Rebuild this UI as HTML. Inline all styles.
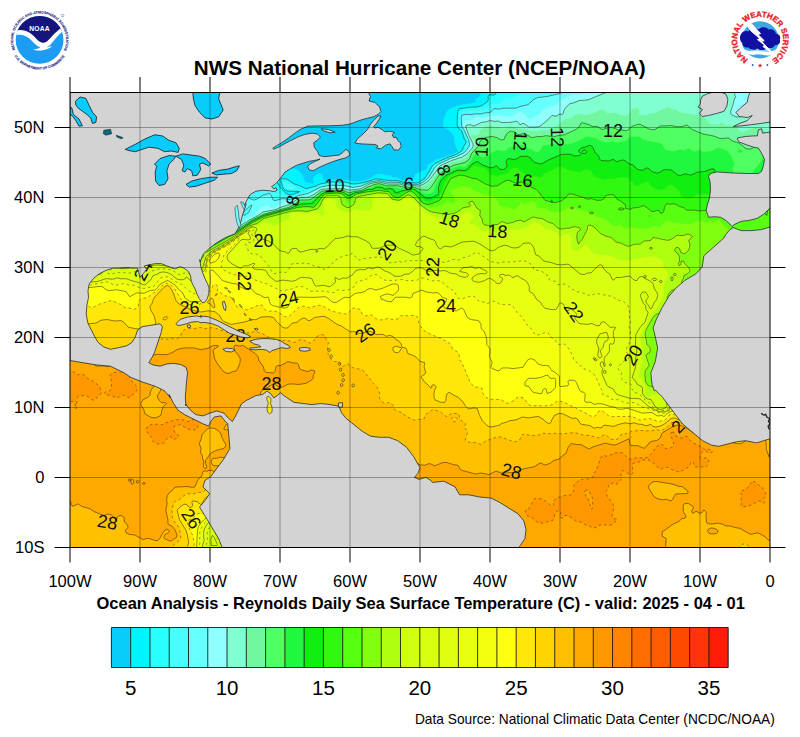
<!DOCTYPE html>
<html><head><meta charset="utf-8">
<style>
html,body{margin:0;padding:0;background:#fff;}
body{width:800px;height:737px;overflow:hidden;position:relative;font-family:"Liberation Sans",sans-serif;}
svg{position:absolute;left:0;top:0;}
text{font-family:"Liberation Sans",sans-serif;}
</style></head><body>
<svg width="800" height="737" viewBox="0 0 800 737">
<defs>
<clipPath id="mapclip"><rect x="70" y="92.5" width="700" height="455"/></clipPath>
</defs>
<rect x="0" y="0" width="800" height="737" fill="#fff"/>
<!-- MAP -->
<g id="map" clip-path="url(#mapclip)">
<rect x="70" y="92.5" width="700" height="455" fill="#ffa800"/>
<g id="sst" stroke="none" fill-rule="evenodd">
<path fill="#08ccfc" stroke="#08ccfc" stroke-width="0.6" d="M162.0,90.5 182.8,90.5 184.7,93.5 186.0,96.9 192.0,97.0 200.0,101.5 206.0,102.4 207.0,102.1 211.0,97.9 213.0,97.3 215.2,92.5 215.4,90.5 479.4,90.5 479.3,92.5 480.0,94.1 481.0,94.5 481.0,95.5 478.0,98.1 475.0,99.2 475.0,100.1 476.4,101.5 475.5,102.5 458.0,105.7 450.7,108.5 446.9,111.5 445.6,115.5 444.0,118.5 443.2,126.5 444.1,127.5 448.0,129.5 452.6,133.5 454.6,138.5 454.7,142.5 456.7,148.5 458.3,150.5 458.1,151.5 457.0,152.5 452.6,154.5 435.0,160.2 427.7,165.5 427.2,168.5 426.4,169.5 420.0,172.6 416.0,173.7 414.7,175.5 414.3,178.5 413.0,179.4 410.0,179.1 407.0,180.7 403.3,180.5 400.2,179.5 397.0,177.6 392.7,177.5 390.0,175.5 386.0,175.8 383.0,174.5 380.0,174.1 376.0,174.5 370.3,178.5 363.0,181.1 355.0,181.6 347.0,179.9 339.0,180.4 332.0,179.3 328.6,180.5 326.0,180.7 322.7,179.5 322.4,175.5 321.8,174.5 320.0,173.5 317.0,174.4 313.3,177.5 313.1,179.5 314.4,182.5 313.7,183.5 312.0,183.8 305.4,182.5 302.0,174.6 299.3,171.5 296.0,169.2 280.0,168.3 279.0,167.0 278.2,162.5 275.0,158.0 272.0,156.9 268.0,157.4 262.4,155.5 258.3,152.5 257.0,148.2 253.0,145.5 251.0,145.5 249.0,148.6 245.0,150.9 242.2,153.5 241.8,154.5 241.9,157.5 241.3,158.5 240.0,159.4 238.0,158.9 235.1,156.5 234.5,155.5 234.3,153.5 231.0,152.3 225.0,148.5 223.9,147.5 223.1,145.5 228.0,141.0 232.0,140.0 233.7,137.5 235.0,133.0 240.0,129.7 243.6,128.5 244.1,127.5 242.9,125.5 239.9,124.5 237.5,125.5 236.0,127.3 235.0,127.6 234.0,127.2 232.3,124.5 232.3,119.5 230.8,118.5 230.1,119.5 229.3,123.5 226.5,126.5 226.4,127.5 229.4,131.5 229.1,133.5 226.0,136.5 223.0,136.9 217.0,140.4 208.0,133.5 204.7,129.5 201.1,127.5 200.3,124.5 199.0,122.7 194.0,120.6 186.9,116.5 182.0,111.2 172.0,102.7 171.0,100.5 174.0,100.9 175.1,100.5 175.8,99.5 176.0,97.5 175.0,95.9 173.0,95.9 170.0,98.3 169.0,98.5 163.0,94.2 161.5,91.5 161.4,90.5ZM222.2,98.5 222.8,100.5 224.0,101.6 226.0,102.7 228.0,102.8 224.0,98.5 223.0,98.0ZM227.5,109.5 226.6,111.5 227.0,113.0 228.0,113.7 230.0,113.3 230.5,111.5 230.0,109.8 229.0,109.2ZM270.7,140.5 267.2,147.5 267.0,148.5 267.8,149.5 272.0,149.8 275.0,151.6 277.0,151.8 280.0,153.1 282.0,153.0 284.0,151.7 284.4,150.5 283.9,149.5 277.0,142.3 274.0,140.5 272.0,140.0ZM482.0,94.4 482.0,94.6 481.1,94.5Z"/>
<path fill="#00f4ff" stroke="#00f4ff" stroke-width="0.6" d="M159.0,90.5 161.4,90.5 161.8,92.5 163.3,94.5 169.0,98.5 170.0,98.3 173.0,95.9 175.0,95.9 176.0,97.5 175.8,99.5 175.1,100.5 174.0,100.9 171.0,100.5 172.0,102.7 182.0,111.2 186.9,116.5 194.0,120.6 199.0,122.7 200.3,124.5 201.1,127.5 204.7,129.5 208.0,133.5 217.0,140.4 223.0,136.9 226.0,136.5 229.1,133.5 229.4,131.5 226.4,127.5 226.5,126.5 229.3,123.5 230.1,119.5 230.8,118.5 232.3,119.5 232.3,124.5 234.0,127.2 235.0,127.6 236.0,127.3 237.5,125.5 239.9,124.5 242.9,125.5 244.1,127.5 243.6,128.5 240.0,129.7 235.0,133.0 233.7,137.5 232.0,140.0 228.0,141.0 223.1,145.5 223.9,147.5 225.0,148.5 231.0,152.3 234.3,153.5 234.5,155.5 235.1,156.5 238.0,158.9 240.0,159.4 241.3,158.5 241.9,157.5 241.8,154.5 242.2,153.5 245.0,150.9 249.0,148.6 251.0,145.5 253.0,145.5 257.0,148.2 258.3,152.5 262.4,155.5 268.0,157.4 272.0,156.9 275.0,158.0 278.2,162.5 279.0,167.0 280.0,168.3 296.0,169.2 299.3,171.5 302.0,174.6 305.4,182.5 312.0,183.8 313.7,183.5 314.4,182.5 313.1,179.5 313.3,177.5 317.0,174.4 320.0,173.5 321.8,174.5 322.4,175.5 322.7,179.5 326.0,180.7 328.6,180.5 332.0,179.3 339.0,180.4 347.0,179.9 355.0,181.6 363.0,181.1 370.3,178.5 376.0,174.5 380.0,174.1 383.0,174.5 386.0,175.8 390.0,175.5 392.7,177.5 397.0,177.6 400.2,179.5 403.3,180.5 407.0,180.7 410.0,179.1 413.0,179.4 414.3,178.5 414.7,175.5 416.0,173.7 420.0,172.6 426.4,169.5 427.2,168.5 427.7,165.5 435.0,160.2 452.6,154.5 457.0,152.5 458.1,151.5 458.3,150.5 456.7,148.5 454.7,142.5 454.6,138.5 452.6,133.5 448.0,129.5 444.1,127.5 443.2,126.5 443.7,119.5 447.0,111.3 451.0,108.3 458.0,105.7 475.5,102.5 476.4,101.5 475.0,100.1 475.0,99.2 478.0,98.1 481.0,95.5 481.0,94.5 480.0,94.1 479.3,92.5 479.4,90.5 497.9,90.5 496.0,93.5 494.0,95.0 489.0,95.0 488.1,96.5 488.0,100.9 481.7,105.5 477.0,107.0 468.0,107.4 460.0,108.6 458.6,109.5 457.6,112.5 457.0,124.5 458.7,128.5 462.1,131.5 464.2,138.5 466.0,141.5 466.0,142.7 463.6,146.5 462.3,150.5 456.2,154.5 448.0,157.3 435.0,163.4 432.1,166.5 425.5,177.5 418.6,182.5 416.0,183.2 412.0,182.5 407.0,183.2 398.0,180.7 389.0,180.5 376.0,178.8 363.0,182.7 355.0,183.9 352.0,183.8 346.0,182.1 331.0,181.9 320.0,184.0 314.6,186.5 306.0,188.7 299.0,185.3 294.0,183.8 287.0,179.1 282.0,178.6 281.0,179.5 280.9,181.5 282.8,187.5 285.0,190.1 288.0,191.2 299.7,191.5 298.9,192.5 290.0,195.2 286.1,193.5 280.3,187.5 275.0,178.8 271.0,179.0 269.0,177.5 268.3,175.5 267.9,166.5 267.0,166.0 264.5,166.5 253.0,172.0 247.0,168.6 243.0,165.0 240.5,163.5 227.0,151.5 224.0,149.5 220.0,145.2 216.0,142.5 212.0,138.5 209.0,136.5 204.0,131.4 201.0,129.5 197.0,125.0 185.2,116.5 181.0,112.0 178.0,109.9 166.0,98.6 163.0,96.5 158.2,90.5ZM481.1,94.5 482.0,94.6 482.1,94.5 482.0,94.4ZM183.0,90.5 215.4,90.5 215.4,91.5 213.0,97.3 211.0,97.9 207.0,102.1 206.0,102.4 200.0,101.5 192.0,97.0 186.0,96.9ZM223.0,98.0 224.0,98.5 228.0,102.8 226.0,102.7 223.0,100.7 222.2,98.5ZM228.0,109.3 229.7,109.5 230.4,110.5 230.4,112.5 229.0,113.8 228.0,113.7 226.7,112.5 226.8,110.5ZM271.0,140.2 274.0,140.5 277.0,142.3 283.9,149.5 284.4,150.5 284.0,151.7 282.0,153.0 280.0,153.1 277.0,151.8 275.0,151.6 272.0,149.8 267.8,149.5 267.0,148.5 267.5,146.5Z"/>
<path fill="#28ffff" stroke="#28ffff" stroke-width="0.6" d="M157.0,90.5 158.2,90.5 163.0,96.5 166.0,98.6 178.0,109.9 181.0,112.0 185.2,116.5 197.0,125.0 201.0,129.5 204.0,131.4 209.0,136.5 212.0,138.5 216.0,142.5 220.0,145.2 224.0,149.5 227.0,151.5 240.5,163.5 243.0,165.0 247.0,168.6 253.0,172.0 264.5,166.5 267.0,166.0 267.9,166.5 268.3,175.5 269.0,177.5 271.0,179.0 275.0,178.8 280.3,187.5 286.1,193.5 290.0,195.2 298.9,192.5 299.7,191.5 288.0,191.2 285.0,190.1 282.8,187.5 280.9,181.5 281.0,179.5 282.0,178.6 287.0,179.1 294.0,183.8 299.0,185.3 306.0,188.7 314.6,186.5 320.0,184.0 331.0,181.9 346.0,182.1 352.0,183.8 355.0,183.9 363.0,182.7 376.0,178.8 389.0,180.5 398.0,180.7 407.0,183.2 411.0,182.6 416.0,183.2 418.0,182.8 423.4,179.5 425.5,177.5 432.1,166.5 435.0,163.4 448.0,157.3 456.2,154.5 462.3,150.5 463.6,146.5 466.0,142.7 466.0,141.5 464.2,138.5 462.1,131.5 458.7,128.5 457.0,124.5 457.6,112.5 458.0,110.5 459.0,109.0 468.0,107.4 477.0,107.0 481.7,105.5 488.0,100.9 488.1,96.5 489.0,95.0 494.0,95.0 496.0,93.5 497.9,90.5 526.9,90.5 525.0,92.1 517.8,95.5 515.0,97.6 505.0,98.8 499.0,104.2 497.0,104.5 493.0,103.3 489.0,107.4 484.0,109.6 466.0,110.7 461.0,111.6 460.0,112.5 459.4,116.5 460.0,126.5 460.9,128.5 463.6,131.5 467.5,140.5 467.9,142.5 467.2,145.5 464.2,150.5 462.2,152.5 456.0,155.6 449.0,158.0 436.0,164.4 434.0,166.5 426.4,178.5 422.4,181.5 418.7,183.5 417.0,184.0 412.0,183.5 407.0,184.1 399.0,181.7 389.0,181.6 379.0,179.9 370.0,181.4 362.0,184.3 354.0,185.7 352.0,185.7 345.0,183.8 331.0,183.4 320.0,185.8 301.4,193.5 289.0,197.5 276.0,193.1 274.3,191.5 273.4,187.5 272.0,186.1 268.0,187.8 265.0,187.3 264.1,186.5 261.3,176.5 261.0,172.0 259.0,171.5 253.0,174.1 247.0,170.1 243.0,166.4 239.9,164.5 226.7,152.5 223.0,149.9 219.0,145.9 215.4,143.5 203.6,132.5 200.0,130.1 197.0,126.4 189.0,120.0 184.0,116.9 180.0,112.5 176.0,109.7 173.1,106.5 171.0,105.3 165.2,99.5 162.0,97.0 156.6,90.5ZM284.8,182.5 284.1,183.5 284.8,186.5 287.0,188.9 291.0,189.3 294.2,188.5 295.5,187.5 288.0,183.2ZM120.0,110.0 122.0,110.3 123.1,111.5 124.8,117.5 125.4,121.5 127.7,123.5 128.1,124.5 127.0,125.6 125.0,123.7 123.4,119.5 120.0,115.0 119.1,111.5Z"/>
<path fill="#48fcff" stroke="#48fcff" stroke-width="0.6" d="M115.0,90.5 136.1,90.5 136.3,91.5 141.0,95.5 143.8,102.5 146.0,105.1 148.0,106.0 154.0,106.9 156.0,106.2 157.0,104.9 159.4,99.5 159.1,96.5 155.1,90.5 156.6,90.5 162.0,97.0 165.2,99.5 171.0,105.3 173.1,106.5 176.0,109.7 180.0,112.5 184.0,116.9 189.0,120.0 197.0,126.4 200.0,130.1 203.6,132.5 215.4,143.5 219.0,145.9 223.0,149.9 226.7,152.5 239.9,164.5 243.0,166.4 247.0,170.1 253.0,174.1 259.0,171.5 261.0,172.0 261.3,176.5 264.1,186.5 265.0,187.3 268.0,187.8 272.0,186.1 273.4,187.5 274.3,191.5 276.0,193.1 289.0,197.5 301.4,193.5 320.0,185.8 331.0,183.4 345.0,183.8 352.0,185.7 354.0,185.7 362.0,184.3 370.0,181.4 379.0,179.9 389.0,181.6 399.0,181.7 407.0,184.1 412.0,183.5 416.0,184.1 418.0,183.8 422.4,181.5 426.4,178.5 434.0,166.5 436.0,164.4 449.0,158.0 458.0,154.7 462.2,152.5 464.2,150.5 467.2,145.5 467.9,142.5 463.6,131.5 460.9,128.5 460.0,126.5 459.4,115.5 460.0,112.5 461.0,111.6 466.0,110.7 483.0,109.9 489.0,107.4 493.0,103.3 497.0,104.5 499.0,104.2 505.0,98.8 515.0,97.6 517.8,95.5 525.0,92.1 526.9,90.5 565.1,90.5 562.4,92.5 557.0,94.2 547.0,96.5 537.6,97.5 533.7,99.5 528.0,104.7 520.0,106.5 516.0,108.2 504.0,108.2 499.0,109.2 495.0,108.5 494.0,108.7 491.0,111.8 489.0,112.7 485.0,112.8 481.0,114.0 476.0,113.8 471.0,114.6 466.0,114.2 462.0,115.1 461.2,117.5 461.7,126.5 464.4,130.5 468.8,140.5 469.5,144.5 469.0,146.5 465.3,151.5 463.0,153.3 457.0,156.3 450.0,158.6 437.8,164.5 434.9,167.5 427.8,178.5 423.0,182.2 418.0,184.5 412.0,184.2 407.0,184.8 399.0,182.4 388.0,182.4 379.0,180.6 370.0,182.1 361.0,186.1 353.0,187.4 344.0,185.4 330.0,185.2 321.0,187.0 308.0,193.4 298.0,195.8 290.0,199.6 283.0,198.5 275.0,200.6 273.0,199.8 271.3,195.5 270.0,193.8 269.0,193.4 262.0,195.6 258.0,198.7 254.0,200.1 246.0,197.0 244.1,195.5 243.7,194.5 245.0,192.5 248.2,190.5 248.9,188.5 248.8,186.5 247.5,184.5 242.0,182.7 239.0,183.7 221.7,194.5 215.6,197.5 212.0,198.4 211.0,196.5 211.3,192.5 210.0,190.8 204.0,188.1 197.0,186.6 194.0,186.5 190.0,187.6 186.7,186.5 180.5,180.5 178.0,176.4 174.7,174.5 172.4,172.5 171.8,171.5 172.5,168.5 171.9,166.5 170.0,166.1 167.0,167.6 166.0,167.0 160.5,163.5 153.8,156.5 153.0,154.5 158.0,152.0 161.0,149.0 162.0,148.8 164.1,149.5 167.2,153.5 170.0,154.1 173.0,154.0 179.9,150.5 181.0,146.5 183.0,143.8 186.0,143.3 189.0,144.2 193.0,142.5 196.0,142.0 196.7,140.5 197.1,136.5 196.4,133.5 196.9,129.5 196.1,127.5 191.0,123.2 188.0,121.8 186.1,122.5 183.0,124.9 180.0,126.1 174.0,127.0 169.0,126.0 165.0,127.6 163.0,127.6 161.4,126.5 160.9,120.5 159.0,117.6 154.0,117.2 150.0,116.0 147.0,111.5 146.0,110.9 145.0,111.5 145.0,113.5 147.6,117.5 147.7,118.5 146.0,123.1 145.6,125.5 146.0,126.5 147.3,127.5 151.0,127.7 152.2,128.5 152.5,131.5 151.6,137.5 152.7,140.5 152.6,141.5 151.0,142.5 147.0,142.0 143.0,143.1 141.0,142.6 137.7,140.5 133.0,135.0 130.0,133.0 128.0,130.9 124.0,125.0 121.5,119.5 113.0,105.8 110.0,99.1 109.9,97.5 112.0,97.0 113.0,96.0 114.1,93.5 114.1,90.5ZM119.4,110.5 119.1,111.5 120.0,115.0 123.4,119.5 125.0,123.7 127.0,125.6 128.1,124.5 127.7,123.5 125.4,121.5 124.8,117.5 123.1,111.5 121.0,109.9ZM164.4,112.5 163.7,113.5 163.7,115.5 165.0,116.2 167.0,115.7 167.4,114.5 167.1,113.5 165.5,112.5ZM202.7,142.5 201.3,143.5 201.1,144.5 202.0,145.8 203.0,145.9 203.8,144.5ZM206.5,147.5 205.6,148.5 205.0,151.5 201.2,154.5 200.0,156.8 199.0,157.4 197.0,157.1 191.0,159.5 188.0,161.6 185.0,162.3 184.0,164.2 181.8,173.5 182.0,175.1 183.0,175.2 186.0,171.9 188.0,171.7 191.0,172.1 194.0,175.7 198.0,175.8 200.0,175.2 201.9,172.5 200.6,168.5 200.7,164.5 200.0,160.5 200.1,159.5 201.0,158.8 205.0,161.5 208.0,161.4 210.2,163.5 208.5,164.5 205.0,164.9 204.6,165.5 205.0,168.5 203.1,172.5 208.0,177.6 209.0,177.7 213.9,174.5 215.2,170.5 220.0,165.1 223.0,164.3 228.0,165.4 231.5,162.5 231.9,160.5 227.6,155.5 223.9,152.5 220.0,151.2 218.9,151.5 218.1,152.5 216.8,158.5 218.6,162.5 217.0,163.6 213.0,163.2 212.3,162.5 213.4,158.5 213.7,154.5 214.9,151.5 214.6,150.5 212.1,148.5 208.0,147.2ZM239.2,167.5 238.5,169.5 239.0,171.5 240.0,172.7 243.0,173.6 246.0,177.2 247.0,177.3 250.2,175.5 249.8,173.5 246.0,171.2 242.1,167.5 241.0,167.1ZM165.0,129.3 166.0,129.8 166.8,131.5 166.0,134.3 165.0,135.6 164.0,135.3 163.6,134.5 162.9,131.5 164.0,129.6ZM157.0,139.2 159.0,138.5 165.0,139.4 167.0,141.2 167.3,142.5 166.0,143.2 163.0,142.2 157.0,141.4 155.9,140.5ZM192.0,167.5 194.3,169.5 194.4,170.5 192.0,169.7ZM285.0,182.4 288.0,183.2 295.5,187.5 294.2,188.5 291.0,189.3 287.0,188.9 285.4,187.5 284.4,185.5 284.1,183.5ZM251.0,205.0 252.0,205.5 248.6,212.5 245.0,215.2 243.0,214.8 242.8,213.5 244.0,211.5Z"/>
<path fill="#68ffff" stroke="#68ffff" stroke-width="0.6" d="M105.0,90.5 114.1,90.5 114.1,93.5 113.4,95.5 112.0,97.0 109.9,97.5 110.0,99.1 113.0,105.8 121.5,119.5 124.0,125.0 128.0,130.9 130.0,133.0 133.0,135.0 137.7,140.5 141.0,142.6 143.0,143.1 147.0,142.0 151.0,142.5 152.6,141.5 152.7,140.5 151.6,137.5 152.5,131.5 152.2,128.5 151.0,127.7 147.3,127.5 146.0,126.5 145.6,125.5 146.0,123.1 147.7,118.5 147.6,117.5 145.0,113.5 145.0,111.5 146.0,110.9 147.0,111.5 150.0,116.0 154.0,117.2 159.0,117.6 160.9,120.5 161.4,126.5 163.0,127.6 165.0,127.6 169.0,126.0 174.0,127.0 180.0,126.1 183.0,124.9 186.1,122.5 188.0,121.8 191.0,123.2 196.1,127.5 196.9,129.5 196.4,133.5 197.1,136.5 196.7,140.5 196.0,142.0 193.0,142.5 189.0,144.2 186.0,143.3 183.0,143.8 181.0,146.5 179.9,150.5 173.0,154.0 170.0,154.1 167.2,153.5 164.1,149.5 162.0,148.8 161.0,149.0 158.0,152.0 153.0,154.5 153.8,156.5 160.5,163.5 166.0,167.0 167.0,167.6 170.0,166.1 171.9,166.5 172.5,168.5 171.8,171.5 172.4,172.5 174.7,174.5 178.0,176.4 180.5,180.5 186.7,186.5 190.0,187.6 194.0,186.5 197.0,186.6 204.0,188.1 210.0,190.8 211.3,192.5 211.0,196.5 212.0,198.4 215.6,197.5 221.7,194.5 239.0,183.7 242.0,182.7 247.5,184.5 248.8,186.5 248.9,188.5 248.2,190.5 245.0,192.5 243.7,194.5 244.1,195.5 246.0,197.0 254.0,200.1 258.0,198.7 262.0,195.6 269.0,193.4 270.0,193.8 271.3,195.5 273.0,199.8 275.0,200.6 283.0,198.5 290.0,199.6 298.0,195.8 308.0,193.4 321.0,187.0 330.0,185.2 344.0,185.4 353.0,187.4 361.0,186.1 370.0,182.1 379.0,180.6 388.0,182.4 399.0,182.4 407.0,184.8 412.0,184.2 418.0,184.5 423.0,182.2 427.8,178.5 434.9,167.5 437.8,164.5 450.0,158.6 457.0,156.3 463.0,153.3 465.3,151.5 469.0,146.5 469.5,144.5 468.8,140.5 464.4,130.5 461.7,126.5 461.2,117.5 462.0,115.1 466.0,114.2 471.0,114.6 476.0,113.8 481.0,114.0 485.0,112.8 489.0,112.7 491.0,111.8 494.0,108.7 495.0,108.5 499.0,109.2 504.0,108.2 516.0,108.2 520.0,106.5 528.0,104.7 533.7,99.5 537.6,97.5 547.0,96.5 557.0,94.2 562.4,92.5 565.1,90.5 592.8,90.5 586.0,93.5 578.0,94.8 573.0,94.5 571.0,95.2 559.9,101.5 556.0,105.1 553.0,106.2 549.0,106.9 545.2,109.5 542.0,110.4 539.0,115.0 531.0,119.2 529.0,119.1 522.0,112.9 519.0,112.3 517.0,112.9 514.0,115.1 511.0,116.5 505.0,116.5 496.0,114.7 487.0,117.6 476.0,117.2 472.0,120.5 464.0,120.3 463.2,122.5 463.4,126.5 470.5,141.5 471.2,145.5 470.5,147.5 467.3,151.5 464.0,154.1 458.0,157.0 450.4,159.5 439.0,165.0 436.6,167.5 428.3,179.5 424.0,182.6 419.0,185.0 417.0,185.4 412.0,184.9 407.0,185.5 399.0,183.1 388.0,183.2 379.0,181.2 370.0,182.8 361.0,187.6 354.0,188.7 350.0,188.6 344.0,187.1 336.0,186.8 322.0,188.1 309.0,195.2 299.0,196.7 290.0,202.2 285.0,201.7 282.0,202.6 277.0,206.5 274.0,208.1 271.0,208.3 267.0,205.2 260.0,207.6 257.1,211.5 255.2,215.5 251.7,217.5 247.0,219.1 244.0,222.2 242.0,222.9 240.8,219.5 240.0,218.9 236.0,219.8 234.3,219.5 234.0,218.5 237.1,214.5 240.3,208.5 237.0,206.1 233.7,202.5 232.9,200.5 232.9,196.5 230.0,194.0 229.0,193.4 227.0,193.5 208.5,202.5 207.0,203.1 206.0,202.9 199.0,196.4 185.3,186.5 171.0,173.1 159.2,163.5 144.0,147.5 137.0,141.2 128.0,131.8 124.0,125.9 120.8,119.5 113.0,106.9 104.3,90.5ZM164.5,129.5 163.2,130.5 162.9,132.5 164.0,135.3 165.0,135.6 166.0,134.3 166.8,131.5 166.0,129.8ZM156.6,139.5 155.9,140.5 157.0,141.4 163.0,142.2 166.0,143.2 167.3,142.5 167.0,141.2 165.0,139.4 159.0,138.5ZM250.4,205.5 244.0,211.5 242.8,213.5 243.0,214.8 245.0,215.2 248.6,212.5 252.0,205.5 251.0,205.0ZM137.0,90.5 155.1,90.5 158.1,94.5 159.5,98.5 158.9,101.5 156.0,106.2 154.0,106.9 148.0,106.0 146.0,105.1 143.8,102.5 141.0,95.5 136.3,91.5 136.1,90.5ZM165.0,112.4 167.0,113.4 167.4,114.5 167.0,115.7 166.0,116.2 163.7,115.5 163.7,113.5ZM203.0,142.4 203.8,144.5 203.0,145.9 202.0,145.8 201.1,144.5 201.3,143.5ZM207.0,147.3 212.1,148.5 214.6,150.5 214.9,151.5 213.7,154.5 213.4,158.5 212.3,162.5 213.0,163.2 217.0,163.6 218.6,162.5 216.8,158.5 218.1,152.5 218.9,151.5 220.0,151.2 223.9,152.5 227.6,155.5 231.9,160.5 231.5,162.5 228.0,165.4 223.0,164.3 220.0,165.1 215.2,170.5 213.9,174.5 209.0,177.7 208.0,177.6 203.1,172.5 205.0,168.5 204.6,165.5 205.0,164.9 208.5,164.5 210.2,163.5 208.0,161.4 205.0,161.5 201.0,158.8 200.1,159.5 200.0,160.5 200.7,164.5 200.6,168.5 201.9,172.5 200.0,175.2 198.0,175.8 194.0,175.7 191.0,172.1 188.0,171.7 186.0,171.9 183.0,175.2 182.0,175.1 181.8,173.5 184.0,164.2 185.0,162.3 188.0,161.6 191.0,159.5 197.0,157.1 199.0,157.4 200.0,156.8 201.2,154.5 205.0,151.5 205.6,148.5ZM191.7,168.5 192.0,169.7 194.4,170.5 194.3,169.5 193.0,168.0 192.0,167.5ZM240.0,167.1 242.0,167.4 246.0,171.2 249.0,172.8 250.3,174.5 250.2,175.5 247.0,177.3 246.0,177.2 243.0,173.6 239.7,172.5 238.5,169.5 239.0,167.8Z"/>
<path fill="#90ffff" stroke="#90ffff" stroke-width="0.6" d="M104.0,90.5 110.5,101.5 113.0,106.9 120.8,119.5 124.0,125.9 128.0,131.8 137.0,141.2 144.0,147.5 159.2,163.5 171.0,173.1 185.3,186.5 199.0,196.4 206.0,202.9 207.0,203.1 208.5,202.5 227.0,193.5 229.0,193.4 230.0,194.0 232.9,196.5 232.9,200.5 233.7,202.5 237.0,206.1 240.3,208.5 237.1,214.5 234.0,218.5 234.3,219.5 236.0,219.8 240.0,218.9 240.8,219.5 242.0,222.9 244.0,222.2 247.0,219.1 251.7,217.5 255.2,215.5 257.1,211.5 260.0,207.6 267.0,205.2 271.0,208.3 274.0,208.1 277.0,206.5 282.0,202.6 285.0,201.7 290.0,202.2 299.0,196.7 309.0,195.2 322.0,188.1 336.0,186.8 344.0,187.1 350.0,188.6 354.0,188.7 361.0,187.6 370.0,182.8 379.0,181.2 388.0,183.2 399.0,183.1 407.0,185.5 412.0,184.9 417.0,185.4 419.0,185.0 424.0,182.6 428.3,179.5 436.6,167.5 439.0,165.0 450.4,159.5 458.0,157.0 464.0,154.1 467.3,151.5 470.5,147.5 471.2,145.5 470.5,141.5 463.4,126.5 463.2,122.5 464.0,120.3 472.0,120.5 476.0,117.2 487.0,117.6 496.0,114.7 505.0,116.5 511.0,116.5 514.0,115.1 517.0,112.9 519.0,112.3 521.0,112.5 523.0,113.5 528.0,118.4 530.0,119.4 538.3,115.5 540.4,113.5 542.0,110.4 545.2,109.5 549.0,106.9 553.0,106.2 556.0,105.1 559.9,101.5 572.0,94.8 578.0,94.8 586.0,93.5 592.8,90.5 610.7,90.5 604.0,92.9 590.0,99.3 583.0,100.6 579.0,100.6 574.0,102.7 570.0,103.5 564.9,108.5 563.8,110.5 563.2,113.5 562.0,114.3 559.0,114.3 556.0,116.4 554.0,115.5 552.0,115.3 548.0,119.6 541.0,125.5 538.0,126.9 529.0,127.2 524.0,123.5 522.5,123.5 520.0,124.8 517.4,121.5 516.0,121.2 509.0,122.6 504.0,122.3 502.0,122.7 498.0,121.0 495.0,121.4 490.0,120.6 486.0,121.9 482.0,122.3 474.0,126.0 470.0,124.7 467.0,125.0 466.0,125.6 465.7,127.5 473.1,144.5 473.1,146.5 471.9,148.5 467.0,153.9 463.0,156.7 451.0,160.7 440.0,165.9 429.0,180.5 425.0,183.3 420.0,185.7 418.0,186.2 412.0,185.5 407.0,186.3 399.0,183.8 388.0,184.1 379.0,181.9 370.0,183.5 361.0,188.8 354.0,189.8 349.0,190.1 344.0,188.6 339.0,188.3 322.0,189.3 320.0,190.2 310.0,196.7 307.0,197.5 301.0,197.4 299.0,198.0 290.0,204.5 284.0,206.1 275.7,209.5 263.0,212.0 258.1,215.5 249.0,220.2 243.0,224.4 240.0,225.8 239.0,223.1 238.0,222.2 233.0,222.9 230.6,222.5 229.2,221.5 229.4,218.5 232.4,212.5 229.0,208.6 221.0,204.7 218.6,200.5 215.0,200.5 208.0,204.0 206.0,204.1 197.0,196.1 185.0,186.9 170.0,173.0 158.5,163.5 128.0,132.5 124.0,126.5 120.5,119.5 112.0,105.8ZM621.0,90.5 622.0,90.5 626.4,90.5 624.8,92.5 621.0,94.0 620.0,93.5 620.5,90.5ZM736.0,90.5 772.0,90.5 772.0,101.4 769.0,103.1 765.0,106.5 758.0,110.5 756.0,110.6 753.0,107.9 751.0,107.6 748.0,111.3 745.0,113.0 742.0,116.0 739.0,117.0 736.0,116.8 732.0,115.0 731.0,113.8 730.5,111.5 733.1,104.5 734.2,99.5 735.3,97.5 735.6,96.5 734.5,94.5 734.5,93.5 735.6,90.5Z"/>
<path fill="#80ffd0" stroke="#80ffd0" stroke-width="0.6" d="M104.0,91.2 113.0,107.5 120.5,119.5 124.0,126.5 128.0,132.5 158.5,163.5 170.0,173.0 185.0,186.9 197.0,196.1 206.0,204.1 208.0,204.0 215.0,200.5 218.6,200.5 221.0,204.7 229.0,208.6 232.4,212.5 229.4,218.5 229.2,221.5 230.6,222.5 233.0,222.9 238.0,222.2 239.0,223.1 240.0,225.8 243.0,224.4 249.0,220.2 258.1,215.5 263.0,212.0 275.7,209.5 284.0,206.1 290.0,204.5 299.0,198.0 301.0,197.4 307.0,197.5 310.0,196.7 320.0,190.2 322.0,189.3 339.0,188.3 344.0,188.6 349.0,190.1 354.0,189.8 361.0,188.8 370.0,183.5 379.0,181.9 388.0,184.1 399.0,183.8 407.0,186.3 412.0,185.5 418.0,186.2 420.0,185.7 425.0,183.3 429.0,180.5 440.0,165.9 451.0,160.7 463.0,156.7 467.0,153.9 471.9,148.5 473.1,146.5 473.1,144.5 465.7,127.5 466.0,125.6 467.0,125.0 470.0,124.7 474.0,126.0 482.0,122.3 486.0,121.9 490.0,120.6 495.0,121.4 498.0,121.0 502.0,122.7 504.0,122.3 509.0,122.6 516.0,121.2 517.4,121.5 520.0,124.8 522.5,123.5 524.0,123.5 529.0,127.2 538.0,126.9 541.0,125.5 548.0,119.6 552.0,115.3 554.0,115.5 556.0,116.4 559.0,114.3 562.0,114.3 563.2,113.5 563.8,110.5 564.9,108.5 570.0,103.5 574.0,102.7 579.0,100.6 583.0,100.6 590.0,99.3 604.0,92.9 610.7,90.5 620.5,90.5 620.0,93.5 621.0,94.0 624.8,92.5 626.4,90.5 735.6,90.5 734.5,94.5 735.6,96.5 734.2,99.5 733.1,104.5 730.5,111.5 731.0,113.8 732.0,115.0 736.0,116.8 739.0,117.0 742.0,116.0 745.0,113.0 748.0,111.3 751.0,107.6 753.0,107.9 756.0,110.6 758.0,110.5 765.0,106.5 769.0,103.1 772.0,101.4 772.0,104.2 770.0,105.4 769.4,106.5 770.0,107.6 772.0,107.7 772.0,135.1 768.0,134.1 766.0,133.1 763.0,129.5 760.0,129.2 757.0,128.1 753.0,128.4 743.0,132.1 741.0,132.1 739.0,130.9 736.0,127.2 733.0,125.8 727.0,126.0 722.0,123.2 721.0,123.3 718.0,125.3 712.0,125.0 708.8,123.5 706.0,119.2 700.0,116.1 681.0,113.1 676.0,110.2 672.0,109.5 669.1,107.5 668.0,107.4 665.0,109.3 661.0,110.2 656.0,113.1 651.0,114.0 645.0,115.8 641.0,115.6 639.0,114.6 638.4,109.5 637.4,108.5 636.0,108.1 632.6,109.5 628.9,114.5 626.0,116.2 620.0,115.6 615.0,112.9 610.0,113.7 607.0,113.5 604.0,110.7 602.0,110.0 600.0,110.4 593.0,113.9 586.0,115.3 584.0,115.3 580.0,114.3 577.0,114.4 571.0,118.8 566.0,119.6 564.0,120.5 557.0,126.2 548.0,131.0 542.0,130.5 536.0,131.9 532.0,131.2 528.0,131.3 510.0,127.1 508.0,127.1 505.0,128.8 503.0,129.2 498.0,127.2 495.0,127.2 491.0,126.1 486.3,126.5 480.4,130.5 479.0,134.0 478.0,135.2 471.9,135.5 471.9,137.5 475.9,142.5 476.3,145.5 469.5,153.5 467.0,157.4 464.0,159.4 450.0,163.5 441.0,168.3 431.8,180.5 428.0,183.9 425.0,185.7 420.0,187.6 413.0,186.2 407.0,187.0 399.0,184.6 388.0,185.0 379.0,182.6 370.1,184.5 362.0,189.5 350.0,191.5 341.0,189.4 323.0,190.2 320.0,191.4 316.0,194.6 310.0,198.2 308.0,198.8 300.0,198.7 294.0,203.5 289.0,206.4 263.0,213.7 249.0,221.2 240.0,227.3 238.0,227.7 237.0,225.3 236.0,224.7 229.0,226.8 226.0,226.0 223.4,224.5 224.6,217.5 220.0,214.1 216.0,212.4 215.0,210.9 214.0,205.2 213.2,203.5 208.0,205.3 206.0,204.9 196.6,196.5 185.0,187.4 163.0,167.4 159.0,164.6 135.0,140.5 128.0,132.9 123.7,126.5 120.1,119.5 112.0,106.4 103.2,90.5Z"/>
<path fill="#70f8a0" stroke="#70f8a0" stroke-width="0.6" d="M103.0,90.5 120.1,119.5 123.7,126.5 128.0,132.9 135.0,140.5 159.0,164.6 163.0,167.4 185.0,187.4 196.6,196.5 206.0,204.9 208.0,205.3 213.2,203.5 214.0,205.2 215.0,210.9 216.0,212.4 220.0,214.1 224.6,217.5 223.4,224.5 226.0,226.0 229.0,226.8 236.0,224.7 237.0,225.3 238.0,227.7 240.0,227.3 249.0,221.2 263.0,213.7 289.0,206.4 294.0,203.5 300.0,198.7 308.0,198.8 310.0,198.2 316.0,194.6 320.0,191.4 323.0,190.2 341.0,189.4 350.0,191.5 362.0,189.5 370.1,184.5 379.0,182.6 388.0,185.0 399.0,184.6 407.0,187.0 413.0,186.2 420.0,187.6 425.0,185.7 428.0,183.9 431.8,180.5 441.0,168.3 450.0,163.5 464.0,159.4 467.0,157.4 469.5,153.5 476.3,145.5 475.9,142.5 471.9,137.5 471.9,135.5 478.0,135.2 479.0,134.0 480.4,130.5 485.0,127.0 487.0,126.4 491.0,126.1 495.0,127.2 498.0,127.2 503.0,129.2 505.0,128.8 508.0,127.1 510.0,127.1 528.0,131.3 532.0,131.2 536.0,131.9 542.0,130.5 548.0,131.0 557.0,126.2 564.0,120.5 566.0,119.6 571.0,118.8 577.0,114.4 580.0,114.3 584.0,115.3 586.0,115.3 593.0,113.9 600.0,110.4 602.0,110.0 604.0,110.7 607.0,113.5 610.0,113.7 615.0,112.9 620.0,115.6 626.0,116.2 628.9,114.5 632.6,109.5 636.0,108.1 637.4,108.5 638.4,109.5 639.0,114.6 641.0,115.6 645.0,115.8 651.0,114.0 656.0,113.1 661.0,110.2 665.0,109.3 668.0,107.4 669.0,107.5 672.0,109.5 676.0,110.2 681.0,113.1 700.0,116.1 706.0,119.2 708.8,123.5 712.0,125.0 718.0,125.3 721.0,123.3 722.0,123.2 727.0,126.0 732.0,125.7 734.0,126.1 736.0,127.2 739.0,130.9 741.0,132.1 743.0,132.1 754.0,128.2 757.0,128.1 760.0,129.2 763.0,129.5 766.0,133.1 768.0,134.1 772.0,135.1 772.0,144.3 766.0,145.7 761.0,142.6 759.0,142.0 757.0,143.0 752.4,148.5 750.0,149.1 747.0,148.8 744.4,147.5 739.0,143.1 731.4,140.5 728.0,137.7 725.0,138.5 720.0,138.5 714.0,136.1 703.0,134.0 691.9,129.5 687.0,124.9 681.0,126.8 676.0,126.7 670.0,125.4 665.0,126.0 661.0,125.8 655.0,129.4 653.0,129.9 649.0,129.0 640.0,124.3 638.0,124.2 632.0,126.4 628.0,130.1 626.0,130.8 622.0,130.0 619.0,130.1 611.0,127.2 602.0,129.6 597.0,126.4 592.0,126.4 588.0,124.2 582.0,122.8 580.7,123.5 579.0,127.2 576.0,129.5 564.0,134.9 559.0,135.4 554.0,136.8 546.0,135.7 542.0,136.5 537.0,136.6 532.0,137.8 528.4,135.5 525.0,134.1 523.0,133.7 518.0,134.7 514.0,131.7 511.0,131.2 509.0,131.9 507.0,133.6 505.6,135.5 504.0,139.8 501.0,139.9 496.6,137.5 492.0,136.5 486.0,137.3 484.0,138.2 479.9,141.5 479.1,145.5 472.0,152.8 470.0,157.9 468.0,160.5 464.0,162.8 454.0,165.2 444.7,169.5 438.1,176.5 431.0,187.2 428.8,189.5 427.0,190.3 420.0,189.6 414.0,187.2 411.0,187.0 407.0,187.9 397.0,185.6 387.0,186.0 379.0,183.6 374.7,184.5 368.0,187.0 362.0,190.4 354.0,191.5 349.0,193.0 345.0,191.0 342.0,190.3 324.0,190.9 321.0,191.9 316.0,196.0 310.0,199.7 300.0,200.0 295.0,204.0 290.0,206.9 263.0,214.6 250.0,221.3 239.0,228.8 237.0,229.4 236.0,229.2 235.0,227.8 234.0,227.5 228.0,229.5 226.0,229.6 222.0,228.5 217.5,228.5 217.0,227.5 218.3,222.5 218.0,221.4 210.0,220.7 208.0,219.9 204.8,213.5 205.0,210.7 206.4,207.5 206.4,206.5 204.9,204.5 188.0,189.8 184.6,187.5 162.0,167.0 158.4,164.5 129.0,134.5 123.0,125.9 119.8,119.5 112.0,106.9ZM772.0,104.2 772.0,107.7 769.7,107.5 769.4,106.5 769.9,105.5ZM769.0,181.1 772.0,181.7 772.0,187.2 768.0,188.4 767.0,188.0 766.8,186.5 768.0,182.2Z"/>
<path fill="#50ff60" stroke="#50ff60" stroke-width="0.6" d="M103.0,90.8 109.8,102.5 112.0,106.9 119.8,119.5 123.0,125.9 129.0,134.5 158.4,164.5 162.0,167.0 184.6,187.5 188.0,189.8 204.9,204.5 206.4,206.5 206.4,207.5 205.0,210.7 204.8,213.5 208.0,219.9 210.0,220.7 218.0,221.4 218.3,222.5 217.0,227.5 217.5,228.5 222.0,228.5 226.0,229.6 228.0,229.5 234.0,227.5 235.0,227.8 236.0,229.2 237.0,229.4 239.0,228.8 250.0,221.3 263.0,214.6 290.0,206.9 295.0,204.0 300.0,200.0 310.0,199.7 316.0,196.0 321.0,191.9 324.0,190.9 342.0,190.3 345.0,191.0 349.0,193.0 354.0,191.5 362.0,190.4 368.0,187.0 374.7,184.5 379.0,183.6 387.0,186.0 397.0,185.6 407.0,187.9 411.0,187.0 414.0,187.2 420.0,189.6 427.0,190.3 428.8,189.5 431.0,187.2 438.1,176.5 444.7,169.5 454.0,165.2 464.0,162.8 468.0,160.5 470.0,157.9 472.0,152.8 479.1,145.5 479.9,141.5 484.0,138.2 486.0,137.3 492.0,136.5 496.6,137.5 501.0,139.9 504.0,139.8 505.6,135.5 507.0,133.6 509.0,131.9 511.0,131.2 514.0,131.7 518.0,134.7 523.0,133.7 525.0,134.1 528.4,135.5 532.0,137.8 537.0,136.6 542.0,136.5 546.0,135.7 554.0,136.8 559.0,135.4 564.0,134.9 576.0,129.5 579.0,127.2 580.7,123.5 582.0,122.8 588.0,124.2 592.0,126.4 597.0,126.4 602.0,129.6 611.0,127.2 619.0,130.1 622.0,130.0 626.0,130.8 628.0,130.1 632.0,126.4 638.0,124.2 640.0,124.3 649.0,129.0 653.0,129.9 655.0,129.4 661.0,125.8 665.0,126.0 670.0,125.4 676.0,126.7 681.0,126.8 687.0,124.9 691.9,129.5 703.0,134.0 714.0,136.1 720.0,138.5 725.0,138.5 728.0,137.7 731.4,140.5 739.0,143.1 744.4,147.5 747.0,148.8 750.0,149.1 752.4,148.5 757.0,143.0 759.0,142.0 761.0,142.6 766.0,145.7 772.0,144.3 772.0,146.5 768.5,147.5 767.3,148.5 766.8,150.5 766.9,156.5 766.0,158.7 764.0,157.0 763.0,157.3 761.0,161.6 755.0,169.5 752.0,174.9 750.0,176.6 748.0,177.1 744.0,176.5 741.0,174.2 735.0,173.8 733.3,172.5 732.3,168.5 734.2,164.5 734.0,162.5 729.4,153.5 726.0,150.4 718.0,148.0 712.0,151.2 708.0,151.4 705.0,152.2 702.0,151.8 699.0,150.0 695.0,151.7 693.0,151.8 689.0,148.4 688.0,148.5 685.0,150.4 679.0,149.9 674.0,151.5 666.0,150.6 665.0,150.1 664.0,148.5 662.0,144.1 643.0,140.0 640.4,137.5 639.0,136.9 631.0,136.9 629.0,137.7 625.0,141.3 616.0,143.0 613.0,141.7 607.0,142.7 602.0,141.9 596.0,138.6 587.0,136.6 579.0,140.9 569.0,144.6 561.0,144.1 556.0,145.1 552.0,144.3 548.0,145.3 544.0,145.5 542.6,146.5 540.2,151.5 538.0,152.7 536.0,152.3 532.0,149.8 528.0,148.9 524.0,146.0 519.0,145.8 509.7,147.5 505.0,151.2 502.0,151.3 498.0,150.3 496.0,150.6 492.0,152.7 488.0,156.0 483.0,157.8 481.0,157.1 478.0,154.5 476.0,154.3 475.0,154.7 471.1,161.5 467.6,164.5 466.0,166.8 464.0,167.5 460.0,166.6 458.0,166.8 448.0,171.0 443.1,174.5 437.7,181.5 434.0,191.5 431.0,193.7 427.0,194.2 425.0,193.8 421.0,192.2 415.1,188.5 413.0,187.9 410.0,187.9 406.0,189.0 399.0,189.0 395.0,187.2 386.0,187.4 379.0,185.1 375.0,186.1 372.0,188.1 368.0,188.3 362.0,191.1 355.0,192.0 349.0,194.4 348.0,194.2 344.0,191.6 342.0,191.1 325.0,191.6 321.0,193.2 311.0,201.2 300.0,201.9 296.2,204.5 290.0,207.7 263.0,215.2 251.0,221.4 240.0,229.0 237.0,230.5 235.0,230.9 232.0,229.9 226.0,232.5 218.0,232.8 214.0,233.7 209.5,235.5 206.0,235.8 204.7,235.5 203.8,234.5 204.4,230.5 204.0,230.0 195.8,227.5 194.4,225.5 196.9,220.5 196.1,218.5 194.3,216.5 194.8,215.5 196.0,215.0 198.0,215.4 199.3,212.5 205.0,207.0 205.1,205.5 204.4,204.5 188.0,190.3 184.1,187.5 162.0,167.5 158.0,164.6 132.0,138.3 127.8,133.5 123.0,126.3 119.6,119.5 112.0,107.3 102.6,90.5ZM738.7,149.5 737.7,150.5 739.0,152.5 741.0,152.7 742.6,151.5 741.0,150.2ZM769.0,169.8 772.0,169.8 772.0,181.7 769.0,181.1 768.6,181.5 767.0,185.3 766.8,187.5 768.0,188.4 772.0,187.2 772.0,188.1 767.0,189.5 765.5,188.5 765.4,186.5 767.0,173.8 768.0,170.7Z"/>
<path fill="#20f840" stroke="#20f840" stroke-width="0.6" d="M103.0,91.3 109.6,102.5 112.0,107.3 119.6,119.5 123.0,126.3 127.8,133.5 132.0,138.3 158.0,164.6 162.0,167.5 184.1,187.5 188.0,190.3 204.4,204.5 205.1,205.5 205.0,207.0 199.3,212.5 198.0,215.4 196.0,215.0 194.8,215.5 194.3,216.5 196.1,218.5 196.9,220.5 194.4,225.5 195.8,227.5 204.0,230.0 204.4,230.5 203.8,234.5 204.7,235.5 206.0,235.8 209.5,235.5 214.0,233.7 218.0,232.8 226.0,232.5 232.0,229.9 235.0,230.9 237.0,230.5 240.0,229.0 251.0,221.4 263.0,215.2 290.0,207.7 296.2,204.5 300.0,201.9 311.0,201.2 321.0,193.2 325.0,191.6 342.0,191.1 344.0,191.6 348.0,194.2 349.0,194.4 355.0,192.0 362.0,191.1 368.0,188.3 372.0,188.1 375.0,186.1 379.0,185.1 386.0,187.4 395.0,187.2 399.0,189.0 406.0,189.0 410.0,187.9 413.0,187.9 415.1,188.5 421.0,192.2 425.0,193.8 427.0,194.2 431.0,193.7 434.0,191.5 437.7,181.5 443.1,174.5 448.0,171.0 458.0,166.8 460.0,166.6 464.0,167.5 466.0,166.8 467.6,164.5 471.1,161.5 474.0,155.9 476.0,154.3 478.0,154.5 481.0,157.1 483.0,157.8 488.0,156.0 492.0,152.7 496.4,150.5 498.0,150.3 502.0,151.3 505.0,151.2 509.7,147.5 520.0,145.7 524.0,146.0 528.0,148.9 532.0,149.8 536.0,152.3 538.0,152.7 540.2,151.5 542.6,146.5 544.0,145.5 548.0,145.3 552.0,144.3 556.0,145.1 561.0,144.1 569.0,144.6 579.0,140.9 587.0,136.6 596.0,138.6 602.0,141.9 607.0,142.7 613.0,141.7 616.0,143.0 625.0,141.3 629.0,137.7 631.0,136.9 639.0,136.9 640.4,137.5 643.0,140.0 662.0,144.1 665.0,150.1 672.0,151.4 675.0,151.4 680.0,149.8 685.0,150.4 688.0,148.5 689.0,148.4 693.0,151.8 695.0,151.7 699.0,150.0 702.0,151.8 705.0,152.2 708.0,151.4 712.0,151.2 717.0,148.3 719.0,148.1 727.0,150.9 730.7,155.5 734.2,163.5 732.3,168.5 732.8,171.5 734.0,173.3 736.0,174.1 741.0,174.2 744.0,176.5 747.0,177.0 750.0,176.6 752.0,174.9 755.0,169.5 761.0,161.6 763.0,157.3 764.0,157.0 766.0,158.7 766.9,156.5 766.8,150.5 767.3,148.5 768.5,147.5 772.0,146.5 772.0,169.8 769.0,169.8 768.0,170.7 766.7,175.5 765.3,187.5 766.0,189.2 767.0,189.5 772.0,188.1 772.0,188.9 767.4,190.5 765.0,192.1 763.0,192.0 759.0,193.5 752.0,190.5 750.0,190.3 747.0,191.9 746.0,191.7 743.0,190.0 733.0,188.0 732.0,188.0 727.0,190.8 725.0,190.9 723.2,189.5 721.1,185.5 714.9,181.5 714.5,179.5 715.3,176.5 714.7,170.5 714.0,169.0 712.0,168.8 704.0,171.7 697.0,172.2 691.0,175.2 685.0,173.8 680.0,175.7 677.0,174.7 672.1,170.5 670.0,169.8 664.0,169.7 659.4,172.5 657.0,173.0 652.0,171.7 648.0,168.0 646.0,168.2 643.0,170.2 640.0,170.0 637.0,169.1 633.0,164.9 629.0,163.8 626.4,161.5 624.0,160.2 622.0,160.0 617.0,161.7 613.0,159.3 609.0,161.0 601.0,160.5 600.0,159.5 598.3,155.5 595.0,152.6 593.0,147.4 591.0,145.7 589.0,145.3 585.0,147.2 582.0,147.5 580.0,148.9 578.9,150.5 578.9,151.5 580.8,153.5 580.8,154.5 579.6,155.5 574.0,156.0 571.0,154.3 565.0,154.2 561.0,154.7 548.0,160.1 542.0,163.8 540.0,163.8 534.8,162.5 533.3,161.5 530.1,157.5 527.0,156.2 520.0,156.5 517.6,158.5 514.0,159.6 509.0,158.6 507.2,159.5 506.0,161.5 506.9,164.5 506.9,166.5 505.2,168.5 503.0,169.6 501.0,169.4 499.0,168.5 497.0,166.1 496.0,165.8 493.0,167.7 489.0,167.5 481.6,164.5 478.0,161.7 477.0,161.5 472.0,164.1 468.1,168.5 466.0,170.1 464.0,170.7 459.0,170.1 457.0,170.3 445.7,175.5 441.1,180.5 440.0,182.5 438.5,187.5 438.7,192.5 438.2,194.5 431.0,198.2 426.0,198.1 415.0,189.8 411.0,188.6 406.0,190.2 402.0,190.8 398.0,192.4 395.0,192.4 394.2,190.5 392.0,189.0 389.0,188.5 385.0,189.2 382.0,187.5 378.0,187.1 376.0,187.5 372.0,189.5 368.0,189.5 362.0,191.8 355.0,192.8 349.0,195.7 347.0,195.1 344.0,192.6 342.0,192.0 336.0,191.7 325.0,192.4 321.2,194.5 312.0,203.4 301.0,204.1 290.0,208.4 264.0,215.4 251.8,221.5 240.0,229.7 236.0,231.8 234.0,232.3 231.0,232.0 220.0,237.0 214.0,237.5 207.0,239.4 198.0,239.6 196.2,238.5 197.4,234.5 197.0,233.9 187.0,233.8 182.0,232.7 180.0,231.7 178.0,229.3 176.1,228.5 175.9,227.5 185.0,220.6 188.0,219.1 194.0,214.0 202.0,208.8 204.4,206.5 204.0,204.8 196.0,197.4 184.0,188.0 162.0,168.0 158.0,165.2 147.0,153.6 133.0,140.0 127.6,133.5 122.8,126.5 119.3,119.5 111.8,107.5 102.3,90.5ZM739.0,149.5 741.6,150.5 742.6,151.5 741.0,152.7 739.0,152.5 737.7,150.5ZM583.0,150.5 585.0,149.8 586.6,151.5 586.6,152.5 585.0,153.5 582.8,153.5 582.1,152.5ZM687.0,180.5 687.0,180.5 687.0,180.5 687.0,180.5Z"/>
<path fill="#10f010" stroke="#10f010" stroke-width="0.6" d="M102.8,91.5 109.3,102.5 111.8,107.5 119.3,119.5 122.8,126.5 127.6,133.5 133.0,140.0 147.0,153.6 158.0,165.2 162.0,168.0 184.0,188.0 196.0,197.4 204.0,204.8 204.4,206.5 202.0,208.8 194.0,214.0 188.0,219.1 185.0,220.6 175.9,227.5 176.1,228.5 178.0,229.3 180.0,231.7 182.0,232.7 187.0,233.8 197.0,233.9 197.4,234.5 196.2,238.5 198.0,239.6 207.0,239.4 214.0,237.5 220.0,237.0 231.0,232.0 234.0,232.3 236.0,231.8 240.0,229.7 251.8,221.5 264.0,215.4 290.0,208.4 301.0,204.1 312.0,203.4 321.2,194.5 325.0,192.4 336.0,191.7 342.0,192.0 344.0,192.6 347.0,195.1 349.0,195.7 355.0,192.8 362.0,191.8 368.0,189.5 372.0,189.5 376.0,187.5 378.0,187.1 382.0,187.5 385.0,189.2 389.0,188.5 392.0,189.0 394.2,190.5 395.0,192.4 398.0,192.4 402.0,190.8 406.0,190.2 411.0,188.6 415.0,189.8 426.0,198.1 431.0,198.2 438.2,194.5 438.7,192.5 438.5,187.5 440.0,182.5 441.1,180.5 445.7,175.5 457.0,170.3 459.0,170.1 464.0,170.7 466.0,170.1 468.1,168.5 472.0,164.1 477.0,161.5 478.0,161.7 481.6,164.5 489.0,167.5 493.0,167.7 496.0,165.8 497.0,166.1 499.0,168.5 501.0,169.4 503.0,169.6 505.2,168.5 506.9,166.5 506.9,164.5 506.0,161.5 507.2,159.5 509.0,158.6 514.0,159.6 517.6,158.5 520.0,156.5 527.0,156.2 530.1,157.5 533.3,161.5 534.8,162.5 540.0,163.8 542.0,163.8 548.0,160.1 561.0,154.7 565.0,154.2 571.0,154.3 574.0,156.0 579.6,155.5 580.8,154.5 580.8,153.5 578.9,151.5 578.9,150.5 580.0,148.9 582.0,147.5 585.0,147.2 589.0,145.3 591.0,145.7 593.0,147.4 595.0,152.6 598.3,155.5 600.0,159.5 602.0,160.9 609.0,161.0 613.0,159.3 617.0,161.7 622.0,160.0 624.0,160.2 626.4,161.5 629.0,163.8 633.0,164.9 636.0,168.5 638.0,169.5 643.0,170.2 646.0,168.2 648.0,168.0 652.0,171.7 657.0,173.0 659.4,172.5 664.0,169.7 670.0,169.8 672.1,170.5 677.0,174.7 680.0,175.7 685.0,173.8 690.0,175.3 692.0,175.0 696.1,172.5 704.0,171.7 708.0,169.9 713.0,168.7 714.0,169.0 714.7,170.5 715.3,176.5 714.5,179.5 714.9,181.5 721.1,185.5 723.2,189.5 725.0,190.9 727.0,190.8 732.0,188.0 733.0,188.0 743.0,190.0 746.0,191.7 747.0,191.9 750.0,190.3 752.0,190.5 759.0,193.5 763.0,192.0 765.0,192.1 767.4,190.5 772.0,188.9 772.0,190.5 768.0,192.5 765.0,199.8 763.0,201.2 760.0,205.0 756.0,206.3 753.0,208.1 751.0,208.5 744.0,204.4 742.0,204.2 738.0,207.5 730.0,202.6 726.0,203.0 723.6,202.5 714.0,196.1 709.0,194.3 702.0,195.0 697.0,194.7 695.5,195.5 693.0,199.0 690.0,198.6 686.0,199.1 684.0,198.6 680.7,196.5 679.7,192.5 678.3,190.5 673.0,185.9 671.0,185.0 669.1,185.5 664.3,189.5 660.0,190.4 653.0,188.1 648.0,182.2 647.0,182.1 640.8,184.5 637.0,186.6 636.0,186.4 628.0,178.6 625.0,177.4 618.0,177.9 614.0,179.3 610.0,178.6 606.0,179.9 603.0,179.8 595.0,177.0 592.2,174.5 591.0,170.9 589.0,169.9 585.0,169.5 581.0,172.3 579.0,172.6 568.0,170.1 562.0,167.1 560.0,166.9 557.0,167.9 554.0,169.9 545.0,173.3 542.0,177.1 540.0,177.7 535.0,176.6 531.0,177.0 528.0,176.5 520.0,170.6 518.0,168.4 515.0,167.7 512.0,168.9 506.0,174.5 500.0,175.4 497.0,176.5 493.0,175.0 491.0,175.4 490.0,175.1 488.4,171.5 486.1,169.5 479.0,166.7 474.0,165.8 472.6,166.5 469.1,170.5 467.0,172.0 465.0,172.6 457.0,172.7 449.0,176.6 444.6,182.5 443.7,186.5 440.0,196.1 432.0,201.2 428.0,201.7 425.0,201.0 423.0,199.6 419.5,195.5 415.1,191.5 411.0,189.6 403.0,192.5 397.0,195.7 393.0,194.5 392.1,193.5 391.5,191.5 390.0,190.2 385.0,190.3 380.0,188.7 377.0,188.9 372.0,190.6 368.0,190.7 362.0,192.5 356.0,193.3 349.0,197.0 347.0,196.5 343.6,193.5 341.0,192.7 337.0,192.4 326.0,192.9 324.0,193.7 321.7,195.5 313.0,205.5 303.0,205.5 296.0,206.8 290.0,209.0 265.5,215.5 251.2,222.5 237.0,232.2 227.5,235.5 217.0,241.5 214.0,242.3 201.0,242.6 196.0,243.4 187.0,246.9 185.0,246.9 183.9,246.5 183.4,245.5 183.7,244.5 190.3,239.5 190.8,238.5 190.1,237.5 186.0,238.2 182.0,239.9 177.0,239.6 169.3,235.5 168.5,234.5 168.8,233.5 172.0,228.2 174.0,226.0 180.0,222.7 194.0,212.9 199.0,210.1 203.5,206.5 203.8,205.5 196.0,198.0 184.0,188.5 161.9,168.5 158.0,165.9 147.3,154.5 133.0,140.7 127.3,133.5 122.6,126.5 119.1,119.5 111.6,107.5 102.0,90.5ZM583.0,150.5 582.1,152.5 582.8,153.5 585.0,153.5 586.6,152.5 586.6,151.5 585.0,149.8ZM687.0,180.5 687.0,180.5 687.0,180.5 687.0,180.5Z"/>
<path fill="#30f810" stroke="#30f810" stroke-width="0.6" d="M102.0,90.5 109.0,102.5 111.6,107.5 119.1,119.5 122.6,126.5 133.0,140.7 147.3,154.5 158.0,165.9 161.9,168.5 184.0,188.5 196.0,198.0 203.8,205.5 203.5,206.5 199.0,210.1 194.0,212.9 180.0,222.7 174.0,226.0 172.0,228.2 168.8,233.5 168.5,234.5 169.3,235.5 177.0,239.6 182.0,239.9 186.0,238.2 190.1,237.5 190.8,238.5 190.3,239.5 183.7,244.5 183.4,245.5 183.9,246.5 185.0,246.9 187.0,246.9 196.0,243.4 201.0,242.6 214.0,242.3 217.0,241.5 227.5,235.5 237.0,232.2 251.2,222.5 265.5,215.5 290.0,209.0 296.0,206.8 303.0,205.5 313.0,205.5 321.7,195.5 324.0,193.7 326.0,192.9 337.0,192.4 341.0,192.7 343.6,193.5 347.0,196.5 349.0,197.0 356.0,193.3 362.0,192.5 368.0,190.7 372.0,190.6 377.0,188.9 380.0,188.7 385.0,190.3 390.0,190.2 391.5,191.5 392.1,193.5 393.0,194.5 397.0,195.7 403.0,192.5 411.0,189.6 415.1,191.5 419.5,195.5 423.0,199.6 425.0,201.0 428.0,201.7 432.0,201.2 440.0,196.1 443.7,186.5 444.6,182.5 449.0,176.6 457.0,172.7 465.0,172.6 467.0,172.0 469.1,170.5 472.6,166.5 474.0,165.8 479.0,166.7 486.1,169.5 488.4,171.5 490.0,175.1 491.0,175.4 493.0,175.0 497.0,176.5 500.0,175.4 506.0,174.5 512.0,168.9 515.0,167.7 518.0,168.4 520.0,170.6 528.0,176.5 531.0,177.0 535.0,176.6 540.0,177.7 542.0,177.1 545.0,173.3 554.0,169.9 557.0,167.9 560.0,166.9 562.0,167.1 568.0,170.1 579.0,172.6 581.0,172.3 585.0,169.5 589.0,169.9 591.0,170.9 592.2,174.5 595.0,177.0 603.0,179.8 606.0,179.9 610.0,178.6 614.0,179.3 618.0,177.9 625.0,177.4 628.0,178.6 636.0,186.4 637.0,186.6 640.8,184.5 647.0,182.1 648.0,182.2 653.0,188.1 660.0,190.4 664.3,189.5 669.1,185.5 671.0,185.0 673.0,185.9 678.3,190.5 679.7,192.5 680.7,196.5 684.0,198.6 686.0,199.1 690.0,198.6 693.0,199.0 695.5,195.5 697.0,194.7 702.0,195.0 709.0,194.3 714.0,196.1 723.6,202.5 726.0,203.0 730.0,202.6 738.0,207.5 742.0,204.2 744.0,204.4 751.0,208.5 753.0,208.1 756.0,206.3 760.0,205.0 763.0,201.2 765.0,199.8 768.0,192.5 772.0,190.5 772.0,199.1 769.0,199.2 768.0,200.7 767.3,204.5 768.0,208.5 767.0,215.2 766.0,215.1 765.0,213.3 764.0,212.8 762.4,213.5 759.5,216.5 756.0,217.7 750.0,217.1 743.0,219.1 735.0,218.2 727.0,214.5 723.0,211.7 716.0,209.7 699.0,210.9 695.0,210.2 687.0,210.1 686.0,209.8 683.7,207.5 680.0,206.7 676.0,204.3 673.0,203.7 670.0,204.2 667.0,203.6 666.0,204.2 664.4,207.5 663.8,211.5 663.0,212.6 661.0,213.3 660.0,212.7 659.0,210.7 658.0,210.2 652.0,211.8 644.0,205.5 638.0,207.5 633.0,207.9 630.0,209.3 625.2,208.5 625.7,206.5 625.0,204.3 619.7,200.5 617.0,199.2 614.5,195.5 612.0,194.5 606.0,195.3 605.0,196.2 604.2,198.5 602.6,199.5 601.0,200.2 597.0,200.4 592.0,198.7 587.0,199.2 583.4,197.5 572.0,194.0 569.0,194.0 567.8,194.5 565.8,197.5 562.0,200.5 556.0,202.5 554.0,202.7 545.0,200.4 538.3,191.5 536.0,189.2 531.0,187.1 526.1,183.5 522.0,181.9 516.0,183.4 511.0,181.0 507.0,180.2 501.0,183.3 498.0,185.7 492.0,186.3 486.0,184.3 477.0,178.9 473.0,178.5 463.9,175.5 460.0,175.1 455.1,176.5 450.9,178.5 449.0,181.2 444.4,190.5 441.0,198.9 439.2,200.5 432.0,203.6 428.0,204.5 423.8,203.5 422.0,202.2 417.7,196.5 414.6,193.5 411.9,191.5 410.0,191.0 406.5,192.5 399.0,197.2 397.0,197.7 393.0,196.4 389.0,191.5 384.0,191.2 380.0,190.2 367.0,191.9 357.0,193.9 349.0,198.5 347.0,198.1 343.1,194.5 341.0,193.6 337.0,193.1 326.0,193.7 323.0,195.5 315.0,206.1 313.0,207.4 309.0,206.6 303.0,206.7 296.0,207.8 264.4,216.5 250.0,224.0 237.0,232.9 229.0,236.6 215.0,244.6 210.0,246.2 206.0,245.5 202.0,245.6 195.0,247.5 190.0,250.3 188.0,250.6 180.0,248.5 179.4,247.5 179.4,244.5 178.1,243.5 176.0,243.3 170.0,244.1 166.0,242.4 163.0,241.9 162.0,241.0 161.0,238.5 161.6,237.5 168.9,231.5 170.6,228.5 169.7,223.5 167.0,218.2 166.2,215.5 167.0,215.1 172.0,215.7 177.0,218.3 178.3,220.5 180.0,220.5 183.0,218.1 188.6,215.5 193.0,212.3 200.0,208.6 203.1,205.5 195.8,198.5 181.6,187.5 171.0,177.5 166.0,173.8 162.0,169.6 157.0,166.6 147.0,155.0 134.0,143.1 122.3,126.5 119.0,119.8 111.3,107.5ZM153.0,177.2 154.0,176.9 155.0,177.4 156.0,179.8 158.3,181.5 158.7,182.5 156.7,185.5 158.2,190.5 158.0,197.9 156.0,196.6 154.0,193.7 149.4,183.5 149.0,179.2 150.0,178.3ZM612.0,206.1 613.6,206.5 613.2,207.5 612.0,207.1 611.6,206.5ZM619.0,208.3 621.0,207.7 623.8,208.5 623.7,209.5 621.0,210.2 618.8,209.5ZM648.0,215.5 651.0,214.7 652.2,215.5 651.7,216.5 650.0,217.3 647.4,216.5Z"/>
<path fill="#58ff10" stroke="#58ff10" stroke-width="0.6" d="M102.0,90.9 111.3,107.5 119.0,119.8 122.3,126.5 134.0,143.1 147.0,155.0 157.0,166.6 162.0,169.6 166.0,173.8 171.0,177.5 181.6,187.5 195.8,198.5 203.1,205.5 200.0,208.6 193.0,212.3 188.6,215.5 183.0,218.1 180.0,220.5 178.3,220.5 177.0,218.3 172.0,215.7 167.0,215.1 166.2,215.5 167.0,218.2 169.7,223.5 170.6,228.5 168.9,231.5 161.6,237.5 161.0,238.5 161.3,239.5 163.0,241.9 166.0,242.4 169.0,243.9 178.1,243.5 179.4,244.5 179.4,247.5 180.0,248.5 182.0,249.3 189.0,250.6 195.0,247.5 202.0,245.6 206.0,245.5 210.0,246.2 215.0,244.6 229.0,236.6 239.0,231.7 252.5,222.5 262.2,217.5 267.5,215.5 296.0,207.8 303.0,206.7 309.0,206.6 313.0,207.4 315.0,206.1 323.0,195.5 326.0,193.7 337.0,193.1 341.0,193.6 343.1,194.5 347.0,198.1 349.0,198.5 357.0,193.9 367.0,191.9 380.0,190.2 384.0,191.2 389.0,191.5 393.0,196.4 397.0,197.7 399.0,197.2 406.5,192.5 410.0,191.0 411.9,191.5 414.6,193.5 417.7,196.5 422.0,202.2 423.8,203.5 428.0,204.5 432.0,203.6 439.2,200.5 441.0,198.9 444.4,190.5 449.0,181.2 450.9,178.5 455.1,176.5 461.0,175.1 463.9,175.5 473.0,178.5 477.0,178.9 486.0,184.3 492.0,186.3 498.0,185.7 501.0,183.3 507.0,180.2 511.0,181.0 516.0,183.4 522.0,181.9 526.1,183.5 531.0,187.1 536.0,189.2 538.3,191.5 545.0,200.4 554.0,202.7 556.0,202.5 562.0,200.5 565.8,197.5 567.8,194.5 569.0,194.0 572.0,194.0 583.4,197.5 587.0,199.2 592.0,198.7 597.0,200.4 601.0,200.2 602.6,199.5 604.2,198.5 605.0,196.2 606.0,195.3 612.0,194.5 614.5,195.5 617.0,199.2 619.7,200.5 625.0,204.3 625.7,206.5 625.2,208.5 630.0,209.3 633.0,207.9 638.0,207.5 644.0,205.5 652.0,211.8 658.0,210.2 659.0,210.7 660.0,212.7 661.0,213.3 663.0,212.6 663.8,211.5 664.4,207.5 666.0,204.2 667.0,203.6 670.0,204.2 673.0,203.7 676.0,204.3 680.0,206.7 683.7,207.5 686.0,209.8 687.0,210.1 695.0,210.2 699.0,210.9 716.0,209.7 723.0,211.7 727.0,214.5 735.0,218.2 743.0,219.1 750.0,217.1 756.0,217.7 759.5,216.5 762.4,213.5 764.0,212.8 765.0,213.3 766.0,215.1 767.0,215.2 768.0,208.5 767.3,204.5 768.0,200.7 769.0,199.2 772.0,199.1 772.0,267.4 769.8,266.5 768.0,260.9 767.5,253.5 765.8,243.5 766.0,235.0 765.0,230.8 764.0,229.9 759.0,235.5 756.0,237.7 755.0,237.9 752.0,236.8 749.0,238.3 747.0,238.4 744.4,235.5 742.0,234.7 740.0,235.3 737.0,238.1 734.0,238.2 732.6,237.5 731.0,235.1 730.9,230.5 730.4,229.5 725.4,227.5 721.0,222.3 719.0,220.9 717.0,220.4 716.0,220.6 713.0,223.1 709.0,221.8 706.0,222.8 704.0,222.8 700.0,221.0 694.6,222.5 692.0,224.1 690.0,224.6 678.0,223.4 674.0,223.7 668.5,221.5 666.0,221.2 663.8,222.5 661.0,227.6 659.0,227.7 654.0,226.4 649.0,228.2 642.0,229.2 634.0,228.6 630.0,226.9 628.1,227.5 626.0,229.4 624.0,228.6 620.0,225.1 618.0,225.3 615.3,226.5 614.0,226.4 604.8,219.5 596.0,216.6 592.0,213.5 588.0,213.0 584.0,211.2 578.0,209.9 572.0,206.6 570.0,207.0 562.0,211.4 554.0,212.7 550.0,211.7 545.0,208.5 538.0,208.5 536.8,207.5 535.0,203.1 532.0,201.4 524.0,204.4 523.0,204.2 521.9,202.5 521.0,202.0 520.4,202.5 519.5,205.5 516.0,208.8 514.0,209.7 506.0,207.2 501.0,206.6 498.9,205.5 497.1,200.5 493.0,196.6 491.0,195.9 483.0,195.4 480.0,193.1 475.0,191.5 469.0,187.4 462.0,186.3 453.0,189.5 451.6,190.5 451.4,192.5 454.8,197.5 455.7,200.5 455.3,202.5 454.0,204.0 452.0,204.1 449.0,201.9 447.0,201.3 446.0,201.8 444.0,204.9 443.0,205.6 442.0,206.0 439.9,205.5 436.0,207.3 431.0,208.1 429.0,207.7 422.1,204.5 415.0,196.4 411.0,193.4 409.0,192.8 406.9,193.5 400.0,198.5 398.0,199.0 393.0,198.2 389.0,193.3 387.0,192.2 378.0,191.5 366.0,193.2 356.0,195.5 352.0,198.5 350.3,200.5 349.0,203.5 348.0,204.0 347.0,203.4 344.7,198.5 342.3,195.5 341.0,194.8 337.0,194.1 326.2,194.5 323.4,196.5 319.3,203.5 315.0,208.0 312.0,208.7 309.0,208.0 303.0,208.0 296.0,209.1 281.1,212.5 264.0,217.4 249.0,225.3 240.5,231.5 226.0,240.1 210.0,248.5 208.0,248.8 205.0,248.0 203.0,248.1 196.0,250.5 189.0,253.9 177.0,251.4 174.9,250.5 174.1,248.5 173.0,247.9 156.0,251.1 154.9,250.5 154.4,249.5 153.9,243.5 154.4,242.5 169.0,230.5 169.8,228.5 169.1,225.5 164.0,214.5 161.6,207.5 158.0,202.7 153.0,193.6 149.0,184.9 145.7,174.5 141.1,163.5 140.6,159.5 143.6,154.5 143.1,153.5 140.0,150.6 137.0,150.1 136.0,149.2 130.4,138.5 122.1,126.5 119.0,120.3 110.4,106.5 101.5,90.5ZM152.3,177.5 150.0,178.3 149.0,179.2 149.4,183.5 154.0,193.7 156.0,196.6 158.0,197.9 158.2,190.5 156.7,185.5 158.7,182.5 158.3,181.5 156.0,179.8 155.0,177.4 154.0,176.9ZM186.2,193.5 185.4,195.5 186.1,196.5 191.0,199.3 194.0,202.7 195.8,208.5 198.0,208.6 199.9,207.5 201.3,205.5 200.8,204.5 194.2,198.5 192.0,197.6 188.0,193.5ZM611.6,206.5 613.0,207.5 613.6,206.5 613.0,206.1ZM618.8,208.5 618.8,209.5 621.0,210.2 623.7,209.5 623.8,208.5 621.0,207.7ZM647.8,215.5 647.4,216.5 650.0,217.3 651.7,216.5 652.2,215.5 651.0,214.7ZM772.0,275.2 772.0,275.5 772.0,300.8 771.0,300.0 770.0,298.0 769.2,284.5 770.0,277.2Z"/>
<path fill="#80ff10" stroke="#80ff10" stroke-width="0.6" d="M102.0,91.5 110.4,106.5 119.0,120.3 122.1,126.5 129.8,137.5 136.0,149.2 137.0,150.1 140.0,150.6 143.1,153.5 143.6,154.5 140.6,159.5 141.1,163.5 145.7,174.5 149.0,184.9 153.0,193.6 158.0,202.7 161.6,207.5 164.0,214.5 169.1,225.5 169.8,228.5 169.0,230.5 154.4,242.5 153.9,243.5 154.4,249.5 154.9,250.5 156.0,251.1 173.0,247.9 174.1,248.5 174.9,250.5 177.0,251.4 189.0,253.9 196.0,250.5 203.0,248.1 205.0,248.0 208.0,248.8 210.0,248.5 226.0,240.1 240.5,231.5 249.0,225.3 264.0,217.4 281.1,212.5 296.0,209.1 303.0,208.0 309.0,208.0 312.0,208.7 315.0,208.0 319.3,203.5 323.4,196.5 326.2,194.5 337.0,194.1 341.0,194.8 342.3,195.5 344.7,198.5 347.0,203.4 348.0,204.0 349.0,203.5 350.3,200.5 352.0,198.5 356.0,195.5 366.0,193.2 378.0,191.5 387.0,192.2 389.0,193.3 393.0,198.2 398.0,199.0 400.0,198.5 406.9,193.5 409.0,192.8 411.0,193.4 415.0,196.4 422.1,204.5 429.0,207.7 431.0,208.1 436.0,207.3 439.9,205.5 442.0,206.0 443.0,205.6 444.0,204.9 446.0,201.8 447.0,201.3 449.0,201.9 452.0,204.1 454.0,204.0 455.3,202.5 455.7,200.5 454.8,197.5 451.4,192.5 451.6,190.5 460.0,186.7 463.0,186.4 469.0,187.4 475.0,191.5 480.0,193.1 483.0,195.4 491.0,195.9 493.0,196.6 497.1,200.5 498.9,205.5 501.0,206.6 506.0,207.2 514.0,209.7 516.0,208.8 519.5,205.5 520.4,202.5 521.0,202.0 521.9,202.5 523.0,204.2 524.0,204.4 532.0,201.4 535.0,203.1 536.8,207.5 538.0,208.5 545.0,208.5 550.0,211.7 554.0,212.7 562.0,211.4 570.0,207.0 572.0,206.6 578.0,209.9 584.0,211.2 588.0,213.0 592.0,213.5 596.0,216.6 604.8,219.5 614.0,226.4 615.3,226.5 618.0,225.3 620.0,225.1 624.0,228.6 626.0,229.4 628.1,227.5 630.0,226.9 634.0,228.6 642.0,229.2 649.0,228.2 654.0,226.4 659.0,227.7 661.0,227.6 663.8,222.5 666.0,221.2 668.5,221.5 674.0,223.7 678.0,223.4 690.0,224.6 692.0,224.1 694.6,222.5 700.0,221.0 704.0,222.8 706.0,222.8 709.0,221.8 713.0,223.1 716.0,220.6 717.0,220.4 719.0,220.9 721.0,222.3 725.4,227.5 730.4,229.5 730.9,230.5 731.0,235.1 732.6,237.5 734.0,238.2 737.0,238.1 740.0,235.3 742.0,234.7 744.4,235.5 747.0,238.4 749.0,238.3 752.0,236.8 755.0,237.9 756.0,237.7 759.0,235.5 764.0,229.9 765.0,230.8 766.0,235.0 765.8,243.5 767.5,253.5 768.0,260.9 769.8,266.5 772.0,267.4 772.0,275.2 770.0,277.2 769.2,284.5 770.0,298.0 771.0,300.0 772.0,300.8 772.0,303.9 770.0,301.5 768.9,298.5 768.1,283.5 769.0,272.5 765.1,253.5 764.0,252.1 760.0,253.6 756.0,252.3 753.0,252.0 751.9,252.5 749.9,255.5 743.5,256.5 740.0,259.2 734.0,260.8 721.0,262.6 714.0,264.6 709.0,267.7 705.2,271.5 697.0,275.5 694.6,278.5 691.4,295.5 688.6,300.5 686.0,302.9 684.1,305.5 682.3,310.5 678.6,316.5 676.6,321.5 674.0,325.3 672.2,331.5 668.8,337.5 667.8,341.5 664.9,346.5 664.6,348.5 665.4,352.5 658.0,361.8 656.8,366.5 656.8,371.5 656.0,376.5 656.1,383.5 655.0,386.5 654.0,387.4 648.0,385.3 647.0,384.5 645.6,381.5 644.9,374.5 645.4,370.5 649.2,365.5 645.9,355.5 647.0,353.9 649.8,352.5 650.3,350.5 649.9,347.5 647.0,344.5 645.2,334.5 645.3,332.5 646.7,328.5 654.0,316.0 657.0,313.9 660.0,313.3 662.0,312.2 666.2,307.5 667.4,301.5 667.4,296.5 668.6,293.5 672.0,290.3 675.0,289.2 678.0,288.8 681.3,286.5 682.0,284.5 681.6,281.5 683.4,278.5 683.9,275.5 687.9,273.5 690.0,270.8 689.3,268.5 684.6,263.5 684.0,261.4 681.0,261.5 680.8,264.5 680.0,265.6 679.0,265.4 678.3,263.5 679.5,261.5 679.3,256.5 678.0,253.7 675.1,251.5 674.6,249.5 676.0,247.5 678.3,247.5 679.5,248.5 680.8,252.5 684.0,253.9 687.3,251.5 689.0,249.5 689.6,247.5 689.9,244.5 688.7,240.5 692.6,236.5 691.9,235.5 689.0,234.2 687.0,234.2 682.0,235.7 677.0,235.3 672.0,238.9 668.0,240.4 653.2,237.5 651.0,240.1 649.0,240.7 644.0,241.0 640.0,244.2 634.0,244.3 628.0,246.4 620.0,242.8 616.0,242.0 611.0,237.4 605.0,235.7 601.0,233.8 595.0,227.8 590.0,225.0 587.9,225.5 587.3,226.5 587.5,228.5 587.0,230.1 585.3,232.5 583.0,237.8 579.4,242.5 579.0,243.9 578.0,243.3 576.7,237.5 577.4,232.5 580.6,229.5 580.4,228.5 578.9,227.5 574.0,226.6 569.0,228.3 566.0,228.2 562.0,229.1 559.0,228.5 556.9,227.5 553.0,223.5 548.0,222.1 542.0,218.4 537.0,218.0 533.0,216.9 524.0,222.0 521.7,220.5 520.0,220.2 516.0,221.0 512.0,222.7 507.0,223.5 502.0,221.5 497.5,224.5 494.0,224.6 490.0,225.6 486.0,225.2 484.0,224.6 482.9,223.5 481.9,218.5 479.8,215.5 480.4,210.5 477.0,208.2 473.0,201.6 472.0,201.2 470.3,201.5 468.9,202.5 469.0,203.5 470.7,205.5 469.6,206.5 463.0,207.8 458.0,211.6 454.0,213.3 448.0,214.5 433.0,212.2 429.0,210.8 421.0,205.3 413.6,197.5 409.0,194.8 406.0,195.6 400.0,200.0 398.0,200.3 392.0,199.1 388.4,194.5 387.0,193.5 377.0,192.9 358.0,196.5 355.1,199.5 354.7,202.5 353.7,204.5 350.0,207.2 348.0,207.6 345.0,206.5 342.0,204.4 340.8,198.5 339.0,196.2 337.0,195.6 326.0,195.8 324.9,196.5 323.0,199.2 320.0,205.8 317.0,209.0 311.0,210.1 307.0,211.5 302.0,210.8 291.0,211.2 285.0,213.2 264.0,218.4 257.0,223.5 249.0,226.0 241.0,231.8 227.0,240.7 208.0,251.4 206.0,252.3 204.0,251.7 201.0,252.9 197.0,253.3 194.7,254.5 191.0,257.6 188.0,257.6 179.0,254.8 175.0,254.8 167.0,256.7 165.0,256.4 163.9,254.5 163.0,254.0 155.0,255.2 152.0,254.9 150.0,253.7 148.0,251.4 146.1,250.5 145.9,248.5 148.7,245.5 168.0,230.9 169.3,228.5 168.5,225.5 160.7,208.5 152.8,194.5 148.7,185.5 136.4,152.5 129.9,138.5 121.8,126.5 119.0,120.8 110.7,107.5 101.3,90.5ZM187.0,193.3 189.0,194.3 192.0,197.6 195.0,199.2 200.8,204.5 201.3,205.5 199.9,207.5 198.0,208.6 195.8,208.5 194.0,202.7 191.0,199.3 187.5,197.5 185.4,195.5 186.2,193.5ZM141.0,253.3 142.0,252.8 143.3,253.5 143.5,255.5 142.6,256.5 141.0,256.6 140.2,255.5ZM202.0,254.2 203.0,254.0 203.7,254.5 203.0,257.1 202.0,258.0 199.0,259.0 196.0,261.9 194.0,262.2 192.8,261.5 193.0,259.6 194.0,258.6 198.0,257.9ZM772.0,310.7 772.0,311.5 772.0,322.0 771.0,321.3 770.6,318.5 771.0,311.8ZM772.0,329.4 772.0,329.5 772.0,330.9 771.5,330.5Z"/>
<path fill="#b0ff10" stroke="#b0ff10" stroke-width="0.6" d="M101.0,90.5 110.7,107.5 119.0,120.8 121.8,126.5 129.9,138.5 136.4,152.5 148.7,185.5 152.8,194.5 160.7,208.5 168.5,225.5 169.3,228.5 168.0,230.9 148.7,245.5 145.9,248.5 146.1,250.5 148.0,251.4 150.0,253.7 152.0,254.9 155.0,255.2 163.0,254.0 163.9,254.5 165.0,256.4 167.0,256.7 175.0,254.8 179.0,254.8 188.0,257.6 191.4,257.5 194.7,254.5 197.0,253.3 201.0,252.9 204.0,251.7 206.0,252.3 208.0,251.4 227.0,240.7 241.0,231.8 249.0,226.0 257.0,223.5 264.0,218.4 285.0,213.2 291.0,211.2 302.0,210.8 307.0,211.5 311.0,210.1 317.0,209.0 320.2,205.5 324.0,197.6 325.0,196.4 327.0,195.5 337.0,195.6 339.5,196.5 340.8,198.5 342.0,204.4 345.0,206.5 348.0,207.6 350.0,207.2 353.7,204.5 354.7,202.5 355.7,198.5 358.0,196.5 360.0,196.0 366.0,195.3 376.0,192.9 386.6,193.5 388.0,194.1 392.0,199.1 394.0,199.8 399.0,200.3 400.9,199.5 407.0,195.1 409.0,194.8 413.6,197.5 421.0,205.3 429.0,210.8 433.0,212.2 448.0,214.5 454.0,213.3 458.0,211.6 463.0,207.8 469.6,206.5 470.7,205.5 469.0,203.5 468.9,202.5 470.3,201.5 472.0,201.2 473.0,201.6 477.0,208.2 480.4,210.5 479.8,215.5 481.9,218.5 482.9,223.5 485.0,225.0 490.0,225.6 494.0,224.6 497.0,224.6 502.0,221.5 507.0,223.5 512.0,222.7 516.0,221.0 520.0,220.2 521.7,220.5 524.0,222.0 533.0,216.9 537.0,218.0 541.0,218.1 548.0,222.1 553.0,223.5 556.9,227.5 559.0,228.5 562.0,229.1 566.0,228.2 569.0,228.3 574.0,226.6 578.9,227.5 580.0,228.2 580.6,229.5 577.4,232.5 576.9,234.5 577.0,239.8 578.0,243.3 579.0,243.9 579.4,242.5 583.0,237.8 585.3,232.5 587.0,230.1 587.5,228.5 587.3,226.5 587.9,225.5 590.0,225.0 595.0,227.8 601.0,233.8 605.0,235.7 611.0,237.4 616.0,242.0 620.0,242.8 628.0,246.4 634.0,244.3 640.0,244.2 644.0,241.0 649.0,240.7 651.0,240.1 653.2,237.5 668.0,240.4 672.0,238.9 677.0,235.3 683.0,235.6 688.0,234.1 691.9,235.5 692.6,236.5 688.7,240.5 689.9,244.5 689.4,248.5 686.0,252.8 684.0,253.9 681.0,252.7 679.5,248.5 678.0,247.4 676.0,247.5 674.6,249.5 675.1,251.5 678.0,253.7 679.3,256.5 679.5,261.5 678.3,263.5 679.0,265.4 680.0,265.6 680.8,264.5 681.0,261.5 684.0,261.4 684.6,263.5 687.9,266.5 689.9,269.5 689.7,271.5 687.9,273.5 683.9,275.5 683.4,278.5 681.6,281.5 682.0,284.5 681.3,286.5 678.0,288.8 675.0,289.2 672.0,290.3 669.0,292.9 667.4,296.5 667.4,301.5 666.2,307.5 662.0,312.2 660.0,313.3 657.0,313.9 654.0,316.0 645.8,330.5 645.2,334.5 647.0,344.5 649.9,347.5 650.3,349.5 649.8,352.5 647.0,353.9 645.9,355.5 649.1,364.5 648.8,366.5 645.8,369.5 645.0,373.5 645.6,381.5 647.0,384.5 648.0,385.3 654.0,387.4 655.5,385.5 656.1,383.5 656.0,376.5 656.8,371.5 656.8,366.5 657.7,362.5 665.4,352.5 664.6,348.5 664.9,346.5 667.8,341.5 668.8,337.5 672.2,331.5 674.0,325.3 676.6,321.5 678.6,316.5 682.3,310.5 684.1,305.5 686.0,302.9 688.6,300.5 691.4,295.5 694.6,278.5 697.0,275.5 705.2,271.5 709.0,267.7 714.0,264.6 721.0,262.6 734.0,260.8 740.0,259.2 743.5,256.5 749.9,255.5 751.9,252.5 753.0,252.0 756.0,252.3 760.0,253.6 764.0,252.1 765.0,253.0 769.0,272.5 768.1,283.5 768.9,298.5 770.0,301.5 772.0,303.9 772.0,310.7 771.0,311.8 770.6,318.5 771.0,321.3 772.0,322.0 772.0,329.4 771.5,330.5 772.0,330.9 772.0,342.2 770.7,341.5 770.8,335.5 769.8,333.5 769.4,330.5 768.9,312.5 769.6,305.5 768.1,298.5 767.0,284.5 767.6,272.5 766.0,266.8 765.0,265.6 764.0,265.7 761.0,267.6 751.0,269.8 749.5,271.5 748.4,274.5 746.0,276.1 742.0,276.2 738.0,274.5 731.5,280.5 726.0,283.7 723.0,286.8 721.0,286.9 711.0,284.7 709.0,284.9 706.0,286.8 704.7,288.5 700.7,296.5 698.0,308.1 697.0,309.5 694.1,311.5 693.9,312.5 695.5,316.5 695.0,319.9 694.0,321.1 691.3,319.5 690.0,319.5 687.4,322.5 686.6,329.5 682.1,334.5 681.9,338.5 678.0,347.5 676.7,352.5 673.9,356.5 671.3,367.5 670.0,368.8 667.0,370.0 665.0,369.9 661.0,368.2 660.1,369.5 660.2,380.5 662.0,389.5 662.0,392.3 659.0,394.2 657.0,394.8 652.0,394.0 650.4,396.5 648.0,397.2 646.7,396.5 644.5,392.5 645.2,385.5 642.8,382.5 641.6,379.5 638.8,375.5 640.7,364.5 642.3,361.5 641.5,357.5 642.5,351.5 641.2,346.5 640.2,335.5 643.5,328.5 647.0,323.7 651.0,315.5 657.2,307.5 660.0,302.8 663.0,295.5 663.3,291.5 662.9,287.5 664.1,284.5 664.3,281.5 667.3,277.5 667.7,274.5 667.0,271.5 663.3,267.5 662.5,261.5 661.0,259.7 658.0,258.2 653.0,256.9 642.4,257.5 639.0,258.9 635.0,259.1 631.0,260.7 624.0,260.7 618.0,260.1 614.8,257.5 608.0,255.5 595.0,254.2 591.9,252.5 588.0,247.1 585.0,245.7 584.0,245.7 583.0,246.5 579.0,251.3 574.0,251.0 572.0,249.5 570.9,247.5 570.8,243.5 572.0,239.5 571.0,237.1 569.0,234.9 566.0,234.0 561.0,236.4 559.0,236.5 557.2,233.5 555.8,232.5 551.0,230.2 545.0,228.9 541.0,225.2 536.0,222.4 532.7,222.5 531.1,223.5 528.0,227.0 519.0,230.1 513.0,229.6 502.0,229.9 500.1,230.5 497.0,233.0 496.0,233.0 493.0,230.5 487.0,230.7 483.0,231.7 474.0,224.3 471.0,224.3 469.3,223.5 468.7,222.5 469.0,221.5 473.0,218.5 473.4,215.5 472.0,213.7 468.0,212.4 462.0,214.2 458.0,217.8 453.0,219.1 451.0,222.5 449.0,223.4 447.0,223.4 444.0,221.3 441.7,220.5 440.0,217.8 437.0,218.3 434.1,216.5 426.0,213.3 418.0,204.6 411.1,198.5 408.0,197.3 405.0,198.2 401.0,201.5 399.0,202.1 392.0,201.2 387.0,196.2 380.0,196.9 377.0,195.5 375.4,195.5 373.4,196.5 372.7,197.5 373.4,200.5 372.5,206.5 371.6,208.5 370.0,210.1 367.0,210.8 362.0,210.8 355.0,209.5 351.0,212.0 348.0,212.7 341.0,210.8 339.0,209.4 336.4,205.5 335.9,201.5 335.3,200.5 332.0,199.1 327.0,198.9 325.0,200.3 324.2,202.5 323.5,209.5 325.1,213.5 324.0,214.9 320.6,215.5 319.1,213.5 317.6,212.5 314.0,211.6 312.0,211.8 306.0,213.9 299.0,212.6 293.0,212.8 291.0,213.4 290.2,214.5 289.9,217.5 288.9,219.5 282.0,221.8 276.0,225.4 273.0,225.6 269.0,223.0 265.0,223.8 264.0,222.5 263.0,222.5 258.0,226.0 252.0,225.8 250.0,226.2 227.3,241.5 211.0,250.6 205.7,255.5 203.2,260.5 201.9,265.5 201.0,266.7 198.0,268.1 196.0,267.6 189.0,263.5 188.0,260.9 187.0,260.1 181.0,259.3 176.0,259.9 171.0,262.2 167.0,261.1 164.0,261.4 160.0,260.4 154.0,261.5 150.0,260.0 141.0,262.1 135.0,261.4 132.0,262.6 128.0,262.2 125.0,263.7 124.1,263.5 123.8,262.5 124.5,261.5 129.0,259.0 138.6,251.5 167.0,231.1 168.5,229.5 168.7,228.5 167.4,224.5 160.5,209.5 151.7,193.5 148.5,186.5 135.6,152.5 129.0,137.5 121.4,126.5 119.0,121.4 110.3,107.5ZM140.9,253.5 140.2,255.5 141.0,256.6 142.6,256.5 143.5,255.5 143.3,253.5 142.0,252.8ZM201.5,254.5 198.0,257.9 194.0,258.6 193.0,259.6 192.8,261.5 194.0,262.2 196.0,261.9 199.0,259.0 202.0,258.0 203.0,257.1 203.7,254.5 203.0,254.0ZM412.0,207.2 414.0,208.3 414.5,209.5 414.0,209.9 412.0,208.7 411.1,207.5ZM663.0,400.2 663.3,400.5 663.0,401.5 662.3,400.5Z"/>
<path fill="#d0ff10" stroke="#d0ff10" stroke-width="0.6" d="M101.0,90.5 110.3,107.5 119.0,121.4 121.4,126.5 129.0,137.5 135.6,152.5 148.5,186.5 151.7,193.5 160.5,209.5 167.4,224.5 168.7,228.5 168.5,229.5 167.0,231.1 138.6,251.5 129.0,259.0 124.5,261.5 123.8,262.5 124.1,263.5 125.0,263.7 128.0,262.2 132.0,262.6 135.0,261.4 141.0,262.1 150.0,260.0 154.0,261.5 160.0,260.4 164.0,261.4 167.0,261.1 171.0,262.2 176.0,259.9 181.0,259.3 187.0,260.1 188.0,260.9 189.0,263.5 196.0,267.6 198.0,268.1 201.0,266.7 201.9,265.5 203.2,260.5 205.7,255.5 211.0,250.6 227.3,241.5 250.0,226.2 252.0,225.8 258.0,226.0 263.0,222.5 264.0,222.5 265.0,223.8 269.0,223.0 273.0,225.6 276.0,225.4 282.0,221.8 288.9,219.5 289.9,217.5 290.2,214.5 291.0,213.4 293.0,212.8 299.0,212.6 306.0,213.9 312.0,211.8 314.0,211.6 317.6,212.5 319.1,213.5 320.6,215.5 324.0,214.9 325.1,213.5 323.5,209.5 324.2,202.5 325.0,200.3 327.0,198.9 332.0,199.1 335.3,200.5 335.9,201.5 336.4,205.5 339.0,209.4 341.0,210.8 348.0,212.7 351.0,212.0 355.0,209.5 362.0,210.8 367.0,210.8 370.0,210.1 371.6,208.5 372.5,206.5 373.4,200.5 372.7,197.5 373.4,196.5 375.4,195.5 377.0,195.5 380.0,196.9 387.0,196.2 392.0,201.2 399.0,202.1 401.0,201.5 405.0,198.2 408.0,197.3 411.1,198.5 418.0,204.6 426.0,213.3 434.1,216.5 437.0,218.3 440.0,217.8 441.7,220.5 444.0,221.3 447.0,223.4 449.0,223.4 451.0,222.5 453.0,219.1 458.0,217.8 462.0,214.2 468.0,212.4 472.0,213.7 473.4,215.5 473.0,218.5 469.0,221.5 468.7,222.5 469.3,223.5 471.0,224.3 474.0,224.3 483.0,231.7 487.0,230.7 493.0,230.5 496.0,233.0 497.0,233.0 500.1,230.5 502.0,229.9 513.0,229.6 519.0,230.1 528.0,227.0 531.1,223.5 532.7,222.5 536.0,222.4 541.0,225.2 545.0,228.9 551.0,230.2 555.8,232.5 557.2,233.5 559.0,236.5 561.0,236.4 566.0,234.0 569.0,234.9 571.0,237.1 572.0,239.5 570.8,243.5 570.9,247.5 572.0,249.5 574.0,251.0 579.0,251.3 583.0,246.5 584.0,245.7 585.0,245.7 588.0,247.1 591.9,252.5 595.0,254.2 608.0,255.5 614.8,257.5 618.0,260.1 624.0,260.7 631.0,260.7 635.0,259.1 639.0,258.9 642.4,257.5 653.0,256.9 658.0,258.2 661.0,259.7 662.5,261.5 663.3,267.5 667.0,271.5 667.7,274.5 667.3,277.5 664.3,281.5 664.1,284.5 662.9,287.5 663.3,291.5 663.0,295.5 660.0,302.8 657.2,307.5 651.0,315.5 647.0,323.7 643.5,328.5 640.2,335.5 641.2,346.5 642.5,351.5 641.5,357.5 642.3,361.5 640.7,364.5 638.8,375.5 641.6,379.5 642.8,382.5 645.2,385.5 644.5,392.5 646.7,396.5 648.0,397.2 650.4,396.5 652.0,394.0 657.0,394.8 659.0,394.2 662.0,392.3 662.0,389.5 660.2,380.5 660.1,369.5 661.0,368.2 665.0,369.9 667.0,370.0 670.0,368.8 671.3,367.5 673.9,356.5 676.7,352.5 678.0,347.5 681.9,338.5 682.1,334.5 686.6,329.5 687.4,322.5 690.0,319.5 691.3,319.5 694.0,321.1 695.0,319.9 695.5,316.5 693.9,312.5 694.1,311.5 697.0,309.5 698.0,308.1 700.7,296.5 704.7,288.5 706.0,286.8 709.0,284.9 711.0,284.7 721.0,286.9 723.0,286.8 726.0,283.7 731.5,280.5 738.0,274.5 742.0,276.2 746.0,276.1 748.4,274.5 749.5,271.5 751.0,269.8 761.0,267.6 764.0,265.7 765.0,265.6 766.0,266.8 767.6,272.5 767.0,284.5 768.1,298.5 769.6,305.5 768.9,312.5 769.4,330.5 769.8,333.5 770.8,335.5 770.7,341.5 772.0,342.2 772.0,342.8 770.2,342.5 769.7,341.5 769.8,336.5 768.7,332.5 767.9,314.5 768.3,304.5 766.8,296.5 766.2,289.5 765.0,286.2 763.0,283.5 759.0,285.5 756.0,290.4 753.0,292.0 748.0,292.4 742.0,295.4 736.0,297.2 731.0,297.2 728.9,300.5 727.0,302.0 719.0,301.6 716.0,303.0 713.0,306.0 709.0,306.7 706.6,309.5 705.1,312.5 703.5,320.5 702.0,323.5 700.5,328.5 697.3,332.5 695.7,336.5 692.7,341.5 690.0,344.5 690.1,351.5 689.5,354.5 681.0,363.9 675.9,372.5 673.0,373.8 663.0,375.2 662.0,376.4 662.1,381.5 667.0,405.5 666.0,407.6 662.0,409.2 660.0,409.4 657.5,408.5 655.1,406.5 651.0,399.6 647.0,398.7 645.2,397.5 642.6,393.5 642.5,388.5 642.0,386.8 637.4,384.5 635.7,381.5 632.2,377.5 635.4,367.5 635.8,363.5 635.4,359.5 636.8,352.5 636.7,349.5 635.4,344.5 635.8,334.5 640.0,327.5 645.0,322.1 648.1,312.5 646.0,309.5 645.5,305.5 642.8,302.5 640.6,296.5 640.7,294.5 642.0,292.6 643.0,292.1 645.0,292.0 646.1,292.5 648.3,296.5 648.1,297.5 645.9,300.5 646.2,302.5 648.6,305.5 650.0,308.4 651.0,308.6 652.0,307.9 653.5,303.5 656.6,299.5 657.7,295.5 657.0,292.7 654.3,288.5 653.0,283.6 650.0,281.0 644.9,278.5 642.0,276.3 638.7,277.5 637.0,280.4 636.0,280.7 633.0,279.4 630.7,276.5 629.0,276.1 620.0,277.5 616.0,277.5 614.0,279.9 613.0,280.1 612.0,279.2 610.2,274.5 606.0,271.3 603.5,268.5 602.2,265.5 601.0,264.8 598.5,265.5 591.0,272.9 588.0,272.9 584.0,274.6 580.0,273.9 569.0,264.5 567.0,264.2 561.0,264.9 556.0,264.3 551.0,262.3 546.0,261.6 543.0,260.5 539.0,256.2 535.5,254.5 534.0,248.3 531.6,244.5 529.0,242.8 523.0,243.4 520.0,246.7 516.0,248.0 512.0,247.7 506.0,245.3 504.0,245.3 498.0,247.4 495.0,250.0 492.0,250.8 490.0,250.5 481.0,244.7 475.0,241.6 473.0,241.2 462.0,242.1 452.0,246.7 450.0,246.9 445.0,246.1 443.0,246.9 441.0,248.7 440.0,248.8 438.0,247.2 436.3,244.5 435.4,241.5 434.0,240.1 430.0,238.8 425.0,236.4 423.0,236.2 417.8,240.5 415.5,244.5 415.7,245.5 417.0,246.5 420.0,246.6 422.2,247.5 422.9,248.5 422.6,249.5 419.0,253.9 414.0,255.0 411.5,254.5 409.0,252.8 399.5,248.5 396.0,245.9 394.0,245.3 386.0,245.1 380.0,248.1 373.0,248.4 371.5,247.5 370.5,244.5 369.6,243.5 366.0,240.8 357.0,236.7 353.0,236.8 348.0,236.0 342.0,237.8 335.0,238.6 327.0,246.8 324.0,249.0 320.0,248.4 316.6,249.5 311.0,249.3 301.0,252.1 298.8,251.5 296.6,248.5 293.0,248.4 290.6,249.5 289.4,252.5 288.0,253.5 285.0,251.7 281.0,251.1 279.0,250.1 274.0,244.5 268.0,240.7 262.0,239.0 261.0,239.0 259.0,240.7 258.0,240.5 255.0,234.5 255.2,232.5 256.9,229.5 256.7,228.5 255.0,227.3 251.0,226.7 228.0,242.0 211.4,251.5 207.0,255.5 205.6,257.5 202.8,267.5 198.0,271.7 196.0,272.7 193.2,272.5 183.1,265.5 182.1,263.5 181.0,263.4 176.0,265.7 170.0,266.4 158.0,264.9 150.0,265.6 146.0,268.7 141.0,266.4 133.0,266.9 127.0,268.7 121.0,268.7 119.0,268.2 117.8,267.5 117.8,266.5 123.4,260.5 143.0,247.7 155.0,239.2 167.0,230.5 168.0,228.5 167.0,225.0 162.7,216.5 160.0,209.8 151.4,194.5 147.6,186.5 144.0,175.5 129.0,138.5 121.5,127.5 115.0,115.2 109.7,107.5 100.6,90.5ZM411.1,207.5 413.0,209.6 414.0,209.9 414.5,209.5 414.2,208.5 413.0,207.5ZM662.3,400.5 663.0,401.5 663.3,400.5ZM278.0,254.4 278.4,254.5 278.0,255.2 277.8,254.5ZM212.0,535.7 213.0,535.7 214.0,537.1 217.5,544.5 216.9,545.5 211.4,545.5 210.8,539.5Z"/>
<path fill="#d8ff10" stroke="#d8ff10" stroke-width="0.6" d="M101.0,91.5 109.7,107.5 112.0,110.4 118.0,120.3 121.5,127.5 129.0,138.5 144.0,175.5 147.6,186.5 151.4,194.5 160.0,209.8 162.7,216.5 167.0,225.0 168.0,228.5 167.0,230.5 155.0,239.2 143.0,247.7 123.4,260.5 117.8,266.5 117.8,267.5 119.0,268.2 121.0,268.7 127.0,268.7 133.0,266.9 141.0,266.4 146.0,268.7 150.0,265.6 158.0,264.9 170.0,266.4 176.0,265.7 181.0,263.4 182.1,263.5 183.1,265.5 193.2,272.5 196.0,272.7 198.0,271.7 202.8,267.5 205.6,257.5 207.0,255.5 211.4,251.5 228.0,242.0 251.0,226.7 255.0,227.3 256.7,228.5 256.9,229.5 255.2,232.5 255.0,234.5 258.0,240.5 259.0,240.7 261.0,239.0 262.0,239.0 268.0,240.7 274.0,244.5 279.0,250.1 281.0,251.1 285.0,251.7 288.0,253.5 289.4,252.5 290.6,249.5 293.0,248.4 296.6,248.5 298.8,251.5 301.0,252.1 311.0,249.3 316.6,249.5 320.0,248.4 324.0,249.0 327.0,246.8 335.0,238.6 342.0,237.8 348.0,236.0 353.0,236.8 357.0,236.7 366.0,240.8 369.6,243.5 370.5,244.5 371.5,247.5 373.0,248.4 380.0,248.1 386.0,245.1 394.0,245.3 396.0,245.9 399.5,248.5 409.0,252.8 411.5,254.5 414.0,255.0 419.0,253.9 422.6,249.5 422.9,248.5 422.2,247.5 420.0,246.6 417.0,246.5 415.7,245.5 415.5,244.5 417.8,240.5 423.0,236.2 425.0,236.4 430.0,238.8 434.0,240.1 435.4,241.5 436.3,244.5 438.0,247.2 440.0,248.8 441.0,248.7 443.0,246.9 445.0,246.1 450.0,246.9 452.0,246.7 462.0,242.1 473.0,241.2 475.0,241.6 481.0,244.7 490.0,250.5 492.0,250.8 495.0,250.0 498.0,247.4 504.0,245.3 506.0,245.3 512.0,247.7 516.0,248.0 520.0,246.7 523.0,243.4 529.0,242.8 531.6,244.5 534.0,248.3 535.5,254.5 539.0,256.2 543.0,260.5 546.0,261.6 551.0,262.3 556.0,264.3 561.0,264.9 567.0,264.2 569.0,264.5 580.0,273.9 584.0,274.6 588.0,272.9 591.0,272.9 598.5,265.5 601.0,264.8 602.2,265.5 603.5,268.5 606.0,271.3 610.2,274.5 612.0,279.2 613.0,280.1 614.0,279.9 616.0,277.5 620.0,277.5 629.0,276.1 630.7,276.5 633.0,279.4 636.0,280.7 637.0,280.4 638.7,277.5 642.0,276.3 644.9,278.5 650.0,281.0 653.0,283.6 654.3,288.5 657.0,292.7 657.7,295.5 656.6,299.5 653.5,303.5 652.0,307.9 651.0,308.6 650.0,308.4 648.6,305.5 646.2,302.5 645.9,300.5 648.1,297.5 648.3,296.5 646.1,292.5 645.0,292.0 643.0,292.1 642.0,292.6 640.7,294.5 640.6,296.5 642.8,302.5 645.5,305.5 646.0,309.5 648.1,312.5 645.0,322.1 640.0,327.5 635.8,334.5 635.4,344.5 636.7,349.5 636.8,352.5 635.4,359.5 635.8,363.5 635.4,367.5 632.2,377.5 635.7,381.5 637.4,384.5 642.0,386.8 642.5,388.5 642.6,393.5 645.2,397.5 647.0,398.7 651.0,399.6 655.1,406.5 657.5,408.5 660.0,409.4 662.0,409.2 666.0,407.6 667.0,405.5 662.1,381.5 662.0,376.4 663.0,375.2 673.0,373.8 675.9,372.5 681.0,363.9 689.5,354.5 690.1,351.5 690.0,344.5 692.7,341.5 695.7,336.5 697.3,332.5 700.5,328.5 702.0,323.5 703.5,320.5 705.1,312.5 706.6,309.5 709.0,306.7 713.0,306.0 716.0,303.0 719.0,301.6 727.0,302.0 728.9,300.5 731.0,297.2 736.0,297.2 742.0,295.4 748.0,292.4 753.0,292.0 756.0,290.4 759.0,285.5 763.0,283.5 765.0,286.2 766.2,289.5 766.8,296.5 768.3,304.5 767.9,314.5 768.7,332.5 769.8,336.5 769.7,341.5 770.2,342.5 772.0,342.8 772.0,343.2 770.0,343.0 769.2,342.5 769.0,341.5 769.0,336.5 768.0,332.5 766.3,315.5 766.9,304.5 766.0,301.4 764.0,299.3 761.0,300.8 756.5,300.5 750.0,303.9 747.0,304.7 744.3,307.5 743.0,312.1 735.0,315.7 726.0,314.8 716.0,318.1 712.1,318.5 711.7,319.5 712.2,322.5 710.0,330.4 708.8,333.5 705.4,339.5 704.0,346.0 703.1,347.5 699.0,351.3 696.8,354.5 696.2,356.5 696.5,359.5 696.0,361.3 694.0,364.9 690.3,368.5 687.1,373.5 686.5,379.5 685.0,380.7 677.0,381.8 675.3,381.5 673.0,379.8 667.0,380.5 665.0,381.4 665.0,387.5 667.7,401.5 668.2,408.5 666.0,410.1 660.0,410.7 656.5,409.5 653.7,407.5 648.1,401.5 644.8,399.5 639.0,393.8 634.0,392.2 631.1,387.5 630.9,384.5 630.0,383.6 627.0,383.3 625.0,382.4 622.0,379.5 621.1,376.5 621.4,372.5 621.0,371.5 619.0,370.2 618.1,368.5 619.0,365.8 623.3,361.5 628.0,358.8 629.4,356.5 629.2,355.5 626.9,352.5 626.3,350.5 627.1,346.5 630.5,341.5 631.0,339.5 630.1,334.5 630.7,330.5 629.0,326.5 630.6,321.5 629.4,317.5 629.7,313.5 628.3,306.5 627.0,304.5 623.0,301.2 616.1,299.5 613.0,296.6 596.0,293.3 590.0,295.9 587.0,294.3 578.0,291.8 572.0,289.1 566.0,284.3 558.0,284.6 555.0,281.2 551.0,280.5 549.3,279.5 548.8,276.5 548.0,275.6 545.0,274.3 543.0,272.0 538.0,270.4 534.0,269.9 532.7,266.5 531.3,264.5 528.0,262.4 524.0,260.7 522.0,260.4 510.0,262.2 505.0,261.8 499.0,263.0 497.0,262.9 490.0,261.4 484.0,256.5 478.0,252.7 476.0,252.2 470.0,255.8 466.0,257.5 462.0,258.2 459.0,260.1 453.0,259.3 445.0,262.7 440.0,261.6 436.0,261.6 432.0,260.8 427.0,262.2 422.0,260.6 417.0,260.6 413.0,261.2 408.0,260.1 402.0,262.5 398.0,261.0 395.0,262.6 390.0,262.8 388.0,262.3 385.8,259.5 384.2,258.5 379.0,256.8 373.0,257.8 369.0,257.8 363.0,258.7 360.0,259.9 358.0,259.7 356.5,258.5 353.0,253.7 352.0,253.3 349.0,255.3 345.0,255.3 343.0,255.9 335.0,260.5 330.6,265.5 326.0,269.1 323.0,269.2 319.0,267.0 314.0,266.1 310.0,264.0 304.0,263.0 299.0,263.7 294.0,263.1 291.2,264.5 290.1,267.5 286.0,272.4 284.0,272.8 280.0,272.0 276.0,273.5 274.0,273.5 272.3,272.5 269.0,266.5 261.0,256.7 256.0,254.0 251.0,253.7 248.4,251.5 247.5,247.5 245.6,244.5 245.7,243.5 247.8,242.5 252.0,242.3 253.3,241.5 253.7,240.5 253.6,237.5 251.1,233.5 251.3,232.5 253.7,229.5 253.7,228.5 251.0,227.5 228.0,242.9 212.0,252.2 206.7,257.5 204.0,268.6 199.0,273.1 194.0,275.9 192.0,276.1 188.3,273.5 186.0,272.8 183.0,273.3 180.0,275.0 171.0,269.7 163.0,268.8 157.0,269.4 152.0,270.8 148.6,273.5 145.0,278.1 143.0,279.2 141.2,278.5 140.8,277.5 141.8,274.5 141.3,273.5 140.1,272.5 138.0,271.8 135.0,271.7 129.0,273.3 123.0,272.6 116.0,272.6 111.0,274.5 110.0,274.4 108.2,273.5 108.0,272.5 108.8,271.5 120.8,261.5 123.0,259.1 128.0,256.5 152.0,240.5 165.6,230.5 167.0,228.5 166.0,225.1 162.2,219.5 161.0,214.3 159.0,209.3 153.5,201.5 148.0,191.6 144.6,188.5 143.3,184.5 144.7,182.5 144.8,181.5 143.0,174.9 140.6,170.5 134.2,152.5 130.4,144.5 128.0,137.7 120.7,127.5 118.0,121.5 112.0,111.3 110.0,109.3 107.1,107.5 106.7,103.5 100.1,90.5ZM277.8,254.5 278.0,255.2 278.4,254.5ZM210.0,527.5 212.0,527.9 215.0,532.1 216.7,537.5 221.3,545.5 221.0,546.6 219.0,547.2 210.0,547.6 207.0,547.3 205.5,546.5 207.3,541.5 206.9,536.5 207.3,530.5 208.0,529.1ZM211.6,536.5 210.8,539.5 211.4,545.5 216.9,545.5 217.5,544.5 214.0,537.1 213.0,535.7 212.0,535.7Z"/>
<path fill="#e0ff10" stroke="#e0ff10" stroke-width="0.6" d="M69.0,90.5 81.2,90.5 84.5,91.5 87.0,99.5 87.9,100.5 89.0,100.7 93.0,98.0 95.0,98.2 98.0,99.5 100.0,98.6 100.6,95.5 99.1,90.5 100.1,90.5 106.7,103.5 107.1,107.5 110.0,109.3 112.0,111.3 118.0,121.5 120.7,127.5 128.0,137.7 130.4,144.5 134.2,152.5 140.6,170.5 143.0,174.9 144.8,181.5 144.7,182.5 143.3,184.5 144.6,188.5 148.0,191.6 153.5,201.5 159.0,209.3 161.0,214.3 162.2,219.5 166.0,225.1 167.0,228.5 165.6,230.5 152.0,240.5 128.0,256.5 123.0,259.1 120.8,261.5 108.8,271.5 108.0,272.5 108.2,273.5 110.0,274.4 111.0,274.5 116.0,272.6 123.0,272.6 129.0,273.3 135.0,271.7 138.0,271.8 140.1,272.5 141.3,273.5 141.8,274.5 140.8,277.5 141.2,278.5 143.0,279.2 145.0,278.1 148.6,273.5 152.0,270.8 157.0,269.4 163.0,268.8 171.0,269.7 180.0,275.0 183.0,273.3 186.0,272.8 188.3,273.5 192.0,276.1 194.0,275.9 199.0,273.1 204.0,268.6 206.7,257.5 212.0,252.2 228.0,242.9 251.0,227.5 253.7,228.5 253.7,229.5 251.3,232.5 251.1,233.5 253.6,237.5 253.7,240.5 253.3,241.5 252.0,242.3 247.8,242.5 245.7,243.5 245.6,244.5 247.5,247.5 248.4,251.5 251.0,253.7 256.0,254.0 261.0,256.7 269.0,266.5 272.3,272.5 274.0,273.5 276.0,273.5 280.0,272.0 284.0,272.8 286.0,272.4 290.1,267.5 291.2,264.5 294.0,263.1 299.0,263.7 304.0,263.0 310.0,264.0 314.0,266.1 319.0,267.0 323.0,269.2 326.0,269.1 330.6,265.5 335.0,260.5 343.0,255.9 345.0,255.3 349.0,255.3 352.0,253.3 353.0,253.7 356.5,258.5 358.0,259.7 360.0,259.9 363.0,258.7 369.0,257.8 373.0,257.8 379.0,256.8 384.2,258.5 385.8,259.5 388.0,262.3 390.0,262.8 395.0,262.6 398.0,261.0 402.0,262.5 408.0,260.1 413.0,261.2 417.0,260.6 422.0,260.6 427.0,262.2 432.0,260.8 436.0,261.6 440.0,261.6 445.0,262.7 453.0,259.3 459.0,260.1 462.0,258.2 466.0,257.5 470.0,255.8 476.0,252.2 478.0,252.7 484.0,256.5 490.0,261.4 497.0,262.9 499.0,263.0 505.0,261.8 510.0,262.2 522.0,260.4 524.0,260.7 528.0,262.4 531.3,264.5 532.7,266.5 534.0,269.9 538.0,270.4 543.0,272.0 545.0,274.3 548.0,275.6 548.8,276.5 549.3,279.5 551.0,280.5 555.0,281.2 558.0,284.6 566.0,284.3 572.0,289.1 578.0,291.8 587.0,294.3 590.0,295.9 596.0,293.3 613.0,296.6 616.1,299.5 623.0,301.2 627.0,304.5 628.3,306.5 629.7,313.5 629.4,317.5 630.6,321.5 629.0,326.5 630.7,330.5 630.1,334.5 631.0,339.5 630.5,341.5 627.1,346.5 626.3,350.5 626.9,352.5 629.2,355.5 629.4,356.5 628.0,358.8 623.3,361.5 619.0,365.8 618.1,368.5 619.0,370.2 621.0,371.5 621.4,372.5 621.1,376.5 622.0,379.5 625.0,382.4 627.0,383.3 630.0,383.6 630.9,384.5 631.1,387.5 634.0,392.2 639.0,393.8 644.8,399.5 648.1,401.5 653.7,407.5 656.5,409.5 660.0,410.7 666.0,410.1 668.2,408.5 667.7,401.5 665.0,387.5 665.0,381.4 667.0,380.5 673.0,379.8 675.3,381.5 677.0,381.8 685.0,380.7 686.5,379.5 687.1,373.5 690.3,368.5 694.0,364.9 696.0,361.3 696.5,359.5 696.2,356.5 696.8,354.5 699.0,351.3 703.1,347.5 704.0,346.0 705.4,339.5 708.8,333.5 710.0,330.4 712.2,322.5 711.7,319.5 712.1,318.5 716.0,318.1 726.0,314.8 735.0,315.7 743.0,312.1 744.3,307.5 747.0,304.7 750.0,303.9 756.5,300.5 761.0,300.8 764.0,299.3 766.0,301.4 766.9,304.5 766.3,315.5 768.0,332.5 769.0,336.5 769.0,341.5 769.2,342.5 772.0,343.6 769.0,343.5 768.1,342.5 768.1,336.5 766.0,328.6 764.3,324.5 761.3,321.5 761.6,318.5 761.0,317.5 759.4,318.5 757.7,322.5 755.0,324.1 751.3,328.5 744.0,332.5 741.0,336.7 737.0,337.3 728.0,336.3 720.0,336.5 718.1,339.5 717.7,342.5 715.4,346.5 714.9,350.5 711.8,353.5 711.7,357.5 711.0,359.5 709.0,361.0 705.6,362.5 704.9,363.5 705.2,371.5 704.8,373.5 701.4,377.5 700.0,380.0 696.0,382.3 694.8,388.5 689.0,389.8 681.0,388.9 678.0,390.3 675.0,392.6 669.0,395.2 668.4,397.5 669.6,407.5 669.4,409.5 666.0,411.6 661.0,411.9 657.0,410.9 648.6,406.5 640.0,398.8 629.0,398.1 617.1,394.5 615.9,393.5 613.0,388.9 608.0,386.6 607.0,385.5 602.2,374.5 601.9,371.5 602.9,368.5 601.0,366.4 600.1,364.5 601.0,362.2 602.0,361.8 603.4,362.5 604.0,366.5 605.0,366.1 605.2,364.5 604.4,362.5 604.0,357.5 607.0,354.9 609.1,351.5 609.6,349.5 609.3,345.5 610.0,343.8 613.0,344.1 614.0,343.1 614.4,339.5 613.3,335.5 613.3,331.5 615.6,327.5 615.0,327.1 610.0,327.4 605.3,322.5 603.0,321.6 601.1,322.5 600.0,325.3 598.0,325.8 596.0,325.5 592.0,323.5 587.0,324.4 579.0,323.5 575.0,318.5 575.1,317.5 576.9,314.5 576.4,313.5 571.0,308.9 568.0,310.7 566.0,310.3 564.7,308.5 563.8,304.5 561.0,302.9 559.4,303.5 557.0,308.5 555.6,309.5 552.0,309.6 545.0,308.3 542.3,305.5 540.6,302.5 536.7,299.5 533.0,293.5 529.7,291.5 529.1,290.5 529.5,287.5 527.4,282.5 525.0,280.3 521.0,278.3 518.0,275.9 516.0,275.9 513.0,277.5 512.0,277.4 510.0,275.3 508.0,275.1 506.0,275.6 503.0,274.3 500.6,274.5 499.3,275.5 499.7,276.5 502.5,278.5 502.6,279.5 501.0,282.5 499.5,283.5 498.0,283.7 497.0,283.5 494.0,280.7 490.0,278.2 487.0,279.1 484.0,280.9 479.0,282.3 474.5,281.5 472.7,280.5 472.1,279.5 472.3,277.5 477.0,274.3 482.0,273.4 485.0,274.1 487.0,272.8 486.8,271.5 486.0,270.8 479.0,267.4 475.0,268.5 473.0,267.0 471.0,266.6 467.0,267.5 464.0,267.4 462.0,268.5 459.7,271.5 466.0,272.7 468.4,274.5 468.4,275.5 467.5,276.5 465.0,277.4 460.0,276.4 456.0,273.9 451.0,273.4 445.0,270.5 440.0,271.0 436.0,270.2 429.0,271.3 427.0,270.8 422.0,268.0 418.0,267.8 415.3,268.5 413.7,270.5 409.0,274.1 405.0,274.1 401.0,276.1 396.0,276.5 394.0,275.8 390.0,272.9 384.1,270.5 380.0,267.6 377.0,267.0 373.0,268.8 372.0,268.9 369.0,267.7 365.0,269.7 360.0,269.6 356.0,270.3 352.9,274.5 347.0,278.2 343.0,278.0 339.0,279.5 335.0,277.4 334.8,278.5 335.5,280.5 335.1,282.5 330.0,286.7 328.0,286.6 324.0,285.3 316.0,286.1 314.3,284.5 312.0,278.8 310.0,277.9 301.0,277.3 296.0,280.2 292.0,281.3 283.0,280.1 276.0,281.5 269.0,276.0 266.5,271.5 265.3,270.5 263.0,269.8 255.0,269.1 253.3,268.5 252.5,266.5 254.5,264.5 254.5,263.5 253.0,263.5 247.0,266.1 244.0,265.6 241.0,268.2 239.0,267.6 232.0,263.9 228.0,260.5 227.0,256.5 227.8,254.5 241.0,240.0 243.0,239.3 248.0,239.9 250.0,239.5 250.7,237.5 248.1,233.5 249.9,230.5 249.0,230.1 238.4,236.5 228.0,244.0 213.0,252.6 208.7,256.5 207.3,258.5 205.5,268.5 204.6,270.5 199.0,275.1 191.0,280.3 190.0,280.3 187.0,276.9 186.0,277.2 185.4,278.5 183.7,279.5 181.0,279.8 177.0,279.2 171.0,274.3 167.0,272.5 163.0,271.9 160.0,272.5 156.5,274.5 153.0,275.6 151.0,279.6 145.0,284.9 143.0,284.7 138.0,282.2 135.0,281.7 126.0,278.7 121.0,278.8 117.0,277.9 113.0,279.2 106.0,278.7 97.0,281.6 90.0,282.1 88.4,280.5 87.5,277.5 87.8,274.5 90.0,269.5 89.0,264.5 96.0,263.0 99.4,264.5 99.9,265.5 98.0,266.5 96.4,268.5 95.5,270.5 95.4,272.5 96.9,274.5 98.0,274.7 100.0,274.3 102.7,272.5 104.0,270.5 103.9,269.5 103.0,267.0 101.2,265.5 102.6,263.5 103.8,253.5 105.7,251.5 106.1,249.5 105.0,246.0 104.0,245.0 100.0,243.8 96.0,243.9 93.0,240.8 92.0,240.6 88.0,242.7 86.0,241.0 85.0,240.8 83.9,241.5 84.0,243.3 89.8,250.5 90.2,251.5 89.9,254.5 91.3,256.5 91.3,258.5 85.0,261.4 80.0,260.6 79.2,261.5 79.5,265.5 78.3,266.5 74.0,267.0 68.0,266.4 68.0,203.0 71.0,202.0 72.0,202.5 71.8,203.5 69.7,206.5 71.8,213.5 74.0,215.8 77.0,217.1 78.0,216.9 80.0,215.5 81.2,213.5 81.0,212.2 78.9,209.5 78.8,208.5 81.3,206.5 82.6,203.5 85.0,201.5 85.8,199.5 85.0,197.8 83.0,197.1 79.6,199.5 78.8,200.5 78.0,203.7 77.0,204.7 76.0,204.8 74.5,203.5 74.4,202.5 75.5,199.5 74.1,196.5 73.0,195.5 68.0,194.3 68.0,183.6 70.0,184.0 72.0,183.7 73.1,182.5 73.4,180.5 73.0,178.0 71.0,173.2 70.0,171.8 68.0,170.6 68.0,168.2 70.0,167.9 75.0,165.5 75.9,164.5 76.1,163.5 75.0,161.3 73.0,160.3 70.0,162.5 68.0,163.3 68.0,122.6 70.0,121.5 71.0,122.0 72.5,124.5 72.5,128.5 73.0,129.1 77.0,130.5 80.9,133.5 83.5,136.5 84.0,139.6 88.0,141.5 87.3,143.5 85.2,145.5 84.9,146.5 85.2,156.5 86.0,158.4 87.0,159.0 94.0,159.2 96.0,159.8 96.6,159.5 96.9,157.5 101.0,153.2 109.0,150.8 112.0,150.5 115.0,148.7 118.0,149.3 119.0,148.8 121.0,144.6 127.0,145.0 127.4,143.5 126.2,137.5 124.0,134.8 121.0,134.3 118.0,132.9 114.0,133.8 107.7,130.5 107.7,129.5 108.8,127.5 112.0,124.5 112.6,121.5 114.1,118.5 113.0,115.0 111.0,112.9 108.7,113.5 104.2,117.5 101.0,122.1 99.0,123.3 96.0,121.0 91.0,119.9 88.0,118.2 85.0,117.3 84.2,116.5 83.2,110.5 84.0,105.5 83.0,103.5 81.0,103.2 74.0,104.4 72.2,105.5 70.0,108.1 68.0,108.7 68.0,90.5ZM129.5,149.5 132.0,154.2 133.0,153.5 131.0,149.9 130.0,148.8ZM97.0,160.5 97.0,160.5 97.0,160.4ZM103.8,160.5 101.0,162.0 98.0,162.4 96.8,168.5 97.7,170.5 101.0,172.9 103.0,173.3 106.0,172.8 107.0,173.3 107.2,174.5 106.1,177.5 106.3,179.5 108.7,184.5 111.0,186.7 119.0,189.5 122.0,189.3 124.3,187.5 124.9,181.5 126.0,179.6 134.0,176.1 135.8,174.5 135.8,172.5 134.6,168.5 133.5,167.5 131.0,167.3 128.0,170.4 127.0,170.6 125.4,169.5 122.0,165.5 120.0,165.2 118.9,165.5 114.0,169.6 112.0,169.9 107.0,167.2 105.7,164.5 106.6,161.5 106.3,160.5 105.0,159.8ZM127.2,207.5 122.2,209.5 119.7,212.5 117.0,213.7 113.0,211.9 107.0,212.8 101.0,216.6 98.0,220.5 96.0,222.1 94.0,222.3 90.0,219.6 82.0,220.7 80.1,222.5 79.5,227.5 81.0,228.8 86.0,227.9 90.0,229.6 93.0,227.6 94.0,227.9 95.0,229.1 96.0,232.1 98.6,234.5 99.0,236.5 98.4,239.5 99.0,241.2 100.0,241.9 102.0,240.2 109.0,237.8 112.0,234.5 113.7,231.5 113.7,228.5 114.8,223.5 117.0,221.2 118.0,220.8 119.0,221.3 121.3,224.5 123.0,225.0 131.0,221.0 133.0,218.3 137.0,215.8 142.0,214.4 143.0,213.5 143.0,209.5 141.0,207.4 133.0,208.5 129.0,207.3ZM142.4,223.5 139.1,224.5 134.6,227.5 132.0,228.0 131.0,228.8 130.3,230.5 130.5,233.5 131.5,235.5 135.0,239.4 137.3,240.5 139.0,242.8 140.0,243.0 143.0,241.6 147.1,241.5 152.1,238.5 154.1,236.5 151.3,230.5 151.0,226.8 149.0,224.0 147.0,222.7ZM250.0,229.5 250.0,229.8 250.1,229.5ZM72.1,253.5 71.1,255.5 72.0,257.5 75.0,259.7 77.7,259.5 77.8,256.5 76.6,253.5 74.0,252.6ZM86.0,90.5 87.0,90.5 89.7,90.5 89.0,92.0 88.0,92.1 85.2,91.5 85.0,90.5ZM68.3,115.5 69.0,116.5 69.2,119.5 69.0,120.2 68.0,120.5ZM97.0,130.2 98.0,129.9 98.7,130.5 98.8,131.5 98.0,132.1 97.0,131.9ZM112.0,139.4 112.2,139.5 112.0,140.2 111.9,139.5ZM116.0,217.3 116.1,217.5 116.0,217.7 115.9,217.5ZM759.0,324.1 760.0,324.1 760.2,325.5 758.9,325.5 758.6,324.5ZM605.0,332.5 607.0,332.5 608.2,336.5 608.0,339.5 607.4,340.5 605.0,341.6 604.0,343.3 603.0,347.3 600.2,350.5 601.9,356.5 601.0,357.6 599.0,357.8 598.0,356.5 597.8,354.5 598.9,348.5 596.9,343.5 596.7,339.5 600.0,333.9ZM210.0,521.0 211.0,520.6 213.0,521.7 215.0,526.5 217.7,530.5 218.4,535.5 219.5,538.5 224.4,545.5 224.6,546.5 223.8,547.5 220.0,548.7 208.0,548.4 203.0,547.5 202.3,546.5 204.1,540.5 203.6,536.5 203.8,530.5 206.2,525.5ZM209.9,527.5 208.0,529.1 207.3,530.5 206.9,536.5 207.3,541.5 205.5,546.5 207.0,547.3 210.0,547.6 219.0,547.2 221.0,546.6 221.3,545.5 216.7,537.5 215.0,532.1 212.0,527.9 211.0,527.3Z"/>
<path fill="#e8ff10" stroke="#e8ff10" stroke-width="0.6" d="M82.0,90.5 85.0,90.5 85.2,91.5 88.0,92.1 89.0,92.0 89.7,90.5 99.1,90.5 100.6,95.5 100.0,98.5 98.0,99.5 95.0,98.2 93.0,98.0 90.0,100.3 88.0,100.6 87.0,99.5 85.5,95.5 84.5,91.5 81.2,90.5ZM80.0,103.4 82.0,103.1 83.8,104.5 84.0,106.5 83.2,110.5 84.2,116.5 85.0,117.3 88.0,118.2 91.0,119.9 96.0,121.0 99.0,123.3 101.0,122.1 104.2,117.5 109.0,113.3 111.0,112.9 112.0,113.7 113.8,116.5 114.0,119.0 112.6,121.5 112.0,124.5 108.8,127.5 107.7,129.5 107.7,130.5 114.0,133.8 118.0,132.9 121.0,134.3 124.0,134.8 126.2,137.5 127.4,143.5 127.0,145.0 121.3,144.5 120.3,145.5 119.0,148.8 118.0,149.3 115.0,148.7 112.0,150.5 109.0,150.8 101.0,153.2 96.9,157.5 96.6,159.5 96.0,159.8 91.0,158.9 88.0,159.2 86.1,158.5 85.2,156.5 84.9,146.5 85.2,145.5 87.3,143.5 88.0,141.5 84.0,139.6 83.5,136.5 80.9,133.5 77.0,130.5 73.0,129.1 72.5,128.5 72.5,124.5 71.0,122.0 70.0,121.5 68.0,122.6 68.0,120.5 69.0,120.2 69.2,119.5 69.0,116.5 68.0,115.4 68.0,108.7 70.0,108.1 72.2,105.5 73.9,104.5ZM96.7,130.5 97.0,131.9 98.0,132.1 98.8,131.5 98.7,130.5 98.0,129.9ZM111.9,139.5 112.0,140.2 112.2,139.5ZM130.0,148.8 133.0,153.5 132.0,154.2 129.8,150.5 129.5,149.5ZM73.0,160.3 75.0,161.3 76.0,163.2 75.9,164.5 75.0,165.5 70.0,167.9 68.0,168.2 68.0,163.3 70.0,162.5ZM97.0,160.4 97.0,160.5 97.0,160.5 97.0,160.5ZM104.0,160.3 105.0,159.8 106.3,160.5 106.6,161.5 105.7,164.5 107.0,167.2 112.0,169.9 114.0,169.6 118.9,165.5 120.0,165.2 122.0,165.5 125.4,169.5 127.0,170.6 128.0,170.4 131.0,167.3 133.0,167.3 134.6,168.5 135.8,172.5 135.8,174.5 134.0,176.1 126.0,179.6 124.9,181.5 124.3,187.5 122.0,189.3 119.0,189.5 111.0,186.7 108.7,184.5 106.3,179.5 106.1,177.5 107.2,174.5 107.0,173.3 106.0,172.8 103.0,173.3 101.0,172.9 97.7,170.5 96.8,168.5 98.0,162.4 102.0,161.6ZM69.0,170.9 71.1,173.5 73.3,179.5 73.1,182.5 71.0,184.0 68.0,183.6 68.0,170.6ZM69.0,194.5 73.0,195.5 74.1,196.5 75.5,199.5 74.4,202.5 74.5,203.5 76.0,204.8 77.0,204.7 78.0,203.7 78.8,200.5 82.0,197.7 84.0,197.2 85.5,198.5 85.7,200.5 82.6,203.5 81.3,206.5 78.8,208.5 78.9,209.5 81.0,212.2 81.2,213.5 80.0,215.5 78.0,216.9 77.0,217.1 74.0,215.8 71.8,213.5 69.7,206.5 71.8,203.5 72.0,202.5 71.0,202.0 68.0,203.0 68.0,194.3ZM128.0,207.3 133.0,208.5 141.0,207.4 143.0,209.5 143.0,213.5 142.0,214.4 137.0,215.8 133.0,218.3 131.0,221.0 123.0,225.0 121.3,224.5 119.0,221.3 118.0,220.8 117.0,221.2 114.8,223.5 113.7,228.5 113.7,231.5 112.0,234.5 109.0,237.8 102.0,240.2 100.0,241.9 99.0,241.2 98.4,239.5 99.0,236.5 98.6,234.5 96.0,232.1 95.0,229.1 94.0,227.9 93.0,227.6 90.0,229.6 86.0,227.9 81.0,228.8 79.5,227.5 80.1,222.5 82.0,220.7 90.0,219.6 94.0,222.3 96.0,222.1 98.0,220.5 101.0,216.6 107.0,212.8 113.0,211.9 117.0,213.7 119.7,212.5 122.2,209.5ZM115.9,217.5 116.0,217.7 116.0,217.3ZM143.0,223.4 147.0,222.7 149.0,224.0 151.0,226.8 151.3,230.5 154.1,236.5 152.1,238.5 147.1,241.5 143.0,241.6 140.0,243.0 139.0,242.8 137.3,240.5 135.0,239.4 131.5,235.5 130.5,233.5 130.3,230.5 131.0,228.8 132.0,228.0 135.0,227.3 140.0,224.1ZM250.0,229.5 250.1,229.5 250.0,229.8 250.0,229.5ZM249.0,230.1 249.9,230.5 248.1,233.5 250.7,237.5 250.0,239.5 248.0,239.9 243.0,239.3 241.0,240.0 227.8,254.5 227.0,256.5 228.0,260.5 232.0,263.9 239.0,267.6 241.0,268.2 244.0,265.6 247.0,266.1 253.0,263.5 254.5,263.5 254.5,264.5 252.5,266.5 253.3,268.5 255.0,269.1 263.0,269.8 265.3,270.5 266.5,271.5 269.0,276.0 276.0,281.5 283.0,280.1 292.0,281.3 296.0,280.2 301.0,277.3 310.0,277.9 312.0,278.8 314.3,284.5 316.0,286.1 324.0,285.3 328.0,286.6 330.0,286.7 335.1,282.5 335.5,280.5 334.8,278.5 335.0,277.4 339.0,279.5 343.0,278.0 347.0,278.2 352.9,274.5 356.0,270.3 360.0,269.6 365.0,269.7 369.0,267.7 372.0,268.9 373.0,268.8 377.0,267.0 380.0,267.6 384.1,270.5 390.0,272.9 394.0,275.8 396.0,276.5 401.0,276.1 405.0,274.1 409.0,274.1 413.7,270.5 415.3,268.5 418.0,267.8 422.0,268.0 427.0,270.8 429.0,271.3 436.0,270.2 440.0,271.0 445.0,270.5 451.0,273.4 456.0,273.9 460.0,276.4 465.0,277.4 467.5,276.5 468.4,275.5 468.4,274.5 466.0,272.7 459.7,271.5 462.0,268.5 464.0,267.4 467.0,267.5 471.0,266.6 473.0,267.0 475.0,268.5 479.0,267.4 486.0,270.8 486.8,271.5 487.0,272.8 485.0,274.1 482.0,273.4 477.0,274.3 472.3,277.5 472.1,279.5 472.7,280.5 474.5,281.5 479.0,282.3 484.0,280.9 487.0,279.1 490.0,278.2 494.0,280.7 497.0,283.5 498.0,283.7 499.5,283.5 501.0,282.5 502.6,279.5 502.5,278.5 499.7,276.5 499.3,275.5 500.6,274.5 503.0,274.3 506.0,275.6 508.0,275.1 510.0,275.3 512.0,277.4 513.0,277.5 516.0,275.9 518.0,275.9 521.0,278.3 525.0,280.3 527.4,282.5 529.5,287.5 529.1,290.5 529.7,291.5 533.0,293.5 536.7,299.5 540.6,302.5 542.3,305.5 545.0,308.3 552.0,309.6 555.6,309.5 557.0,308.5 559.4,303.5 561.0,302.9 563.8,304.5 564.7,308.5 566.0,310.3 568.0,310.7 571.0,308.9 576.4,313.5 576.9,314.5 575.1,317.5 575.0,318.5 579.0,323.5 587.0,324.4 592.0,323.5 596.0,325.5 598.0,325.8 600.0,325.3 601.1,322.5 603.0,321.6 605.3,322.5 610.0,327.4 615.0,327.1 615.6,327.5 613.3,331.5 613.3,335.5 614.4,339.5 614.0,343.1 613.0,344.1 610.0,343.8 609.3,345.5 609.6,349.5 609.1,351.5 607.0,354.9 604.0,357.5 604.4,362.5 605.2,364.5 605.0,366.1 604.0,366.5 603.4,362.5 602.0,361.8 601.0,362.2 600.1,364.5 601.0,366.4 602.9,368.5 601.9,371.5 602.2,374.5 607.0,385.5 608.0,386.6 613.0,388.9 615.9,393.5 617.1,394.5 629.0,398.1 640.0,398.8 644.6,402.5 647.1,405.5 656.0,410.5 659.0,411.6 662.0,412.0 666.0,411.6 669.4,409.5 669.6,407.5 668.4,397.5 669.0,395.2 675.0,392.6 678.0,390.3 681.0,388.9 689.0,389.8 694.8,388.5 696.0,382.3 700.0,380.0 701.4,377.5 704.8,373.5 705.2,371.5 704.9,363.5 705.6,362.5 709.0,361.0 711.0,359.5 711.7,357.5 711.8,353.5 714.9,350.5 715.4,346.5 717.7,342.5 718.1,339.5 720.0,336.5 728.0,336.3 737.0,337.3 741.0,336.7 744.0,332.5 751.3,328.5 755.0,324.1 757.7,322.5 759.4,318.5 761.0,317.5 761.6,318.5 761.3,321.5 764.3,324.5 766.0,328.6 768.1,336.5 768.1,342.5 769.0,343.5 772.0,343.9 768.7,344.5 767.0,347.7 764.5,340.5 764.9,337.5 764.0,335.4 763.0,335.0 761.0,336.1 757.0,336.9 751.0,341.7 738.0,348.6 735.0,348.8 728.0,346.0 726.0,346.7 725.0,347.9 721.9,356.5 722.2,358.5 724.9,361.5 724.9,363.5 722.7,365.5 722.0,369.5 719.9,374.5 714.0,378.1 712.3,380.5 712.4,383.5 714.5,386.5 714.6,387.5 713.7,391.5 714.0,396.7 713.0,397.6 710.0,398.0 708.0,400.3 707.0,400.4 704.0,398.7 700.0,398.1 691.0,399.1 687.0,397.4 685.1,397.5 683.4,399.5 679.0,400.9 675.8,403.5 672.0,404.1 671.0,405.1 671.0,408.5 670.0,410.5 666.0,412.8 663.0,413.4 659.0,412.8 651.4,409.5 643.0,407.2 634.3,402.5 626.0,403.2 618.0,399.7 612.0,399.5 608.7,396.5 603.8,395.5 602.8,394.5 602.4,390.5 599.9,387.5 598.6,382.5 594.0,374.5 589.0,370.5 582.0,368.0 579.0,364.0 574.0,360.6 572.9,356.5 569.3,349.5 566.0,345.3 564.0,343.9 560.0,344.7 558.0,344.5 555.0,340.0 552.0,337.7 549.5,336.5 548.7,333.5 547.5,332.5 546.0,332.4 538.0,335.0 534.7,334.5 533.0,331.2 529.3,326.5 526.7,324.5 522.1,317.5 515.4,310.5 513.1,306.5 511.0,304.8 500.0,304.4 496.0,301.8 494.0,301.2 487.0,303.6 484.0,302.2 480.0,301.8 477.1,299.5 475.0,297.0 473.0,296.1 467.0,297.0 462.0,298.9 459.0,298.7 457.5,297.5 455.0,292.6 451.6,289.5 447.0,286.5 442.8,282.5 439.0,280.7 431.0,280.9 427.0,278.9 421.0,277.9 419.0,278.6 416.7,280.5 415.0,280.9 410.0,280.4 406.0,280.7 402.0,279.5 393.0,280.5 385.0,280.2 381.2,278.5 378.0,275.1 375.0,274.5 371.0,275.6 367.0,279.0 363.0,280.6 358.0,281.1 356.0,282.6 354.4,286.5 349.0,289.7 343.0,290.5 338.0,289.9 336.5,290.5 334.0,292.9 322.0,291.0 311.0,291.4 309.1,290.5 305.0,287.1 301.0,286.5 295.0,287.1 291.0,289.2 288.0,289.4 284.0,291.0 282.0,291.2 266.0,283.6 261.7,282.5 259.0,281.0 256.0,280.5 253.0,278.5 246.0,276.3 241.0,276.0 237.0,274.9 233.0,274.6 224.0,270.2 222.0,268.5 221.3,266.5 221.0,263.5 223.1,259.5 224.0,254.5 237.4,241.5 239.7,238.5 240.3,237.5 240.0,237.3 234.6,240.5 229.0,245.0 225.0,246.7 214.9,252.5 209.0,257.8 207.8,260.5 206.6,270.5 203.1,275.5 203.6,282.5 206.6,287.5 206.0,288.7 203.0,291.4 198.0,291.6 195.0,294.1 189.0,291.1 185.9,288.5 183.0,285.0 174.0,281.0 169.4,277.5 167.0,276.7 161.9,277.5 160.0,278.4 154.0,286.4 145.0,288.4 141.0,288.3 133.0,285.1 129.0,285.1 123.0,283.6 115.0,285.4 109.5,282.5 106.0,281.8 88.0,285.6 80.0,284.8 71.0,282.7 68.0,282.6 68.0,266.4 74.0,267.0 78.3,266.5 79.5,265.5 79.2,261.5 80.0,260.6 85.0,261.4 91.3,258.5 91.3,256.5 89.9,254.5 90.2,251.5 89.8,250.5 84.0,243.3 83.9,241.5 85.0,240.8 86.0,241.0 88.0,242.7 92.0,240.6 93.0,240.8 96.0,243.9 100.0,243.8 104.0,245.0 105.0,246.0 106.1,249.5 105.7,251.5 103.8,253.5 102.6,263.5 101.2,265.5 103.0,267.0 103.9,269.5 104.0,270.5 102.7,272.5 100.0,274.3 98.0,274.7 96.9,274.5 95.4,272.5 95.5,270.5 96.4,268.5 98.0,266.5 99.9,265.5 99.4,264.5 96.0,263.0 89.0,264.5 90.0,269.5 87.8,274.5 87.5,277.5 89.0,281.6 91.0,282.2 96.0,281.8 106.0,278.7 113.0,279.2 117.0,277.9 121.0,278.8 126.0,278.7 135.0,281.7 138.0,282.2 143.0,284.7 145.0,284.9 151.0,279.6 153.0,275.6 156.0,274.7 162.0,271.9 166.0,272.2 169.0,273.3 172.8,275.5 175.7,278.5 177.0,279.2 181.0,279.8 183.7,279.5 185.4,278.5 186.0,277.2 187.0,276.9 190.0,280.3 191.0,280.3 199.0,275.1 204.6,270.5 205.5,268.5 207.3,258.5 208.7,256.5 213.0,252.6 228.0,244.0 238.4,236.5ZM243.8,236.5 244.0,236.6 245.1,236.5 244.0,236.1ZM758.6,324.5 758.9,325.5 760.2,325.5 760.0,324.1ZM605.0,332.5 600.0,333.9 596.7,339.5 596.9,343.5 598.9,348.5 597.8,354.5 598.0,356.5 599.0,357.8 601.0,357.6 601.9,356.5 600.2,350.5 603.0,347.3 604.0,343.3 605.0,341.6 607.4,340.5 608.0,339.5 608.2,336.5 607.0,332.5ZM73.0,252.9 75.0,252.6 77.0,254.1 77.9,257.5 77.7,259.5 75.0,259.7 73.0,258.5 71.3,256.5 71.4,254.5ZM210.0,516.9 211.0,516.8 214.0,518.9 219.0,528.3 223.7,532.5 224.0,533.5 221.9,535.5 221.6,537.5 223.0,540.5 226.2,544.5 227.0,546.5 226.0,548.4 223.9,549.5 206.0,549.1 199.5,547.5 198.9,546.5 199.7,543.5 199.8,532.5 200.7,529.5 204.0,523.5 207.2,520.5ZM209.5,521.5 206.0,525.8 203.8,530.5 203.6,536.5 204.1,540.5 202.3,546.5 203.0,547.5 208.0,548.4 220.0,548.7 223.8,547.5 224.6,546.5 224.4,545.5 219.5,538.5 218.2,534.5 218.1,531.5 215.0,526.5 213.5,522.5 212.0,520.8 211.0,520.6Z"/>
<path fill="#f4ff10" stroke="#f4ff10" stroke-width="0.6" d="M244.0,236.1 245.0,236.3 245.1,236.5 244.0,236.6ZM240.0,237.3 240.3,237.5 239.7,238.5 237.4,241.5 224.0,254.5 223.1,259.5 221.0,263.5 221.3,266.5 222.0,268.5 224.0,270.2 233.0,274.6 237.0,274.9 241.0,276.0 246.0,276.3 253.0,278.5 256.0,280.5 259.0,281.0 261.7,282.5 266.0,283.6 282.0,291.2 284.0,291.0 288.0,289.4 291.0,289.2 295.0,287.1 301.0,286.5 305.0,287.1 309.1,290.5 311.0,291.4 322.0,291.0 334.0,292.9 336.5,290.5 338.0,289.9 343.0,290.5 349.0,289.7 354.4,286.5 356.0,282.6 358.0,281.1 363.0,280.6 367.0,279.0 371.0,275.6 374.0,274.6 376.0,274.6 378.0,275.1 381.2,278.5 385.0,280.2 393.0,280.5 402.0,279.5 406.0,280.7 410.0,280.4 415.0,280.9 416.7,280.5 419.0,278.6 421.0,277.9 427.0,278.9 431.0,280.9 439.0,280.7 442.8,282.5 447.0,286.5 451.6,289.5 455.0,292.6 457.5,297.5 459.0,298.7 462.0,298.9 467.0,297.0 473.0,296.1 475.0,297.0 477.1,299.5 480.0,301.8 484.0,302.2 487.0,303.6 494.0,301.2 496.0,301.8 500.0,304.4 511.0,304.8 513.1,306.5 515.4,310.5 522.1,317.5 526.7,324.5 529.3,326.5 533.0,331.2 534.7,334.5 538.0,335.0 546.0,332.4 547.5,332.5 548.7,333.5 549.5,336.5 552.0,337.7 555.0,340.0 558.0,344.5 560.0,344.7 564.0,343.9 566.0,345.3 569.3,349.5 572.9,356.5 574.0,360.6 579.0,364.0 582.0,368.0 589.0,370.5 594.0,374.5 598.6,382.5 599.9,387.5 602.4,390.5 602.8,394.5 603.8,395.5 608.7,396.5 612.0,399.5 618.0,399.7 626.0,403.2 634.3,402.5 642.0,406.8 651.4,409.5 659.0,412.8 664.0,413.4 668.6,411.5 670.8,409.5 670.9,405.5 671.5,404.5 675.8,403.5 679.0,400.9 683.4,399.5 685.1,397.5 687.0,397.4 691.0,399.1 700.0,398.1 704.0,398.7 707.0,400.4 708.0,400.3 710.0,398.0 713.0,397.6 714.0,396.7 713.7,391.5 714.6,387.5 714.5,386.5 712.4,383.5 712.3,380.5 714.0,378.1 719.9,374.5 722.0,369.5 722.7,365.5 724.9,363.5 724.9,361.5 722.2,358.5 721.9,356.5 725.0,347.9 727.0,346.2 729.0,346.2 735.0,348.8 738.0,348.6 751.0,341.7 757.0,336.9 761.0,336.1 763.0,335.0 764.0,335.4 764.9,337.5 764.5,340.5 767.0,347.7 768.7,344.5 772.0,343.9 770.0,344.5 768.7,346.5 768.0,365.9 767.3,370.5 767.0,371.6 766.0,370.7 764.0,366.5 763.0,365.7 753.0,364.1 746.0,361.5 743.0,361.7 740.0,363.1 738.0,364.9 737.1,366.5 736.4,369.5 733.0,373.1 732.3,377.5 730.5,382.5 727.0,386.9 723.0,389.5 722.6,391.5 723.5,396.5 722.0,398.5 721.2,402.5 719.5,404.5 719.4,408.5 718.4,409.5 715.0,410.1 711.0,408.9 706.0,409.8 700.0,410.1 696.0,409.8 692.0,408.0 686.0,407.4 682.0,408.7 677.0,412.0 672.0,410.9 667.3,413.5 664.0,416.6 662.0,415.6 658.0,416.1 652.0,412.5 642.0,413.1 628.0,408.4 626.0,408.3 622.0,409.2 618.0,409.1 615.0,407.2 611.0,406.7 602.0,403.8 598.0,403.7 594.0,404.4 591.0,402.3 586.0,402.1 585.0,401.7 584.5,400.5 585.1,396.5 585.0,393.5 584.0,392.3 581.0,391.7 580.0,390.7 575.8,381.5 574.0,380.3 569.0,380.3 568.1,381.5 568.5,384.5 568.0,385.5 567.0,386.0 560.2,386.5 559.3,385.5 559.5,377.5 558.9,375.5 555.2,372.5 552.0,370.8 549.0,366.3 547.0,365.5 543.0,365.5 538.0,364.0 535.0,360.3 532.0,358.7 529.0,359.1 527.1,360.5 523.0,367.3 513.0,368.6 508.0,367.9 502.0,368.0 499.0,370.8 497.0,370.6 492.0,368.5 491.0,367.5 490.9,366.5 492.1,362.5 489.4,356.5 490.1,350.5 489.8,348.5 489.0,346.9 486.6,344.5 486.9,340.5 486.0,336.5 484.2,331.5 481.1,328.5 481.0,324.5 479.0,321.1 478.0,320.5 471.0,319.6 468.0,318.1 466.8,316.5 463.7,309.5 462.0,307.9 456.0,311.0 451.0,309.1 446.0,308.5 444.0,307.7 443.5,305.5 446.3,300.5 446.4,298.5 442.3,297.5 439.0,293.5 437.0,292.6 433.0,293.0 426.0,291.9 422.8,290.5 421.0,290.3 413.0,293.5 412.0,296.8 410.0,298.0 406.0,297.2 396.0,297.2 395.0,297.6 392.0,301.5 390.0,301.8 388.0,301.6 381.0,298.8 380.4,296.5 385.0,294.3 388.0,293.9 393.0,295.4 394.0,294.8 398.0,290.6 398.6,288.5 398.3,285.5 397.5,284.5 396.0,283.9 392.0,284.1 383.0,288.1 377.0,289.8 375.0,289.8 371.0,288.6 368.0,289.0 364.0,291.9 355.0,293.5 349.0,297.8 346.0,297.2 344.0,297.6 336.0,302.6 334.0,302.5 332.0,301.7 327.0,297.6 325.0,296.7 314.0,297.4 298.0,297.1 291.0,300.6 288.0,306.9 286.0,307.9 284.0,308.1 272.5,305.5 270.0,303.5 268.6,297.5 268.0,297.0 266.0,297.6 264.0,297.5 260.0,295.0 256.0,293.7 251.0,288.5 245.0,289.2 239.8,286.5 236.0,283.6 233.0,283.7 223.0,280.8 221.2,279.5 219.1,276.5 213.0,270.5 212.0,270.1 210.3,270.5 209.5,271.5 210.2,274.5 210.4,281.5 209.6,288.5 203.6,295.5 202.0,300.3 199.0,301.6 191.0,301.7 188.0,300.5 185.0,298.0 183.0,293.2 179.0,289.9 175.0,285.0 169.0,281.1 167.0,280.6 160.0,284.3 156.9,288.5 155.0,290.1 150.2,290.5 144.0,293.3 137.0,292.8 130.0,296.6 129.0,296.1 126.9,292.5 125.0,291.3 116.0,289.7 110.0,290.6 108.0,290.3 106.0,289.7 103.0,287.1 101.0,286.3 89.0,287.6 80.0,287.0 75.0,286.0 73.0,286.5 74.0,286.9 75.7,289.5 75.0,294.5 76.0,297.9 77.0,298.3 82.0,295.6 86.0,292.6 87.7,294.5 87.5,297.5 85.0,301.5 80.0,302.0 77.0,305.5 75.9,305.5 74.6,303.5 72.0,302.0 68.0,300.9 68.0,285.6 70.0,286.6 73.0,286.5 70.0,285.0 68.0,285.5 68.0,282.6 71.0,282.7 80.0,284.8 88.0,285.6 106.0,281.8 109.5,282.5 115.0,285.4 123.0,283.6 129.0,285.1 133.0,285.1 141.0,288.3 145.0,288.4 154.0,286.4 160.0,278.4 161.9,277.5 167.0,276.7 169.4,277.5 174.0,281.0 183.0,285.0 188.0,290.3 194.0,293.9 196.0,293.7 198.0,291.6 203.0,291.4 206.0,288.7 206.6,287.5 203.6,282.5 203.1,275.5 206.6,270.5 207.8,260.5 208.5,258.5 214.9,252.5 225.0,246.7 229.0,245.0 234.6,240.5ZM216.1,253.5 210.2,258.5 209.5,260.5 210.0,262.7 211.0,263.0 215.0,261.7 218.5,258.5 219.8,255.5 219.5,253.5 218.0,253.0ZM76.9,300.5 76.0,301.0 76.0,302.6 77.1,302.5 77.5,301.5ZM487.5,325.5 488.0,326.3 488.3,325.5ZM523.0,370.1 524.0,370.2 525.0,371.6 525.0,373.7 524.0,373.4 523.0,372.3ZM546.0,375.2 548.0,375.3 550.0,378.1 551.0,378.5 554.0,378.1 555.0,378.4 555.7,379.5 555.5,387.5 552.0,391.6 547.0,393.5 546.4,389.5 545.0,388.6 543.1,389.5 542.0,393.0 541.0,393.7 534.0,392.6 532.2,391.5 529.0,386.7 524.9,385.5 525.0,382.4 527.0,379.6 529.0,378.2 536.0,378.3 542.0,377.1ZM209.0,509.2 210.0,509.3 214.0,513.3 221.2,526.5 227.0,531.2 229.1,534.5 229.7,536.5 229.0,537.4 225.8,537.5 224.7,538.5 225.4,540.5 228.8,545.5 229.0,547.5 227.9,549.5 223.9,549.5 226.0,548.4 227.0,546.5 226.2,544.5 223.0,540.5 221.6,537.5 221.9,535.5 224.0,533.5 223.7,532.5 219.0,528.3 214.4,519.5 211.0,516.8 210.0,516.9 207.2,520.5 204.0,523.5 201.0,528.7 199.8,532.5 199.7,543.5 198.9,546.5 199.5,547.5 202.7,548.5 211.7,549.5 203.1,549.5 198.0,548.4 196.5,547.5 197.2,533.5 198.1,527.5 201.2,522.5 206.4,517.5 207.3,515.5 207.8,511.5Z"/>
<path fill="#ffff10" stroke="#ffff10" stroke-width="0.6" d="M217.0,253.2 219.0,253.1 219.8,254.5 218.5,258.5 215.0,261.7 211.0,263.0 210.0,262.7 209.5,260.5 210.2,258.5 214.6,254.5ZM211.0,270.2 213.0,270.5 219.1,276.5 221.2,279.5 223.0,280.8 233.0,283.7 236.0,283.6 239.8,286.5 245.0,289.2 251.0,288.5 256.0,293.7 260.0,295.0 264.0,297.5 266.0,297.6 268.0,297.0 268.6,297.5 270.0,303.5 272.5,305.5 284.0,308.1 286.0,307.9 288.0,306.9 291.0,300.6 298.0,297.1 314.0,297.4 325.0,296.7 327.0,297.6 332.0,301.7 334.0,302.5 336.0,302.6 344.0,297.6 346.0,297.2 349.0,297.8 355.0,293.5 364.0,291.9 368.0,289.0 371.0,288.6 375.0,289.8 377.0,289.8 383.0,288.1 387.0,286.0 394.0,283.7 397.0,284.3 398.3,285.5 398.6,288.5 397.2,291.5 393.0,295.4 387.0,293.9 381.8,295.5 380.4,296.5 381.0,298.8 388.0,301.6 390.0,301.8 392.0,301.5 395.0,297.6 396.0,297.2 406.0,297.2 410.0,298.0 412.0,296.8 413.0,293.5 421.0,290.3 428.0,292.3 433.0,293.0 438.0,292.9 440.0,294.5 442.0,297.3 446.4,298.5 446.3,300.5 443.5,305.5 444.0,307.7 446.0,308.5 451.0,309.1 456.0,311.0 462.0,307.9 463.7,309.5 466.8,316.5 468.0,318.1 472.0,319.9 478.0,320.5 479.4,321.5 481.0,324.5 481.1,328.5 484.2,331.5 486.3,337.5 486.9,340.5 486.6,344.5 489.0,346.9 489.8,348.5 490.1,350.5 489.4,356.5 492.1,362.5 490.9,366.5 491.0,367.5 492.0,368.5 497.0,370.6 499.0,370.8 502.0,368.0 508.0,367.9 513.0,368.6 523.0,367.3 527.1,360.5 529.0,359.1 532.0,358.7 535.0,360.3 538.0,364.0 543.0,365.5 547.0,365.5 549.0,366.3 552.0,370.8 555.2,372.5 558.9,375.5 559.5,377.5 559.3,385.5 560.2,386.5 567.0,386.0 568.0,385.5 568.5,384.5 568.1,381.5 569.0,380.3 574.0,380.3 575.8,381.5 580.0,390.7 581.0,391.7 584.0,392.3 585.0,393.5 585.1,396.5 584.5,400.5 585.0,401.7 586.0,402.1 591.0,402.3 594.0,404.4 598.0,403.7 602.0,403.8 611.0,406.7 615.0,407.2 618.0,409.1 622.0,409.2 626.0,408.3 628.0,408.4 642.0,413.1 652.0,412.5 658.0,416.1 662.0,415.6 664.0,416.6 667.3,413.5 672.0,410.9 677.0,412.0 682.0,408.7 686.0,407.4 692.0,408.0 696.0,409.8 700.0,410.1 706.0,409.8 711.0,408.9 715.0,410.1 718.4,409.5 719.4,408.5 719.5,404.5 721.2,402.5 722.0,398.5 723.5,396.5 722.6,391.5 723.0,389.5 726.3,387.5 730.0,383.3 732.3,377.5 733.0,373.1 736.0,370.2 737.1,366.5 739.0,363.8 743.0,361.7 745.0,361.4 753.0,364.1 762.2,365.5 764.0,366.5 766.0,370.7 767.0,371.6 768.0,365.9 768.7,346.5 770.0,344.5 772.0,344.2 770.0,345.1 769.3,346.5 767.6,393.5 767.0,395.2 766.2,393.5 765.4,388.5 765.5,382.5 764.0,380.1 762.0,379.1 758.0,379.2 751.0,381.3 747.0,384.9 739.0,387.4 734.9,394.5 734.1,398.5 731.9,404.5 729.1,409.5 728.4,413.5 727.5,415.5 726.0,417.1 723.0,417.8 719.0,421.5 718.0,421.8 710.0,420.9 706.0,419.1 695.0,417.1 692.0,417.4 688.0,418.8 682.0,418.2 672.0,413.8 669.0,415.2 665.0,420.2 662.0,420.5 659.0,421.9 658.0,421.8 653.7,419.5 649.0,418.6 647.0,418.6 641.0,420.0 639.0,419.8 631.0,416.0 627.0,416.8 623.0,416.4 611.0,416.6 608.2,415.5 604.0,412.0 601.0,410.4 599.0,411.0 594.5,416.5 593.0,417.2 583.0,411.5 578.0,409.9 575.0,407.2 571.0,406.0 565.0,402.6 559.0,400.9 557.0,401.2 553.0,404.3 550.0,405.2 543.0,406.3 538.0,405.4 531.0,405.9 528.6,404.5 524.0,398.4 522.0,397.4 519.0,397.1 517.0,397.6 514.0,400.5 508.0,403.3 506.0,402.8 501.0,399.6 491.0,399.3 487.0,398.0 485.1,396.5 482.9,393.5 482.6,389.5 482.0,388.4 479.0,387.2 475.0,387.3 469.8,382.5 469.1,380.5 469.1,377.5 466.9,375.5 464.3,367.5 459.6,359.5 459.1,354.5 458.1,352.5 452.5,348.5 450.4,344.5 449.0,342.8 441.0,338.4 431.0,334.6 424.0,330.6 422.0,328.5 419.0,323.2 417.2,316.5 415.0,315.3 409.0,315.9 401.0,315.5 398.1,318.5 395.0,319.9 388.0,318.5 381.0,320.1 376.0,318.7 372.4,315.5 371.0,314.9 366.0,315.9 364.2,315.5 361.8,313.5 360.3,309.5 356.0,308.1 353.0,308.2 350.2,310.5 348.0,313.5 346.0,314.0 337.0,312.7 328.8,309.5 321.5,305.5 320.0,305.3 315.0,306.2 310.0,308.0 304.0,306.2 300.0,306.8 297.4,308.5 289.0,316.4 287.0,317.1 283.0,315.7 279.0,312.6 275.0,311.2 273.0,310.9 269.0,311.3 267.0,310.9 264.9,309.5 262.0,305.2 261.0,304.9 257.0,305.6 253.4,307.5 246.0,310.0 244.0,309.6 241.0,307.1 237.0,306.6 234.7,304.5 234.3,301.5 232.3,298.5 228.0,296.0 224.0,295.9 221.0,292.9 217.7,291.5 217.3,290.5 218.1,286.5 217.0,285.2 215.0,284.4 213.0,285.6 211.3,289.5 206.7,294.5 204.3,300.5 203.0,302.4 196.0,306.3 194.0,306.5 182.4,301.5 173.5,287.5 170.0,284.2 167.0,283.2 162.0,285.5 157.0,291.4 152.0,293.8 148.0,297.4 142.0,298.6 140.1,299.5 138.4,301.5 138.5,305.5 138.0,307.2 135.0,309.0 133.0,309.2 129.0,308.0 125.0,307.8 120.7,304.5 112.0,300.5 107.0,301.4 104.0,302.8 101.0,303.5 92.0,307.8 91.0,308.0 88.0,305.6 87.0,305.5 85.0,307.3 80.6,308.5 74.0,308.8 71.0,309.8 68.0,309.9 68.0,300.9 72.0,302.0 74.6,303.5 75.9,305.5 77.0,305.5 80.0,302.0 85.0,301.5 87.9,296.5 87.7,294.5 86.0,292.6 82.0,295.6 77.0,298.3 76.0,297.9 75.0,294.5 75.7,289.5 74.0,286.9 73.0,286.5 76.0,285.9 80.0,287.0 89.0,287.6 101.0,286.3 103.0,287.1 106.0,289.7 108.0,290.3 110.0,290.6 115.0,289.7 122.0,290.4 126.0,291.8 127.7,293.5 129.0,296.1 130.0,296.6 137.0,292.8 144.0,293.3 150.2,290.5 155.0,290.1 156.0,289.5 158.8,285.5 161.0,283.5 166.0,280.9 168.0,280.7 175.0,285.0 179.0,289.9 183.0,293.2 185.0,298.0 188.0,300.5 192.0,301.7 200.0,301.3 202.0,300.3 203.6,295.5 209.6,288.5 210.4,281.5 210.2,274.5 209.5,272.5 210.0,270.7ZM522.8,370.5 523.1,372.5 525.0,373.7 525.3,372.5 524.9,371.5 524.0,370.2 523.0,370.1ZM545.3,375.5 542.0,377.1 536.0,378.3 529.0,378.2 527.0,379.6 525.0,382.4 524.9,385.5 529.0,386.7 532.2,391.5 534.0,392.6 541.0,393.7 542.0,393.0 543.1,389.5 545.0,388.6 546.4,389.5 547.0,393.5 552.0,391.6 555.5,387.5 555.7,379.5 555.0,378.4 554.0,378.1 551.0,378.5 550.0,378.1 548.0,375.3 547.0,374.9ZM69.0,285.1 71.6,285.5 72.0,286.4 73.0,286.5 70.0,286.6 68.0,285.6ZM77.0,300.5 77.5,301.5 77.1,302.5 76.0,302.6 76.0,301.0ZM488.0,325.3 488.3,325.5 488.0,326.3 487.5,325.5ZM207.0,501.2 208.0,500.7 209.0,501.1 212.0,504.4 219.0,517.5 223.0,522.0 225.5,526.5 229.7,530.5 232.7,535.5 234.0,540.1 233.0,541.5 231.0,542.6 230.6,549.5 227.9,549.5 229.0,547.5 228.8,545.5 225.4,540.5 224.7,538.5 225.8,537.5 229.0,537.4 229.7,536.5 228.6,533.5 226.3,530.5 221.2,526.5 214.0,513.3 210.0,509.3 209.0,509.2 207.8,511.5 207.3,515.5 206.4,517.5 201.2,522.5 198.5,526.5 197.7,529.5 196.5,547.5 198.0,548.4 203.1,549.5 194.2,549.5 193.7,547.5 194.2,543.5 192.9,536.5 191.0,531.3 188.0,525.5 187.3,521.5 188.0,520.4 193.0,518.3 195.4,515.5 198.0,513.6 200.0,513.1 203.0,513.7 204.0,513.2 205.1,510.5 206.0,504.0Z"/>
<path fill="#ffe808" stroke="#ffe808" stroke-width="0.6" d="M166.0,283.5 168.0,283.2 169.0,283.6 172.7,286.5 175.1,289.5 182.4,301.5 194.0,306.5 196.0,306.3 203.0,302.4 204.3,300.5 206.7,294.5 211.3,289.5 213.0,285.6 215.0,284.4 217.0,285.2 218.1,286.5 217.3,290.5 217.7,291.5 221.0,292.9 224.0,295.9 228.0,296.0 232.3,298.5 234.3,301.5 234.7,304.5 237.0,306.6 241.0,307.1 244.0,309.6 246.0,310.0 253.4,307.5 257.0,305.6 261.0,304.9 262.0,305.2 264.9,309.5 267.0,310.9 269.0,311.3 273.0,310.9 275.0,311.2 279.0,312.6 283.0,315.7 287.0,317.1 289.0,316.4 297.4,308.5 300.0,306.8 304.0,306.2 310.0,308.0 315.0,306.2 320.0,305.3 321.5,305.5 328.8,309.5 337.0,312.7 346.0,314.0 348.0,313.5 350.2,310.5 353.0,308.2 356.0,308.1 360.3,309.5 361.8,313.5 364.2,315.5 366.0,315.9 371.0,314.9 372.4,315.5 376.0,318.7 381.0,320.1 388.0,318.5 395.0,319.9 398.1,318.5 401.0,315.5 404.0,315.9 410.0,315.9 414.0,315.2 415.6,315.5 417.2,316.5 419.0,323.2 422.0,328.5 424.0,330.6 431.0,334.6 441.0,338.4 449.0,342.8 450.4,344.5 452.5,348.5 458.1,352.5 459.1,354.5 459.6,359.5 464.3,367.5 466.9,375.5 469.1,377.5 469.1,380.5 469.8,382.5 475.0,387.3 479.0,387.2 482.0,388.4 482.6,389.5 482.9,393.5 485.1,396.5 487.0,398.0 491.0,399.3 501.0,399.6 506.0,402.8 508.0,403.3 514.0,400.5 517.0,397.6 519.0,397.1 522.0,397.4 524.0,398.4 528.6,404.5 531.0,405.9 538.0,405.4 543.0,406.3 550.0,405.2 553.0,404.3 557.0,401.2 559.0,400.9 565.0,402.6 571.0,406.0 575.0,407.2 578.0,409.9 583.0,411.5 593.0,417.2 594.5,416.5 599.0,411.0 601.0,410.4 604.0,412.0 608.2,415.5 611.0,416.6 623.0,416.4 627.0,416.8 631.0,416.0 639.0,419.8 641.0,420.0 647.0,418.6 649.0,418.6 653.7,419.5 658.0,421.8 659.0,421.9 662.0,420.5 665.0,420.2 669.0,415.2 672.0,413.8 682.0,418.2 688.0,418.8 692.0,417.4 695.0,417.1 706.0,419.1 710.0,420.9 717.0,421.8 718.9,421.5 722.0,418.4 726.0,417.1 727.5,415.5 728.4,413.5 729.1,409.5 731.9,404.5 734.1,398.5 734.9,394.5 739.0,387.4 747.0,384.9 751.0,381.3 758.0,379.2 762.0,379.1 764.0,380.1 765.5,382.5 765.4,388.5 766.2,393.5 767.0,395.2 768.0,389.3 769.3,346.5 770.0,345.1 772.0,344.5 772.0,344.9 770.3,345.5 769.8,347.5 768.9,397.5 769.9,401.5 769.0,412.6 768.0,414.3 764.0,403.3 762.0,399.4 761.0,398.8 760.0,399.3 758.0,401.7 752.0,404.6 746.0,405.0 744.8,405.5 743.3,407.5 743.8,410.5 743.5,411.5 738.0,415.6 735.5,422.5 732.0,425.5 729.0,426.5 725.0,425.7 719.0,426.5 714.0,428.7 710.0,429.6 709.0,429.5 706.0,427.3 701.0,427.4 698.0,424.1 687.0,422.3 680.0,420.3 674.0,417.8 671.0,418.6 665.0,423.6 661.0,425.9 656.0,427.1 653.0,426.6 651.0,424.4 646.0,425.8 642.0,424.4 638.0,424.1 634.0,422.8 630.0,423.8 625.0,422.8 618.0,424.6 614.0,426.4 605.0,425.2 603.5,425.5 602.0,427.6 600.0,427.8 598.0,427.3 594.0,428.2 590.0,425.6 582.0,424.4 580.0,423.5 578.0,419.7 576.0,418.1 572.0,418.3 563.0,413.9 560.0,413.5 558.0,413.7 554.2,415.5 551.5,420.5 551.0,422.5 549.5,423.5 547.0,422.9 543.0,419.2 538.0,416.3 529.0,417.9 522.0,417.0 518.0,419.1 514.0,420.3 510.0,420.6 505.0,422.7 502.0,423.3 499.0,425.3 492.0,426.9 490.0,426.9 486.9,425.5 482.0,420.3 479.2,414.5 477.3,408.5 474.0,407.9 470.0,408.8 468.0,408.7 465.0,405.5 463.0,402.1 458.7,397.5 454.0,395.4 450.0,392.7 448.0,392.8 447.0,393.9 446.2,396.5 445.9,400.5 444.3,402.5 440.0,402.1 435.0,399.8 434.2,398.5 433.9,394.5 434.4,390.5 436.0,387.5 436.0,386.3 435.0,385.3 433.0,384.7 431.8,385.5 431.7,387.5 431.0,388.3 428.0,384.9 425.0,382.5 421.3,377.5 421.4,376.5 425.0,373.8 425.6,372.5 424.1,366.5 424.8,363.5 424.6,362.5 420.0,361.4 416.0,357.1 413.0,355.3 408.0,353.7 406.2,348.5 405.0,347.8 402.0,347.6 399.5,351.5 398.3,352.5 396.0,352.7 394.0,351.9 392.8,349.5 393.1,347.5 396.0,346.1 400.0,347.4 401.0,347.5 401.8,346.5 401.3,344.5 400.0,342.3 398.0,340.5 396.0,339.7 393.0,336.5 390.0,335.3 386.0,336.3 384.0,334.9 382.0,334.3 376.1,334.5 372.0,332.1 369.0,331.1 367.0,331.2 364.0,332.8 360.0,333.6 354.0,331.6 350.0,331.8 341.0,325.8 337.0,324.5 329.0,318.7 325.0,316.5 323.0,316.3 314.4,317.5 310.0,320.7 308.0,320.5 305.0,318.1 303.0,318.1 301.0,319.0 297.0,322.3 292.0,323.2 288.2,327.5 286.0,328.2 283.0,327.5 276.4,321.5 273.5,317.5 268.0,316.6 261.0,317.1 256.0,319.7 252.0,319.5 245.0,321.9 231.0,324.4 223.7,321.5 221.8,319.5 219.6,315.5 215.0,311.7 208.0,310.8 201.0,312.0 198.0,311.6 191.0,310.0 185.0,306.5 181.0,305.2 178.0,303.0 176.0,300.5 173.1,292.5 170.2,287.5 169.0,286.2 167.0,285.4 163.9,287.5 155.2,296.5 153.3,299.5 152.0,303.4 150.0,306.3 150.5,309.5 154.4,316.5 155.8,322.5 155.0,325.0 153.2,326.5 148.0,328.0 143.0,327.1 139.0,329.0 134.5,328.5 128.0,327.1 124.0,322.4 121.0,320.5 115.0,321.0 107.0,319.5 101.0,320.2 97.0,322.6 95.0,323.2 88.0,323.8 86.0,322.8 85.0,321.5 84.1,318.5 84.1,314.5 83.0,310.3 73.3,311.5 72.4,312.5 72.7,316.5 70.0,319.7 68.0,320.2 68.0,309.9 71.0,309.8 74.0,308.8 80.6,308.5 85.0,307.3 87.0,305.5 88.0,305.6 91.0,308.0 92.0,307.8 101.0,303.5 104.0,302.8 107.0,301.4 111.0,300.5 114.0,301.2 120.7,304.5 125.0,307.8 129.0,308.0 133.0,309.2 136.0,308.6 137.8,307.5 138.3,306.5 138.4,301.5 140.0,299.5 142.0,298.6 148.0,297.4 152.0,293.8 157.0,291.4 162.0,285.5ZM211.0,298.5 208.0,301.2 207.5,302.5 208.0,303.1 210.0,303.6 213.0,307.6 214.0,308.0 214.9,306.5 213.1,299.5 212.0,298.2ZM164.0,317.3 167.0,316.6 167.8,317.5 166.2,319.5 165.0,319.9 163.4,319.5 163.0,318.7ZM76.0,322.4 80.9,323.5 82.0,325.5 82.1,328.5 81.1,334.5 79.2,340.5 78.0,341.7 68.0,339.2 68.0,325.1 73.0,326.6 74.0,325.6 74.4,323.5ZM206.0,497.1 207.0,496.5 208.0,496.8 213.0,501.1 216.3,505.5 221.0,514.5 224.3,517.5 226.6,522.5 233.0,528.3 237.8,541.5 237.6,542.5 233.5,545.5 233.1,549.5 230.6,549.5 231.0,542.6 233.0,541.5 234.0,540.1 232.7,535.5 229.7,530.5 225.5,526.5 223.0,522.0 219.0,517.5 212.0,504.4 209.5,501.5 208.0,500.7 207.0,501.2 206.4,502.5 205.1,510.5 204.0,513.2 203.0,513.7 200.0,513.1 198.0,513.6 195.4,515.5 193.0,518.3 188.0,520.4 187.3,521.5 188.0,525.5 191.0,531.3 192.9,536.5 194.2,543.5 193.7,547.5 194.2,549.5 185.8,549.5 187.5,546.5 188.7,542.5 187.5,535.5 186.1,530.5 179.4,519.5 177.3,510.5 177.5,509.5 181.9,505.5 185.0,504.1 186.7,504.5 189.0,507.3 191.1,507.5 192.8,505.5 191.9,502.5 192.0,501.5 193.0,500.9 197.0,501.6 201.0,504.7 201.6,504.5ZM175.0,549.2 177.0,549.0 178.1,549.5 174.7,549.5Z"/>
<path fill="#ffd400" stroke="#ffd400" stroke-width="0.6" d="M167.0,285.4 169.0,286.2 170.2,287.5 173.1,292.5 176.0,300.5 178.0,303.0 181.0,305.2 185.0,306.5 191.0,310.0 198.0,311.6 201.0,312.0 208.0,310.8 215.0,311.7 219.6,315.5 221.8,319.5 223.7,321.5 231.0,324.4 245.0,321.9 252.0,319.5 256.0,319.7 261.0,317.1 268.0,316.6 273.5,317.5 276.4,321.5 283.0,327.5 286.0,328.2 288.2,327.5 292.0,323.2 297.0,322.3 301.0,319.0 303.0,318.1 305.0,318.1 308.0,320.5 310.0,320.7 314.4,317.5 324.0,316.3 329.0,318.7 337.1,324.5 341.0,325.8 350.0,331.8 354.0,331.6 360.0,333.6 364.0,332.8 367.0,331.2 369.0,331.1 377.0,334.7 383.0,334.4 386.0,336.3 387.0,336.4 389.0,335.5 391.1,335.5 393.0,336.5 396.0,339.7 399.0,341.2 400.8,343.5 401.6,345.5 401.8,346.5 401.0,347.5 396.0,346.1 393.1,347.5 392.8,349.5 394.0,351.9 396.0,352.7 398.3,352.5 399.5,351.5 402.0,347.6 405.0,347.8 406.2,348.5 408.0,353.7 413.0,355.3 416.0,357.1 420.0,361.4 424.6,362.5 424.8,363.5 424.1,366.5 425.6,372.5 425.0,373.8 421.4,376.5 421.3,377.5 425.0,382.5 428.0,384.9 431.0,388.3 431.7,387.5 431.8,385.5 433.0,384.7 435.0,385.3 436.0,386.3 436.0,387.5 434.4,390.5 433.9,394.5 434.2,398.5 435.0,399.8 440.0,402.1 444.3,402.5 445.9,400.5 446.2,396.5 447.0,393.9 448.0,392.8 450.0,392.7 454.0,395.4 458.7,397.5 463.0,402.1 465.0,405.5 468.0,408.7 470.0,408.8 474.0,407.9 477.3,408.5 479.2,414.5 482.0,420.3 486.9,425.5 490.0,426.9 492.0,426.9 499.0,425.3 502.0,423.3 505.0,422.7 510.0,420.6 514.0,420.3 518.0,419.1 522.0,417.0 529.0,417.9 538.0,416.3 543.0,419.2 547.0,422.9 549.5,423.5 551.0,422.5 551.5,420.5 554.2,415.5 558.0,413.7 560.0,413.5 563.0,413.9 572.0,418.3 576.0,418.1 578.0,419.7 580.0,423.5 582.0,424.4 590.0,425.6 594.0,428.2 598.0,427.3 600.0,427.8 602.0,427.6 603.5,425.5 605.0,425.2 614.0,426.4 618.0,424.6 625.0,422.8 630.0,423.8 634.0,422.8 638.0,424.1 642.0,424.4 646.0,425.8 651.0,424.4 653.0,426.6 656.0,427.1 661.0,425.9 665.0,423.6 671.0,418.6 674.0,417.8 680.0,420.3 687.0,422.3 698.0,424.1 701.0,427.4 706.0,427.3 709.0,429.5 714.0,428.7 718.0,426.7 724.0,425.8 730.0,426.4 734.7,423.5 736.0,421.5 738.0,415.6 743.5,411.5 743.8,410.5 743.3,407.5 744.8,405.5 746.0,405.0 752.0,404.6 758.0,401.7 760.0,399.3 761.0,398.8 762.0,399.4 764.0,403.3 768.0,414.3 769.0,412.6 769.9,401.5 768.9,397.5 769.8,347.5 770.3,345.5 772.0,344.9 770.6,346.5 770.1,354.5 769.8,396.5 770.8,400.5 770.8,408.5 770.1,421.5 769.0,427.0 768.0,427.9 765.5,423.5 761.0,417.7 756.0,417.8 752.0,420.0 750.0,425.2 744.0,433.0 739.0,434.1 729.0,433.7 726.0,434.7 721.0,433.9 710.0,435.9 695.0,430.1 690.0,426.4 682.0,423.3 675.0,421.7 673.0,422.1 671.0,423.3 667.7,426.5 662.0,430.4 661.0,430.7 657.0,429.8 650.0,431.0 641.0,430.5 632.0,431.1 628.0,433.2 621.1,434.5 619.8,437.5 618.8,438.5 615.0,439.9 610.0,438.9 607.0,435.5 605.0,434.9 603.0,435.3 600.0,437.5 598.0,437.9 589.0,435.4 584.0,435.4 575.0,432.6 561.0,433.9 553.0,433.2 548.0,433.9 543.0,433.1 539.0,435.0 533.0,435.6 523.0,434.2 521.2,435.5 520.4,438.5 519.0,440.5 515.0,441.8 513.0,441.5 501.0,437.0 497.0,437.0 488.0,440.0 484.6,441.5 482.0,443.8 480.0,444.3 476.0,442.4 473.0,442.6 468.0,441.9 466.4,441.5 465.4,440.5 465.7,437.5 467.6,432.5 467.2,430.5 464.5,427.5 465.5,423.5 461.0,420.3 459.5,417.5 459.0,414.5 457.7,413.5 451.3,413.5 449.7,414.5 448.6,416.5 447.0,416.7 444.0,415.0 440.0,411.5 433.0,409.6 425.7,414.5 424.0,419.0 414.0,420.2 406.0,416.3 403.0,413.1 395.9,410.5 394.7,409.5 394.3,407.5 393.1,405.5 390.0,402.7 389.0,402.4 386.0,403.5 382.9,402.5 379.6,398.5 379.4,392.5 377.0,386.9 373.6,383.5 363.0,370.5 362.0,369.8 352.3,367.5 348.0,363.8 346.0,364.4 343.0,366.5 342.0,366.4 339.0,362.2 338.0,361.6 334.0,361.5 331.0,359.3 328.2,354.5 327.6,347.5 328.4,342.5 326.3,339.5 325.0,335.5 323.0,334.8 321.0,334.6 318.5,335.5 315.9,337.5 313.0,341.9 311.0,342.9 309.0,343.0 305.0,340.7 301.0,339.5 299.0,340.1 296.0,342.0 293.0,342.4 287.0,340.2 280.0,340.7 276.0,339.3 272.0,339.1 264.0,334.5 256.0,331.4 254.0,331.5 251.0,332.8 246.0,332.8 243.0,335.0 236.0,333.5 232.0,333.7 226.0,331.3 220.7,330.5 216.0,328.3 211.0,327.7 205.0,328.6 200.0,327.4 195.0,328.6 190.0,328.4 184.0,329.9 182.3,331.5 180.0,336.6 177.0,339.0 171.0,338.6 167.0,339.3 164.0,338.3 161.0,339.1 157.0,339.1 145.0,344.0 141.0,343.2 135.0,344.7 130.0,344.7 127.0,346.2 122.0,350.3 119.0,351.9 117.0,352.3 113.0,351.4 110.0,352.6 106.0,349.0 99.4,346.5 96.4,343.5 95.6,340.5 95.0,339.5 94.0,339.2 90.0,340.4 87.5,339.5 86.0,339.5 80.0,343.6 76.0,343.0 68.0,340.5 68.0,339.2 72.0,340.0 76.0,341.6 78.5,341.5 81.1,334.5 82.2,327.5 82.0,325.3 81.0,323.6 75.7,322.5 74.4,323.5 74.0,325.6 73.0,326.6 68.0,325.1 68.0,320.2 70.0,319.7 72.7,316.5 72.4,312.5 74.0,311.2 83.3,310.5 84.6,320.5 85.6,322.5 88.0,323.8 95.0,323.2 97.0,322.6 101.0,320.2 107.0,319.5 115.0,321.0 121.0,320.5 124.0,322.4 128.0,327.1 137.0,328.9 140.0,328.7 143.0,327.1 148.0,328.0 154.0,326.2 155.7,323.5 155.6,321.5 154.0,315.5 150.1,308.5 150.0,306.3 152.0,303.4 153.3,299.5 155.2,296.5 163.9,287.5ZM163.7,317.5 162.9,318.5 163.4,319.5 165.0,319.9 166.2,319.5 167.8,317.5 167.0,316.6ZM211.0,298.5 212.0,298.2 213.1,299.5 214.9,306.5 214.0,308.0 213.0,307.6 210.0,303.6 208.0,303.1 207.5,302.5 208.0,301.2ZM453.0,417.4 456.0,417.4 457.1,418.5 456.6,420.5 455.0,421.9 453.0,421.6 452.0,420.5 451.5,418.5ZM205.0,490.0 206.0,489.7 207.0,490.5 211.0,495.5 222.0,507.0 227.0,515.0 228.6,519.5 235.0,526.5 237.0,531.5 239.3,535.5 241.9,542.5 242.0,544.5 236.0,546.3 235.1,547.5 235.1,549.5 233.1,549.5 233.5,545.5 237.6,542.5 237.8,541.5 233.1,528.5 226.6,522.5 224.3,517.5 221.0,514.5 216.3,505.5 214.0,502.3 211.0,499.1 207.0,496.5 204.8,498.5 201.6,504.5 201.0,504.7 197.0,501.6 193.0,500.9 192.0,501.5 191.9,502.5 192.8,505.5 191.1,507.5 189.0,507.3 186.7,504.5 185.0,504.1 181.9,505.5 177.5,509.5 177.5,511.5 179.7,520.5 186.1,530.5 188.5,540.5 188.6,543.5 185.8,549.5 178.1,549.5 176.0,549.0 174.7,549.5 172.0,549.5 171.8,547.5 172.2,546.5 175.0,543.7 179.4,540.5 180.7,537.5 179.6,528.5 173.7,520.5 172.4,517.5 171.9,509.5 174.0,502.4 176.0,500.6 178.0,500.6 179.0,500.0 182.8,496.5 187.0,493.7 192.0,494.0 199.0,492.4 202.0,492.5ZM742.0,544.4 744.0,543.8 747.0,544.5 749.0,546.7 752.0,547.7 752.6,549.5 739.1,549.5Z"/>
<path fill="#ffc000" stroke="#ffc000" stroke-width="0.6" d="M200.0,327.4 205.0,328.6 211.0,327.7 216.0,328.3 220.7,330.5 226.0,331.3 232.0,333.7 236.0,333.5 243.0,335.0 246.0,332.8 251.0,332.8 254.0,331.5 256.0,331.4 264.0,334.5 272.0,339.1 276.0,339.3 280.0,340.7 287.0,340.2 293.0,342.4 296.0,342.0 299.0,340.1 301.0,339.5 305.0,340.7 309.0,343.0 311.0,342.9 313.0,341.9 315.9,337.5 318.5,335.5 321.0,334.6 324.0,335.1 325.7,336.5 326.3,339.5 328.4,342.5 327.6,347.5 328.2,354.5 331.0,359.3 334.0,361.5 338.0,361.6 339.0,362.2 342.0,366.4 343.0,366.5 346.0,364.4 348.0,363.8 352.3,367.5 362.0,369.8 363.0,370.5 373.6,383.5 377.0,386.9 379.4,392.5 379.6,398.5 382.9,402.5 386.0,403.5 389.0,402.4 390.0,402.7 393.1,405.5 394.3,407.5 394.7,409.5 395.9,410.5 403.0,413.1 406.0,416.3 414.0,420.2 424.0,419.0 425.7,414.5 433.0,409.6 440.0,411.5 444.0,415.0 447.0,416.7 448.6,416.5 449.7,414.5 451.3,413.5 457.7,413.5 459.0,414.5 459.5,417.5 461.0,420.3 465.5,423.5 464.5,427.5 467.2,430.5 467.6,432.5 465.7,437.5 465.4,440.5 466.4,441.5 468.0,441.9 473.0,442.6 476.0,442.4 480.0,444.3 482.0,443.8 484.6,441.5 488.0,440.0 497.0,437.0 501.0,437.0 513.0,441.5 515.0,441.8 519.0,440.5 520.4,438.5 521.2,435.5 523.0,434.2 533.0,435.6 539.0,435.0 543.0,433.1 548.0,433.9 553.0,433.2 561.0,433.9 575.0,432.6 584.0,435.4 589.0,435.4 598.0,437.9 600.0,437.5 603.0,435.3 605.0,434.9 607.0,435.5 610.0,438.9 615.0,439.9 618.8,438.5 619.8,437.5 621.1,434.5 628.0,433.2 632.0,431.1 641.0,430.5 650.0,431.0 657.0,429.8 661.0,430.7 662.0,430.4 667.7,426.5 671.0,423.3 673.0,422.1 675.0,421.7 682.0,423.3 690.0,426.4 695.0,430.1 710.0,435.9 721.0,433.9 726.0,434.7 729.0,433.7 739.0,434.1 744.0,433.0 750.0,425.2 752.0,420.0 756.0,417.8 761.0,417.7 765.5,423.5 768.0,427.9 769.0,427.0 770.0,422.4 770.8,408.5 770.8,400.5 769.8,396.5 770.1,354.5 770.6,346.5 771.0,345.6 772.0,345.4 770.9,354.5 771.7,362.5 771.2,368.5 771.9,373.5 770.8,380.5 771.0,396.5 772.0,399.7 772.0,411.0 769.5,455.5 769.0,456.8 766.4,449.5 766.1,442.5 764.9,437.5 763.0,434.1 760.0,431.3 757.0,431.6 755.0,432.9 753.0,435.5 752.5,438.5 751.6,439.5 746.0,440.7 741.0,443.7 739.0,443.8 734.0,443.0 730.0,441.4 721.0,439.9 709.0,440.1 705.0,437.4 701.0,436.0 698.0,433.9 693.0,432.7 689.0,429.7 681.0,425.5 678.0,424.9 674.0,426.1 663.0,432.3 661.9,433.5 660.4,437.5 658.5,439.5 656.7,440.5 652.0,441.3 649.5,442.5 647.3,445.5 644.0,448.4 638.0,445.7 631.0,445.6 629.8,443.5 629.0,438.8 616.0,444.7 613.0,445.0 605.0,443.1 593.0,446.9 589.0,449.0 581.0,444.6 578.0,444.7 571.0,443.6 568.1,447.5 566.0,453.4 563.0,455.3 559.0,459.1 553.8,460.5 550.0,463.3 546.0,464.9 544.0,464.9 542.0,463.2 540.0,463.1 534.0,466.8 524.0,468.7 514.0,472.4 502.0,473.1 496.0,471.2 489.0,474.6 481.0,473.0 476.0,474.1 462.2,470.5 460.3,469.5 458.0,465.3 454.0,464.8 446.0,462.3 442.0,462.8 435.0,465.8 430.0,463.7 428.0,463.9 425.0,465.3 420.0,464.8 415.0,462.0 413.0,461.7 410.9,462.5 407.9,467.5 404.0,471.2 397.0,474.1 395.0,474.0 388.0,470.5 384.0,470.1 381.0,468.3 378.0,468.5 376.0,469.5 372.0,473.5 364.6,474.5 364.3,475.5 366.6,478.5 366.0,480.5 363.0,482.4 357.0,484.3 355.4,483.5 355.5,482.5 356.7,480.5 357.5,476.5 360.6,473.5 362.2,467.5 361.0,466.7 358.0,466.4 357.0,467.2 355.0,471.3 354.0,472.1 349.0,471.5 348.2,472.5 349.3,475.5 349.4,477.5 348.0,479.0 346.0,478.5 345.2,477.5 344.0,472.5 340.1,467.5 339.0,467.0 332.0,468.2 326.0,471.7 321.0,472.6 319.9,472.5 319.8,471.5 318.7,470.5 316.0,470.4 315.4,471.5 316.6,473.5 316.2,475.5 312.0,479.5 310.0,482.8 309.0,483.0 308.0,481.1 307.5,476.5 307.7,467.5 306.0,465.9 303.0,465.1 301.0,463.7 295.3,457.5 293.6,453.5 290.5,451.5 287.0,447.5 285.8,443.5 286.2,440.5 285.9,438.5 281.7,429.5 281.9,424.5 281.3,420.5 278.0,417.0 273.0,415.4 271.0,415.7 264.0,418.5 258.0,417.1 257.0,418.3 256.3,421.5 255.0,423.3 253.0,424.4 249.0,424.3 248.0,424.9 247.5,426.5 249.0,429.5 248.4,430.5 243.7,433.5 239.6,441.5 239.0,444.5 237.0,446.4 234.2,443.5 234.4,438.5 235.2,435.5 234.5,432.5 233.0,431.8 231.0,431.7 228.0,429.8 225.0,429.8 224.2,429.5 224.0,428.5 226.0,424.7 228.0,423.5 232.0,423.4 235.0,425.1 237.5,424.5 238.6,423.5 239.9,418.5 244.9,412.5 247.0,411.8 251.0,411.6 252.9,410.5 255.1,405.5 259.4,398.5 261.0,391.5 264.0,388.8 267.0,387.7 273.0,384.2 275.0,384.6 279.0,386.9 282.0,387.4 288.0,384.2 293.0,383.9 298.0,384.5 306.0,383.4 312.0,379.7 313.0,378.5 313.2,375.5 315.1,371.5 314.0,370.7 311.0,369.9 308.0,371.6 301.0,369.7 299.5,368.5 298.4,364.5 297.6,363.5 296.0,362.9 293.0,363.0 288.0,361.6 281.0,365.4 277.0,365.9 276.1,366.5 275.0,371.2 274.0,372.7 273.0,373.1 266.0,372.3 265.0,371.7 264.3,370.5 263.3,366.5 259.0,360.8 257.9,356.5 255.0,353.4 243.0,345.5 239.0,346.1 236.0,345.1 234.4,345.5 234.0,346.3 234.4,349.5 235.2,351.5 237.9,354.5 240.3,358.5 240.1,362.5 238.0,368.0 236.0,371.0 233.0,371.5 229.0,373.4 226.0,373.0 223.0,371.1 217.0,363.1 214.5,358.5 213.2,350.5 214.0,349.2 218.2,346.5 218.1,345.5 217.0,345.4 213.0,345.7 208.0,348.3 201.0,349.7 194.0,347.9 184.0,347.9 178.0,349.2 172.0,352.6 167.0,354.7 157.0,354.4 151.0,355.5 148.0,355.5 144.0,357.0 130.0,360.1 122.0,359.0 120.0,359.1 116.0,360.7 112.3,364.5 109.0,366.6 104.0,365.9 97.0,366.1 95.0,365.4 89.2,360.5 80.0,355.3 78.9,351.5 79.2,347.5 78.8,345.5 68.0,342.2 68.0,340.5 76.0,343.0 80.0,343.6 86.0,339.5 87.5,339.5 90.0,340.4 94.0,339.2 95.0,339.5 95.6,340.5 96.4,343.5 99.4,346.5 106.0,349.0 110.0,352.6 113.0,351.4 118.0,352.2 122.0,350.3 128.0,345.6 131.0,344.5 135.0,344.7 141.0,343.2 145.0,344.0 157.0,339.1 161.0,339.1 164.0,338.3 167.0,339.3 171.0,338.6 177.0,339.0 180.0,336.6 182.3,331.5 184.0,329.9 190.0,328.4 195.0,328.6ZM452.5,417.5 451.5,418.5 451.5,419.5 453.0,421.6 455.0,421.9 456.6,420.5 457.1,418.5 456.3,417.5ZM630.7,436.5 629.8,437.5 630.0,438.4 632.2,437.5 632.5,436.5ZM366.0,460.5 363.0,463.5 363.0,466.2 366.0,467.0 369.0,468.6 370.0,468.5 372.8,465.5 372.9,463.5 371.6,461.5 370.0,460.4 368.0,459.9ZM158.0,384.1 160.0,383.6 161.0,384.0 161.6,385.5 160.6,390.5 157.5,395.5 157.9,398.5 161.0,402.3 162.0,402.8 165.0,402.5 166.5,403.5 163.3,406.5 161.7,410.5 161.4,413.5 160.5,415.5 156.0,417.9 151.3,417.5 145.0,413.9 143.4,408.5 141.1,405.5 140.9,403.5 143.0,399.7 148.0,397.2 149.7,395.5 150.8,390.5 153.7,386.5ZM208.0,428.4 210.0,427.8 214.0,428.3 216.0,429.0 219.1,431.5 220.7,433.5 222.0,437.8 225.8,444.5 225.4,446.5 223.8,448.5 217.0,450.1 211.6,452.5 210.5,453.5 205.5,460.5 205.4,462.5 206.7,466.5 206.0,468.6 204.0,467.6 203.4,466.5 203.9,461.5 202.6,458.5 202.3,455.5 200.4,452.5 201.1,448.5 199.2,443.5 201.0,439.5 202.1,434.5ZM580.0,451.5 580.0,451.5 580.0,451.8 580.0,451.5ZM220.0,457.2 227.0,458.0 231.5,460.5 233.0,462.5 233.0,463.5 232.0,465.5 231.0,466.1 228.0,465.9 227.0,466.8 224.0,472.6 223.0,472.5 222.6,468.5 221.7,466.5 220.0,465.8 214.0,465.7 212.2,464.5 211.2,462.5 211.5,460.5 213.0,458.4 217.0,458.2ZM209.0,470.4 212.0,470.2 214.8,473.5 214.5,476.5 210.0,479.7 208.5,482.5 209.0,486.4 212.0,491.9 214.0,493.5 219.0,494.6 221.0,494.7 224.0,493.4 227.0,494.2 230.0,496.8 233.5,502.5 233.7,504.5 231.9,509.5 232.1,513.5 235.2,517.5 238.1,522.5 238.8,524.5 239.0,529.5 239.7,531.5 245.2,542.5 248.3,546.5 248.2,548.5 247.0,549.4 243.6,549.5 239.0,548.5 237.7,549.5 235.1,549.5 235.1,547.5 236.0,546.3 241.0,545.1 242.0,544.5 242.1,543.5 239.3,535.5 237.0,531.5 235.0,526.5 228.6,519.5 227.0,515.0 222.0,507.0 206.0,489.7 202.0,492.5 199.0,492.4 192.0,494.0 187.0,493.7 182.8,496.5 179.0,500.0 178.0,500.6 176.0,500.6 174.0,502.4 171.9,509.5 172.4,517.5 173.7,520.5 179.6,528.5 180.7,537.5 179.4,540.5 175.0,543.7 172.2,546.5 171.8,547.5 172.0,549.5 68.0,549.5 68.0,500.9 70.5,501.5 71.1,502.5 71.1,504.5 72.0,506.0 74.0,505.9 78.0,503.8 81.9,506.5 90.0,508.7 94.0,511.6 102.0,514.8 104.0,515.3 109.0,514.1 111.0,514.5 114.0,518.4 116.0,519.7 117.8,516.5 119.0,515.7 120.0,515.4 122.0,515.9 124.2,517.5 124.3,521.5 127.0,524.5 128.0,526.5 127.9,527.5 125.3,530.5 126.0,532.6 129.0,534.3 135.0,535.0 142.7,539.5 148.0,538.3 156.0,540.6 157.7,540.5 160.5,537.5 162.0,534.2 164.7,530.5 167.0,529.1 169.0,530.5 169.4,531.5 168.8,532.5 165.0,534.5 163.8,537.5 165.0,538.9 170.0,541.0 171.0,540.9 176.3,537.5 177.1,535.5 175.0,529.8 172.0,526.2 168.6,524.5 168.0,523.5 167.9,519.5 165.8,510.5 167.1,503.5 166.6,498.5 167.4,495.5 169.4,492.5 172.2,490.5 174.0,488.1 176.0,487.1 187.0,486.5 193.0,487.4 195.0,486.7 198.0,479.5 201.4,476.5 203.0,471.5 205.0,470.8 207.0,471.3ZM652.0,482.4 654.0,481.6 657.0,481.6 668.0,483.3 674.0,484.5 679.0,486.4 682.0,486.6 687.3,490.5 688.2,492.5 688.0,493.1 687.0,493.5 676.0,494.0 675.0,494.7 672.6,499.5 671.0,501.0 669.0,500.5 667.0,499.2 662.0,499.8 657.0,498.5 653.9,496.5 648.3,487.5 648.8,485.5ZM169.0,486.3 171.3,486.5 171.8,487.5 170.0,488.7 169.0,488.7 167.9,487.5 168.3,486.5ZM686.0,503.3 688.5,503.5 693.0,506.5 693.4,507.5 691.7,511.5 692.0,512.5 693.0,513.2 696.0,511.3 697.0,511.4 699.0,513.0 701.0,513.1 702.1,512.5 703.2,510.5 704.0,510.2 705.0,510.6 706.4,512.5 706.0,515.5 706.4,521.5 707.0,522.9 708.0,523.6 712.0,524.1 718.0,523.1 723.4,524.5 726.0,526.0 731.0,526.0 735.0,527.5 740.0,528.3 750.0,534.2 752.0,534.2 757.0,532.9 759.0,533.3 765.0,536.7 768.0,539.9 769.0,540.2 772.0,538.6 772.0,549.5 752.6,549.5 752.0,547.7 749.0,546.7 747.0,544.5 744.0,543.8 741.9,544.5 739.1,549.5 676.2,549.5 674.0,549.0 668.0,549.5 667.0,549.1 665.5,547.5 666.2,538.5 662.0,536.2 662.3,531.5 665.0,530.1 672.0,524.8 679.0,521.3 681.9,518.5 685.0,518.2 685.9,517.5 686.0,516.5 683.3,511.5 683.2,505.5 684.0,504.1ZM709.7,528.5 707.4,530.5 709.3,533.5 711.0,533.9 715.0,533.8 716.4,533.5 717.7,532.5 717.9,530.5 717.0,529.6 712.0,527.9Z"/>
<path fill="#ffa800" stroke="#ffa800" stroke-width="0.6" d="M69.0,342.4 78.8,345.5 79.2,347.5 78.9,351.5 80.0,355.3 89.2,360.5 95.0,365.4 97.0,366.1 104.0,365.9 109.0,366.6 112.3,364.5 116.0,360.7 120.0,359.1 122.0,359.0 130.0,360.1 144.0,357.0 148.0,355.5 151.0,355.5 157.0,354.4 167.0,354.7 172.0,352.6 178.0,349.2 184.0,347.9 194.0,347.9 201.0,349.7 208.0,348.3 213.0,345.7 217.0,345.4 218.1,345.5 218.2,346.5 214.0,349.2 213.2,350.5 214.5,358.5 217.0,363.1 223.0,371.1 226.0,373.0 229.0,373.4 233.0,371.5 236.0,371.0 238.0,368.0 240.1,362.5 240.3,358.5 237.9,354.5 235.2,351.5 234.4,349.5 234.0,346.3 234.4,345.5 236.0,345.1 239.0,346.1 243.0,345.5 255.0,353.4 257.9,356.5 259.0,360.8 263.3,366.5 264.3,370.5 265.0,371.7 266.0,372.3 273.0,373.1 274.0,372.7 275.0,371.2 276.1,366.5 277.0,365.9 281.0,365.4 288.0,361.6 293.0,363.0 296.0,362.9 297.6,363.5 298.4,364.5 299.5,368.5 301.0,369.7 308.0,371.6 311.0,369.9 314.0,370.7 315.1,371.5 313.2,375.5 313.0,378.5 312.0,379.7 306.0,383.4 298.0,384.5 293.0,383.9 288.0,384.2 282.0,387.4 279.0,386.9 275.0,384.6 273.0,384.2 267.0,387.7 264.0,388.8 261.0,391.5 259.4,398.5 255.1,405.5 252.9,410.5 251.0,411.6 247.0,411.8 244.9,412.5 239.9,418.5 238.6,423.5 237.5,424.5 235.0,425.1 232.0,423.4 228.0,423.5 226.0,424.7 224.0,428.5 224.2,429.5 225.0,429.8 228.0,429.8 231.0,431.7 233.0,431.8 234.5,432.5 235.2,435.5 234.4,438.5 234.2,443.5 237.0,446.4 239.0,444.5 239.6,441.5 243.7,433.5 248.4,430.5 249.0,429.5 247.5,426.5 248.0,424.9 249.0,424.3 253.0,424.4 255.0,423.3 256.3,421.5 257.0,418.3 258.0,417.1 264.0,418.5 271.0,415.7 273.0,415.4 278.0,417.0 281.3,420.5 281.9,424.5 281.7,429.5 285.9,438.5 286.2,440.5 285.8,443.5 287.0,447.5 290.5,451.5 293.6,453.5 295.3,457.5 301.0,463.7 303.0,465.1 306.0,465.9 307.7,467.5 307.5,476.5 308.0,481.1 309.0,483.0 310.0,482.8 312.0,479.5 316.2,475.5 316.6,473.5 315.4,471.5 316.0,470.4 318.7,470.5 319.8,471.5 319.9,472.5 321.0,472.6 326.0,471.7 332.0,468.2 339.0,467.0 340.1,467.5 344.0,472.5 345.2,477.5 346.0,478.5 348.0,479.0 349.4,477.5 349.3,475.5 348.2,472.5 349.0,471.5 354.0,472.1 355.0,471.3 357.0,467.2 358.0,466.4 361.0,466.7 362.2,467.5 360.6,473.5 357.5,476.5 356.7,480.5 355.5,482.5 355.4,483.5 357.0,484.3 363.0,482.4 366.0,480.5 366.6,478.5 364.3,475.5 364.6,474.5 372.0,473.5 376.0,469.5 378.0,468.5 381.0,468.3 384.0,470.1 388.0,470.5 395.0,474.0 397.0,474.1 404.0,471.2 407.9,467.5 410.9,462.5 413.0,461.7 415.0,462.0 420.0,464.8 425.0,465.3 428.0,463.9 430.0,463.7 435.0,465.8 442.0,462.8 446.0,462.3 454.0,464.8 458.0,465.3 460.3,469.5 462.2,470.5 476.0,474.1 481.0,473.0 489.0,474.6 496.0,471.2 502.0,473.1 514.0,472.4 524.0,468.7 534.0,466.8 540.0,463.1 542.0,463.2 544.0,464.9 546.0,464.9 550.0,463.3 553.8,460.5 559.0,459.1 563.0,455.3 566.0,453.4 568.1,447.5 571.0,443.6 578.0,444.7 581.0,444.6 589.0,449.0 593.0,446.9 605.0,443.1 613.0,445.0 616.0,444.7 629.0,438.8 629.8,443.5 631.0,445.6 638.0,445.7 644.0,448.4 647.3,445.5 649.5,442.5 652.0,441.3 656.7,440.5 658.5,439.5 660.4,437.5 661.9,433.5 663.0,432.3 674.0,426.1 678.0,424.9 681.0,425.5 689.0,429.7 693.0,432.7 698.0,433.9 701.0,436.0 705.0,437.4 709.0,440.1 721.0,439.9 730.0,441.4 734.0,443.0 739.0,443.8 741.0,443.7 746.0,440.7 751.6,439.5 752.5,438.5 753.0,435.5 755.0,432.9 757.0,431.6 760.0,431.3 763.0,434.1 764.9,437.5 766.1,442.5 766.4,449.5 769.0,456.8 770.0,451.9 770.0,443.5 770.7,437.5 770.9,426.5 771.7,420.5 772.0,411.0 772.0,538.6 769.0,540.2 768.0,539.9 765.0,536.7 759.0,533.3 757.0,532.9 752.0,534.2 750.0,534.2 740.0,528.3 735.0,527.5 731.0,526.0 726.0,526.0 723.4,524.5 718.0,523.1 712.0,524.1 708.0,523.6 707.0,522.9 706.4,521.5 706.0,515.5 706.4,512.5 705.0,510.6 704.0,510.2 703.2,510.5 702.1,512.5 701.0,513.1 699.0,513.0 697.0,511.4 696.0,511.3 693.0,513.2 692.0,512.5 691.7,511.5 693.4,507.5 693.0,506.5 689.0,503.7 687.0,503.2 684.0,504.1 683.2,505.5 683.3,511.5 686.0,516.5 685.9,517.5 685.0,518.2 681.9,518.5 679.0,521.3 672.0,524.8 665.0,530.1 662.3,531.5 662.0,536.2 666.2,538.5 665.5,547.5 666.1,548.5 668.0,549.5 246.7,549.5 248.2,548.5 248.3,546.5 245.2,542.5 239.7,531.5 239.0,529.5 238.8,524.5 238.1,522.5 235.2,517.5 232.1,513.5 232.0,508.7 233.7,504.5 233.0,501.5 230.0,496.8 227.0,494.2 224.0,493.4 220.0,494.8 214.0,493.5 212.0,491.9 209.9,488.5 208.5,484.5 208.8,481.5 210.0,479.7 214.5,476.5 214.9,474.5 214.8,473.5 213.0,470.9 211.0,470.1 207.0,471.3 205.0,470.8 203.0,471.5 201.4,476.5 198.0,479.5 195.0,486.7 193.0,487.4 187.0,486.5 176.0,487.1 174.0,488.1 172.2,490.5 169.4,492.5 167.4,495.5 166.6,498.5 167.1,503.5 165.8,510.5 167.9,519.5 168.0,523.5 168.6,524.5 172.0,526.2 175.4,530.5 177.1,535.5 176.3,537.5 171.0,540.9 170.0,541.0 164.2,538.5 163.8,537.5 165.0,534.5 168.8,532.5 169.4,531.5 169.0,530.5 167.0,529.1 164.7,530.5 162.0,534.2 160.5,537.5 157.7,540.5 156.0,540.6 148.0,538.3 142.7,539.5 135.0,535.0 129.0,534.3 126.0,532.6 125.3,530.5 127.9,527.5 128.0,526.5 127.0,524.5 124.3,521.5 124.2,517.5 122.0,515.9 120.0,515.4 119.0,515.7 117.8,516.5 116.0,519.7 114.0,518.4 111.0,514.5 109.0,514.1 104.0,515.3 102.0,514.8 94.0,511.6 90.0,508.7 81.9,506.5 78.0,503.8 74.0,505.9 72.0,506.0 71.1,504.5 71.1,502.5 70.5,501.5 68.0,500.9 68.0,404.0 72.0,401.5 74.0,401.5 75.2,404.5 75.0,407.7 76.0,408.9 77.3,397.5 78.0,396.5 84.0,395.3 88.0,396.6 92.0,399.8 94.0,400.1 98.6,396.5 101.3,392.5 101.4,391.5 99.9,387.5 98.0,384.9 95.0,382.5 87.0,378.0 84.0,374.9 82.0,374.3 76.0,375.0 74.5,372.5 73.1,371.5 68.0,370.0 68.0,342.2ZM113.4,372.5 111.5,373.5 110.0,375.5 111.8,382.5 111.0,389.2 110.0,390.7 106.0,391.5 104.8,392.5 104.8,393.5 106.0,394.6 110.0,395.3 117.0,397.7 119.0,397.2 121.0,395.1 122.0,394.8 128.0,397.4 131.0,396.9 133.0,394.1 136.1,391.5 137.2,388.5 136.0,385.6 132.5,382.5 129.0,375.5 124.0,371.7ZM157.3,384.5 153.7,386.5 151.0,390.1 150.1,394.5 149.0,396.4 143.0,399.7 140.9,403.5 141.1,405.5 143.4,408.5 145.0,413.9 148.9,416.5 152.0,417.6 156.0,417.9 160.5,415.5 161.4,413.5 161.7,410.5 163.3,406.5 166.5,403.5 165.0,402.5 162.0,402.8 161.0,402.3 157.9,398.5 157.5,395.5 160.6,390.5 161.6,385.5 161.0,384.0 160.0,383.6ZM199.5,416.5 198.0,419.6 192.0,419.7 188.0,421.8 182.0,419.6 179.0,419.5 174.0,420.1 170.0,421.7 165.0,422.9 162.0,424.8 158.0,424.2 150.0,424.9 147.6,426.5 145.7,429.5 149.6,435.5 152.0,437.9 153.1,441.5 154.0,442.5 159.0,444.2 161.0,444.1 164.0,443.0 166.1,439.5 170.0,436.6 171.0,436.7 173.0,439.3 174.0,439.6 178.1,437.5 178.5,436.5 178.0,434.8 175.0,432.8 173.8,430.5 173.4,427.5 174.0,426.4 181.0,424.5 184.0,426.9 190.0,429.7 194.0,430.0 197.0,429.2 198.3,425.5 200.7,422.5 200.4,419.5 201.1,416.5 200.0,416.1ZM207.8,428.5 202.1,434.5 201.0,439.5 199.2,443.5 201.1,448.5 200.4,452.5 202.3,455.5 202.6,458.5 203.9,461.5 203.4,466.5 204.0,467.6 206.0,468.6 206.7,466.5 205.4,462.5 205.5,460.5 210.5,453.5 211.6,452.5 217.0,450.1 223.8,448.5 225.4,446.5 225.8,444.5 222.0,437.8 220.7,433.5 218.0,430.5 214.0,428.3 210.0,427.8ZM671.4,432.5 670.7,433.5 670.9,436.5 673.5,441.5 673.6,444.5 672.9,446.5 671.0,447.8 666.0,448.8 664.3,447.5 663.0,445.0 661.0,444.4 659.0,444.8 655.5,447.5 652.6,452.5 648.0,457.1 643.0,458.2 638.0,457.6 630.0,459.2 628.0,458.4 623.2,453.5 621.0,452.3 615.0,453.1 607.0,456.3 604.0,455.6 602.0,456.1 600.6,457.5 599.2,462.5 596.1,470.5 593.6,473.5 593.0,476.8 590.0,479.2 587.0,478.7 581.0,479.5 575.0,483.3 573.9,485.5 574.2,489.5 571.3,494.5 570.0,495.1 565.0,495.4 556.0,498.2 553.5,501.5 553.2,502.5 553.8,504.5 553.0,505.9 550.9,505.5 543.0,499.3 541.0,498.8 535.0,498.6 533.8,499.5 529.2,508.5 526.0,509.7 525.4,511.5 526.1,514.5 528.0,516.3 531.0,516.7 533.0,518.9 538.0,522.5 540.0,523.0 544.0,522.9 553.0,520.2 554.1,518.5 555.0,513.0 557.0,511.1 559.0,510.5 560.3,511.5 560.7,512.5 559.9,516.5 561.0,517.8 563.0,518.1 565.0,515.5 567.0,515.5 572.0,518.0 576.0,521.2 579.0,521.4 582.0,522.5 586.0,525.0 590.0,526.3 592.0,527.9 596.1,527.5 598.7,525.5 603.0,524.1 606.0,525.3 610.0,525.2 612.0,524.5 614.0,522.4 616.9,520.5 617.1,519.5 616.0,518.7 614.0,518.8 612.5,517.5 612.1,515.5 614.1,507.5 612.7,503.5 607.4,496.5 605.6,491.5 608.6,488.5 608.3,485.5 609.0,484.1 611.0,483.9 614.0,482.5 616.0,484.1 617.0,484.0 621.0,479.6 621.5,477.5 620.5,472.5 621.0,471.5 622.0,470.9 624.0,470.7 629.5,474.5 631.0,474.7 632.0,474.1 633.0,472.5 632.1,465.5 633.0,463.5 635.0,462.6 639.0,462.0 643.0,459.9 649.0,459.9 656.0,465.0 658.7,468.5 660.0,469.3 665.0,467.5 668.0,467.5 674.0,470.6 679.0,471.9 682.0,470.9 686.0,468.2 689.7,466.5 691.0,462.5 692.0,461.6 693.0,461.6 693.6,462.5 694.4,466.5 696.0,467.2 701.0,466.6 704.0,467.4 706.0,466.8 707.4,465.5 708.8,461.5 708.5,459.5 707.0,458.0 706.0,457.8 703.0,458.7 701.3,458.5 700.2,457.5 700.2,455.5 701.8,452.5 704.0,451.1 705.0,450.7 708.0,452.5 710.0,452.7 711.3,452.5 712.6,451.5 711.8,450.5 709.0,449.2 705.0,449.8 702.0,446.4 699.0,446.0 696.0,443.9 693.0,443.1 687.0,436.6 686.0,436.3 681.0,438.0 679.0,437.9 675.1,435.5 674.0,432.5 673.0,432.0ZM580.0,451.5 580.0,451.8 580.0,451.5ZM219.4,457.5 217.0,458.2 213.0,458.4 211.5,460.5 211.2,462.5 212.2,464.5 214.0,465.7 220.0,465.8 221.7,466.5 222.6,468.5 223.0,472.5 224.0,472.6 227.0,466.8 228.0,465.9 231.0,466.1 232.0,465.5 233.0,463.5 233.0,462.5 231.5,460.5 227.0,458.0 221.0,457.1ZM752.8,481.5 750.0,484.1 747.0,488.7 741.0,491.3 740.0,492.4 741.7,494.5 741.8,495.5 740.9,499.5 741.7,502.5 741.1,505.5 742.0,507.0 747.0,506.4 752.5,504.5 758.0,500.9 761.0,501.2 764.0,503.3 764.7,502.5 763.8,498.5 766.2,495.5 765.8,493.5 762.0,487.2 759.0,485.3 756.0,482.3 754.0,481.4ZM651.8,482.5 648.2,486.5 649.2,489.5 654.8,497.5 661.0,499.6 663.0,499.8 666.0,499.0 671.0,501.0 672.6,499.5 675.0,494.7 676.0,494.0 687.0,493.5 688.0,493.1 688.2,492.5 687.3,490.5 682.0,486.6 679.0,486.4 674.0,484.5 668.0,483.3 657.0,481.6 654.0,481.6ZM168.3,486.5 167.9,487.5 169.0,488.7 170.0,488.7 171.8,487.5 171.0,486.4ZM772.0,346.4 772.0,346.5 772.0,399.7 771.0,396.5 770.8,380.5 771.9,373.5 771.2,368.5 771.7,362.5 770.9,354.5ZM631.0,436.3 632.5,436.5 632.2,437.5 630.0,438.4 629.8,437.5ZM366.0,460.5 368.0,459.9 370.0,460.4 371.6,461.5 372.9,463.5 372.8,465.5 370.0,468.5 369.0,468.6 366.0,467.0 363.0,466.2 363.0,463.5ZM606.0,479.1 607.1,479.5 606.0,480.5 605.1,479.5ZM586.0,490.4 588.0,489.7 589.4,490.5 590.5,494.5 592.3,497.5 592.9,506.5 592.0,509.2 591.0,508.7 589.5,502.5 587.0,496.6 583.5,493.5 583.7,492.5ZM710.0,528.3 712.0,527.9 717.0,529.6 717.9,530.5 717.7,532.5 716.4,533.5 715.0,533.8 711.0,533.9 709.3,533.5 707.4,530.5 708.0,529.5ZM239.0,548.5 240.0,548.5 243.6,549.5 237.7,549.5ZM672.0,549.3 675.0,549.0 676.2,549.5 671.3,549.5ZM708.0,549.2 709.0,549.4 709.1,549.5 707.1,549.5Z"/>
<path fill="#ff9800" stroke="#ff9800" stroke-width="0.6" d="M69.0,370.2 74.0,372.1 76.0,375.0 82.0,374.3 84.0,374.9 87.0,378.0 95.0,382.5 98.0,384.9 99.9,387.5 101.4,391.5 101.3,392.5 98.6,396.5 94.0,400.1 92.0,399.8 88.0,396.6 84.0,395.3 78.0,396.5 77.3,397.5 76.0,408.9 75.0,407.7 75.2,404.5 74.0,401.5 72.0,401.5 68.0,404.0 68.0,370.0ZM114.0,372.4 123.0,371.7 125.0,372.2 129.0,375.5 132.5,382.5 136.0,385.6 137.1,387.5 136.9,390.5 133.0,394.1 131.0,396.9 128.0,397.4 122.0,394.8 121.0,395.1 119.0,397.2 117.0,397.7 110.0,395.3 106.0,394.6 104.8,393.5 104.8,392.5 106.0,391.5 110.0,390.7 110.9,389.5 111.8,382.5 110.0,375.5 111.5,373.5ZM200.0,416.1 201.1,416.5 200.4,419.5 200.7,422.5 198.3,425.5 197.0,429.2 194.0,430.0 190.0,429.7 184.0,426.9 181.0,424.5 174.0,426.4 173.4,427.5 173.8,430.5 175.0,432.8 178.0,434.8 178.5,436.5 178.1,437.5 174.0,439.6 173.0,439.3 171.0,436.7 170.0,436.6 166.1,439.5 164.0,443.0 161.0,444.1 159.0,444.2 154.0,442.5 153.1,441.5 152.0,437.9 149.6,435.5 145.7,429.5 147.6,426.5 150.0,424.9 158.0,424.2 162.0,424.8 165.0,422.9 170.0,421.7 174.0,420.1 179.0,419.5 182.0,419.6 188.0,421.8 192.0,419.7 198.0,419.6ZM672.0,432.2 674.0,432.5 675.1,435.5 679.0,437.9 681.0,438.0 686.0,436.3 687.0,436.6 693.0,443.1 696.0,443.9 699.0,446.0 702.0,446.4 705.0,449.8 709.0,449.2 711.8,450.5 712.6,451.5 711.3,452.5 710.0,452.7 708.0,452.5 705.0,450.7 704.0,451.1 701.8,452.5 700.2,455.5 700.2,457.5 701.3,458.5 703.0,458.7 706.0,457.8 707.0,458.0 708.5,459.5 708.8,461.5 707.4,465.5 706.0,466.8 704.0,467.4 701.0,466.6 696.0,467.2 694.4,466.5 693.6,462.5 693.0,461.6 692.0,461.6 691.0,462.5 689.7,466.5 686.0,468.2 682.0,470.9 679.0,471.9 674.0,470.6 668.0,467.5 665.0,467.5 660.0,469.3 658.7,468.5 656.0,465.0 649.0,459.9 643.0,459.9 639.0,462.0 635.0,462.6 633.0,463.5 632.1,465.5 633.0,472.5 632.0,474.1 631.0,474.7 629.5,474.5 624.0,470.7 622.0,470.9 621.0,471.5 620.5,472.5 621.5,477.5 621.0,479.6 617.0,484.0 616.0,484.1 614.0,482.5 611.0,483.9 609.0,484.1 608.3,485.5 608.6,488.5 605.6,491.5 607.4,496.5 612.7,503.5 614.1,507.5 612.1,515.5 612.5,517.5 614.0,518.8 616.0,518.7 617.1,519.5 616.9,520.5 614.0,522.4 612.0,524.5 610.0,525.2 606.0,525.3 603.0,524.1 598.7,525.5 596.1,527.5 592.0,527.9 590.0,526.3 586.0,525.0 582.0,522.5 579.0,521.4 576.0,521.2 572.0,518.0 567.0,515.5 565.0,515.5 563.0,518.1 561.0,517.8 559.9,516.5 560.7,512.5 560.3,511.5 559.0,510.5 557.0,511.1 555.0,513.0 554.1,518.5 553.0,520.2 544.0,522.9 540.0,523.0 538.0,522.5 533.0,518.9 531.0,516.7 528.0,516.3 526.1,514.5 525.4,511.5 526.0,509.7 529.2,508.5 533.8,499.5 535.0,498.6 541.0,498.8 543.0,499.3 550.9,505.5 553.0,505.9 553.8,504.5 553.2,502.5 553.5,501.5 556.0,498.2 565.0,495.4 570.0,495.1 571.3,494.5 574.2,489.5 573.9,485.5 575.0,483.3 581.0,479.5 587.0,478.7 590.0,479.2 593.0,476.8 593.6,473.5 596.1,470.5 599.2,462.5 600.6,457.5 602.0,456.1 604.0,455.6 607.0,456.3 615.0,453.1 621.0,452.3 623.2,453.5 628.0,458.4 630.0,459.2 638.0,457.6 643.0,458.2 648.0,457.1 652.6,452.5 655.5,447.5 659.0,444.8 661.0,444.4 663.0,445.0 664.3,447.5 666.0,448.8 671.0,447.8 672.9,446.5 673.6,444.5 673.5,441.5 671.3,437.5 670.6,434.5 671.0,432.8ZM605.1,479.5 606.0,480.5 607.1,479.5 606.0,479.1ZM585.9,490.5 583.7,492.5 583.5,493.5 587.0,496.6 589.5,502.5 591.0,508.7 592.0,509.2 592.9,506.5 592.3,497.5 590.5,494.5 589.9,491.5 589.0,490.1 588.0,489.7ZM753.0,481.4 756.0,482.3 759.0,485.3 762.0,487.2 765.8,493.5 766.2,495.5 763.8,498.5 764.7,502.5 764.0,503.3 761.0,501.2 758.0,500.9 752.5,504.5 747.0,506.4 742.0,507.0 741.1,505.5 741.7,502.5 740.9,499.5 741.8,495.5 741.7,494.5 740.0,492.4 741.0,491.3 747.0,488.7 750.0,484.1Z"/>
</g>
<g id="clines" fill="none" stroke="#111" stroke-width="0.55" stroke-opacity="0.85">
<path d="M158.2,90.5 163.0,96.5 165.9,98.5 172.0,104.6 181.6,112.5 185.2,116.5 197.6,125.5 201.0,129.5 204.1,131.5 209.0,136.5 220.0,145.2 224.0,149.5 228.2,152.5 247.0,168.6 253.0,172.0 265.0,166.3 267.0,166.0 267.9,166.5 268.3,175.5 269.0,177.5 271.0,179.0 275.0,178.8 280.3,187.5 286.1,193.5 290.0,195.2 299.0,192.2 299.7,191.5 288.0,191.2 285.0,190.1 283.3,188.5 281.2,182.5 281.0,179.5 282.0,178.6 287.0,179.1 294.0,183.8 300.0,185.8 306.0,188.7 315.0,186.3 320.0,184.0 331.0,181.9 345.0,182.0 352.0,183.8 356.0,183.8 364.0,182.5 376.0,178.8 390.0,180.6 398.0,180.7 407.0,183.2 412.0,182.5 416.0,183.2 418.6,182.5 425.0,178.1 432.1,166.5 435.0,163.4 448.0,157.3 457.0,154.1 462.3,150.5 463.6,146.5 466.1,142.5 466.0,141.4 464.2,138.5 462.0,131.4 458.7,128.5 457.0,124.5 457.6,112.5 458.6,109.5 460.0,108.6 471.0,107.1 477.0,107.0 482.0,105.4 487.6,101.5 488.3,99.5 488.1,96.5 489.0,95.0 494.0,95.0 496.0,93.5 497.9,90.5"/>
<path d="M114.1,90.5 114.1,93.5 113.4,95.5 112.0,97.0 109.9,97.5 110.0,99.1 113.0,105.8 121.5,119.5 124.0,125.0 128.0,130.9 130.0,133.0 133.0,135.0 137.7,140.5 141.0,142.6 143.0,143.1 147.0,142.0 151.0,142.5 152.6,141.5 152.7,140.5 151.6,137.5 152.5,131.5 152.2,128.5 151.0,127.7 147.3,127.5 146.0,126.5 145.6,125.5 146.0,123.1 147.7,118.5 147.6,117.5 145.0,113.5 145.0,111.5 146.0,110.9 147.0,111.5 150.0,116.0 154.0,117.2 159.0,117.6 160.9,120.5 161.4,126.5 163.0,127.6 165.0,127.6 169.0,126.0 174.0,127.0 180.0,126.1 183.0,124.9 186.1,122.5 188.0,121.8 191.0,123.2 196.1,127.5 196.9,129.5 196.4,133.5 197.1,136.5 196.7,140.5 196.0,142.0 193.0,142.5 189.0,144.2 186.0,143.3 183.0,143.8 181.0,146.5 179.9,150.5 173.0,154.0 170.0,154.1 167.2,153.5 164.1,149.5 162.0,148.8 161.0,149.0 158.0,152.0 153.0,154.5 153.8,156.5 160.5,163.5 166.0,167.0 167.0,167.6 170.0,166.1 171.9,166.5 172.5,168.5 171.8,171.5 172.4,172.5 174.7,174.5 178.0,176.4 180.5,180.5 186.7,186.5 190.0,187.6 194.0,186.5 197.0,186.6 204.0,188.1 210.0,190.8 211.3,192.5 211.0,196.5 212.0,198.4 215.6,197.5 221.7,194.5 239.0,183.7 242.0,182.7 247.5,184.5 248.8,186.5 248.9,188.5 248.2,190.5 245.0,192.5 243.7,194.5 244.1,195.5 246.0,197.0 254.0,200.1 258.0,198.7 262.0,195.6 269.0,193.4 270.0,193.8 271.3,195.5 273.0,199.8 275.0,200.6 283.0,198.5 290.0,199.6 298.0,195.8 308.0,193.4 321.0,187.0 330.0,185.2 344.0,185.4 353.0,187.4 361.0,186.1 370.0,182.1 379.0,180.6 388.0,182.4 399.0,182.4 407.0,184.8 412.0,184.2 418.0,184.5 423.0,182.2 427.8,178.5 434.9,167.5 437.8,164.5 450.0,158.6 457.0,156.3 463.0,153.3 465.3,151.5 469.0,146.5 469.5,144.5 468.8,140.5 464.4,130.5 461.7,126.5 461.2,117.5 462.0,115.1 466.0,114.2 471.0,114.6 476.0,113.8 481.0,114.0 485.0,112.8 489.0,112.7 491.0,111.8 494.0,108.7 495.0,108.5 499.0,109.2 504.0,108.2 516.0,108.2 520.0,106.5 528.0,104.7 533.7,99.5 537.6,97.5 547.0,96.5 557.0,94.2 562.4,92.5 565.1,90.5M155.1,90.5 158.1,94.5 159.5,98.5 158.9,101.5 157.0,104.9 156.0,106.2 154.0,106.9 148.0,106.0 146.0,105.1 143.8,102.5 141.0,95.5 136.3,91.5 136.1,90.5M165.0,112.4 167.0,113.4 167.4,114.5 167.0,115.7 166.0,116.2 163.7,115.5 163.7,113.5 165.0,112.4M165.0,129.3 164.0,129.6 162.9,131.5 163.6,134.5 164.0,135.3 165.0,135.6 166.0,134.3 166.8,131.5 166.0,129.8 165.0,129.3M157.0,139.2 155.9,140.5 157.0,141.4 163.0,142.2 166.0,143.2 167.3,142.5 167.0,141.2 165.0,139.4 159.0,138.5 157.0,139.2M207.0,147.3 212.1,148.5 214.6,150.5 214.9,151.5 213.7,154.5 213.4,158.5 212.3,162.5 213.0,163.2 217.0,163.6 218.6,162.5 216.8,158.5 218.1,152.5 218.9,151.5 220.0,151.2 223.9,152.5 227.6,155.5 231.9,160.5 231.5,162.5 228.0,165.4 223.0,164.3 220.0,165.1 215.2,170.5 213.9,174.5 209.0,177.7 208.0,177.6 203.1,172.5 205.0,168.5 204.6,165.5 205.0,164.9 208.5,164.5 210.2,163.5 208.0,161.4 205.0,161.5 201.0,158.8 200.1,159.5 200.0,160.5 200.7,164.5 200.6,168.5 201.9,172.5 200.0,175.2 198.0,175.8 194.0,175.7 191.0,172.1 188.0,171.7 186.0,171.9 183.0,175.2 182.0,175.1 181.8,173.5 184.0,164.2 185.0,162.3 188.0,161.6 191.0,159.5 197.0,157.1 199.0,157.4 200.0,156.8 201.2,154.5 205.0,151.5 205.6,148.5 207.0,147.3M240.0,167.1 242.0,167.4 246.0,171.2 249.0,172.8 250.3,174.5 250.2,175.5 247.0,177.3 246.0,177.2 243.0,173.6 239.7,172.5 238.5,169.5 239.0,167.8 240.0,167.1M251.0,205.0 244.0,211.5 242.8,213.5 243.0,214.8 245.0,215.2 248.6,212.5 252.0,205.5 251.0,205.0"/>
<path d="M103.7,90.5 113.0,107.5 120.5,119.5 123.0,124.8 128.0,132.5 160.0,164.8 170.0,173.0 185.7,187.5 197.0,196.1 206.0,204.1 208.0,204.0 215.0,200.5 218.6,200.5 221.0,204.7 229.0,208.6 232.4,212.5 229.4,218.5 229.2,221.5 231.0,222.6 233.0,222.9 238.0,222.2 239.0,223.1 240.0,225.8 249.0,220.2 258.1,215.5 263.0,212.0 275.0,209.7 282.0,206.8 290.1,204.5 299.0,198.0 301.0,197.4 309.0,197.1 316.0,193.1 320.0,190.2 323.0,189.1 342.0,188.4 349.0,190.1 353.0,189.9 361.0,188.8 370.1,183.5 379.0,181.9 388.0,184.1 400.0,184.0 407.0,186.3 412.0,185.5 419.0,186.1 424.0,183.9 429.0,180.5 440.0,165.9 451.6,160.5 462.0,157.2 467.0,153.9 472.0,148.3 473.1,146.5 472.9,143.5 469.8,137.5 465.7,127.5 466.1,125.5 467.0,125.0 470.0,124.7 474.0,126.0 482.0,122.3 486.0,121.9 490.0,120.6 495.0,121.4 498.0,121.0 502.0,122.7 512.0,122.2 516.0,121.2 517.4,121.5 520.0,124.8 523.0,123.4 524.1,123.5 529.0,127.2 538.0,126.9 541.0,125.5 548.1,119.5 552.0,115.3 556.0,116.4 559.0,114.3 562.0,114.3 563.2,113.5 563.8,110.5 564.9,108.5 570.0,103.5 573.0,103.1 579.0,100.6 588.0,99.9 610.7,90.5M735.6,90.5 734.5,94.5 735.6,96.5 734.0,100.1 733.1,104.5 730.5,111.5 731.0,113.8 732.0,115.0 735.1,116.5 738.0,117.1 742.0,116.0 745.0,113.0 748.0,111.3 751.0,107.6 753.0,107.9 756.0,110.6 758.0,110.5 765.0,106.5 770.0,102.4 772.0,101.4"/>
<path d="M102.9,90.5 111.8,106.5 120.4,120.5 122.8,125.5 129.0,134.5 159.6,165.5 163.0,167.9 185.0,187.9 196.0,196.5 205.8,205.5 206.4,207.5 205.0,210.7 204.8,213.5 208.0,219.9 210.0,220.7 218.1,221.5 217.0,227.6 217.5,228.5 222.0,228.5 226.0,229.6 228.1,229.5 234.0,227.5 235.0,227.8 236.0,229.2 238.0,229.2 252.0,220.2 264.0,214.2 289.0,207.3 295.0,204.0 300.0,200.0 308.0,200.0 311.0,199.3 321.0,191.9 324.0,190.9 341.0,190.2 345.0,191.0 349.0,193.0 354.0,191.5 362.0,190.4 368.0,187.0 375.0,184.4 379.0,183.6 387.0,186.0 397.0,185.6 407.0,187.9 413.0,187.0 421.0,189.8 427.0,190.3 429.0,189.3 431.6,186.5 438.1,176.5 445.0,169.3 454.0,165.2 464.0,162.8 468.0,160.5 470.0,157.9 471.5,153.5 479.1,145.5 480.0,141.3 484.0,138.2 486.0,137.3 492.1,136.5 496.6,137.5 501.0,139.9 504.0,139.8 505.2,136.5 507.0,133.6 509.8,131.5 511.0,131.2 514.0,131.7 518.0,134.7 523.0,133.7 526.3,134.5 532.0,137.8 537.0,136.6 542.2,136.5 546.0,135.7 554.0,136.8 559.0,135.4 564.0,134.9 576.0,129.5 579.0,127.2 580.7,123.5 582.0,122.8 589.0,124.6 592.0,126.4 597.2,126.5 602.0,129.6 611.0,127.2 619.0,130.1 622.0,130.0 626.0,130.8 628.0,130.1 632.0,126.4 638.0,124.2 640.4,124.5 649.0,129.0 653.0,129.9 655.0,129.4 661.0,125.8 665.0,126.0 671.2,125.5 676.0,126.7 682.0,126.7 687.0,124.9 692.0,129.5 703.0,134.0 714.0,136.1 720.0,138.5 726.0,138.3 728.0,137.7 732.0,140.8 739.0,143.1 745.0,147.9 747.0,148.8 750.0,149.1 752.4,148.5 757.0,143.0 759.0,142.0 761.0,142.6 766.0,145.7 772.0,144.3M772.0,181.7 769.0,181.1 768.6,181.5 767.0,185.5 766.8,187.5 768.0,188.4 772.0,187.2"/>
<path d="M102.3,90.5 111.8,107.5 119.3,119.5 122.8,126.5 127.6,133.5 133.0,140.0 147.0,153.6 158.0,165.2 162.0,168.0 184.0,188.0 196.0,197.4 204.0,204.8 204.4,206.5 202.0,208.8 194.0,214.0 188.0,219.1 185.0,220.6 175.9,227.5 176.1,228.5 178.0,229.3 180.0,231.7 182.0,232.7 187.0,233.8 197.0,233.9 197.4,234.5 196.2,238.5 198.0,239.6 207.0,239.4 214.0,237.5 220.0,237.0 231.0,232.0 234.0,232.3 236.0,231.8 240.0,229.7 251.8,221.5 264.0,215.4 290.0,208.4 301.0,204.1 312.0,203.4 321.2,194.5 325.0,192.4 336.0,191.7 342.0,192.0 344.0,192.6 347.0,195.1 349.0,195.7 355.0,192.8 362.0,191.8 368.0,189.5 372.0,189.5 376.0,187.5 378.0,187.1 382.0,187.5 385.0,189.2 389.0,188.5 392.0,189.0 394.2,190.5 395.0,192.4 398.0,192.4 402.0,190.8 406.0,190.2 411.0,188.6 415.0,189.8 426.0,198.1 431.0,198.2 438.2,194.5 438.7,192.5 438.5,187.5 440.0,182.5 441.1,180.5 445.7,175.5 457.0,170.3 459.0,170.1 464.0,170.7 466.0,170.1 468.1,168.5 472.0,164.1 477.0,161.5 478.0,161.7 481.6,164.5 489.0,167.5 493.0,167.7 496.0,165.8 497.0,166.1 499.0,168.5 501.0,169.4 503.0,169.6 505.2,168.5 506.9,166.5 506.9,164.5 506.0,161.5 507.2,159.5 509.0,158.6 514.0,159.6 517.6,158.5 520.0,156.5 527.0,156.2 530.1,157.5 533.3,161.5 534.8,162.5 540.0,163.8 542.0,163.8 548.0,160.1 561.0,154.7 565.0,154.2 571.0,154.3 574.0,156.0 579.6,155.5 580.8,154.5 580.8,153.5 578.9,151.5 578.9,150.5 580.0,148.9 582.0,147.5 585.0,147.2 589.0,145.3 591.0,145.7 593.0,147.4 595.0,152.6 598.3,155.5 600.0,159.5 601.0,160.5 609.0,161.0 613.0,159.3 617.0,161.7 622.0,160.0 624.0,160.2 626.4,161.5 629.0,163.8 633.0,164.9 637.0,169.1 640.0,170.0 643.0,170.2 646.0,168.2 648.0,168.0 652.0,171.7 657.0,173.0 659.4,172.5 664.0,169.7 670.0,169.8 672.1,170.5 677.0,174.7 680.0,175.7 685.0,173.8 691.0,175.2 697.0,172.2 704.0,171.7 712.0,168.8 714.0,169.0 714.7,170.5 715.3,176.5 714.5,179.5 714.9,181.5 721.1,185.5 723.2,189.5 725.0,190.9 727.0,190.8 732.0,188.0 733.0,188.0 743.0,190.0 746.0,191.7 747.0,191.9 750.0,190.3 752.0,190.5 759.0,193.5 763.0,192.0 765.0,192.1 767.4,190.5 772.0,188.9M583.0,150.5 582.1,152.5 582.8,153.5 585.0,153.5 586.6,152.5 586.6,151.5 585.0,149.8 583.0,150.5"/>
<path d="M101.8,90.5 111.3,107.5 119.0,119.8 122.3,126.5 134.0,143.1 147.0,155.0 157.0,166.6 162.0,169.6 166.0,173.8 171.0,177.5 181.6,187.5 195.8,198.5 203.1,205.5 200.0,208.6 193.0,212.3 188.6,215.5 183.0,218.1 180.0,220.5 178.3,220.5 177.0,218.3 172.0,215.7 167.0,215.1 166.2,215.5 167.0,218.2 169.7,223.5 170.6,228.5 168.9,231.5 161.6,237.5 161.0,238.5 162.0,241.0 163.0,241.9 166.0,242.4 170.0,244.1 176.0,243.3 178.1,243.5 179.4,244.5 179.4,247.5 180.0,248.5 188.0,250.6 190.0,250.3 195.0,247.5 202.0,245.6 206.0,245.5 210.0,246.2 215.0,244.6 229.0,236.6 237.0,232.9 250.0,224.0 264.4,216.5 296.0,207.8 303.0,206.7 309.0,206.6 313.0,207.4 315.0,206.1 323.0,195.5 326.0,193.7 337.0,193.1 341.0,193.6 343.1,194.5 347.0,198.1 349.0,198.5 357.0,193.9 367.0,191.9 380.0,190.2 384.0,191.2 389.0,191.5 393.0,196.4 397.0,197.7 399.0,197.2 406.5,192.5 410.0,191.0 411.9,191.5 414.6,193.5 417.7,196.5 422.0,202.2 423.8,203.5 428.0,204.5 432.0,203.6 439.2,200.5 441.0,198.9 444.4,190.5 449.0,181.2 450.9,178.5 455.1,176.5 460.0,175.1 463.9,175.5 473.0,178.5 477.0,178.9 486.0,184.3 492.0,186.3 498.0,185.7 501.0,183.3 507.0,180.2 511.0,181.0 516.0,183.4 522.0,181.9 526.1,183.5 531.0,187.1 536.0,189.2 538.3,191.5 545.0,200.4 554.0,202.7 556.0,202.5 562.0,200.5 565.8,197.5 567.8,194.5 569.0,194.0 572.0,194.0 583.4,197.5 587.0,199.2 592.0,198.7 597.0,200.4 601.0,200.2 602.6,199.5 604.2,198.5 605.0,196.2 606.0,195.3 612.0,194.5 614.5,195.5 617.0,199.2 619.7,200.5 625.0,204.3 625.7,206.5 625.2,208.5 630.0,209.3 633.0,207.9 638.0,207.5 644.0,205.5 652.0,211.8 658.0,210.2 659.0,210.7 660.0,212.7 661.0,213.3 663.0,212.6 663.8,211.5 664.4,207.5 666.0,204.2 667.0,203.6 670.0,204.2 673.0,203.7 676.0,204.3 680.0,206.7 683.7,207.5 686.0,209.8 687.0,210.1 695.0,210.2 699.0,210.9 716.0,209.7 723.0,211.7 727.0,214.5 735.0,218.2 743.0,219.1 750.0,217.1 756.0,217.7 759.5,216.5 762.4,213.5 764.0,212.8 765.0,213.3 766.0,215.1 767.0,215.2 768.0,208.5 767.3,204.5 768.0,200.7 769.0,199.2 772.0,199.1M153.0,177.2 150.0,178.3 149.0,179.2 149.4,183.5 154.0,193.7 156.0,196.6 158.0,197.9 158.2,190.5 156.7,185.5 158.7,182.5 158.3,181.5 156.0,179.8 155.0,177.4 154.0,176.9 153.0,177.2M619.0,208.3 618.8,209.5 621.0,210.2 623.7,209.5 623.8,208.5 621.0,207.7 619.0,208.3"/>
<path d="M101.3,90.5 111.0,108.0 119.0,120.8 122.4,127.5 129.4,137.5 136.4,152.5 149.0,186.2 153.4,195.5 161.2,209.5 168.5,225.5 169.3,228.5 168.0,230.9 153.7,241.5 147.6,246.5 145.9,248.5 146.1,250.5 148.1,251.5 150.0,253.7 152.0,254.9 155.0,255.2 163.0,254.0 165.1,256.5 167.0,256.7 175.0,254.8 179.0,254.8 188.0,257.6 191.4,257.5 195.0,254.3 197.0,253.3 201.0,252.9 204.0,251.7 206.0,252.3 207.0,251.9 227.4,240.5 242.0,231.2 249.0,226.0 257.0,223.5 264.0,218.4 292.0,211.0 302.0,210.8 307.1,211.5 317.0,209.0 319.5,206.5 323.0,199.2 326.0,195.8 337.0,195.6 339.5,196.5 340.8,198.5 341.3,202.5 342.1,204.5 346.0,207.0 348.0,207.6 350.0,207.2 353.7,204.5 354.7,202.5 355.7,198.5 358.1,196.5 378.0,192.8 387.0,193.5 388.0,194.1 392.0,199.1 398.0,200.3 400.0,200.0 407.0,195.1 409.0,194.8 414.0,197.8 421.0,205.3 428.0,210.2 432.0,212.0 448.0,214.5 454.0,213.3 458.2,211.5 463.0,207.8 469.6,206.5 470.7,205.5 469.0,203.5 469.0,202.4 472.0,201.2 473.0,201.6 477.0,208.2 480.4,210.5 479.8,215.5 482.0,218.8 483.0,223.6 484.0,224.6 486.0,225.2 490.0,225.6 494.0,224.6 497.5,224.5 502.0,221.5 507.0,223.5 512.5,222.5 516.0,221.0 520.0,220.2 522.0,220.7 524.0,222.0 533.0,216.9 537.0,218.0 542.2,218.5 548.0,222.1 553.0,223.5 557.0,227.5 559.0,228.5 562.0,229.1 566.0,228.2 569.0,228.3 574.0,226.6 579.0,227.5 580.4,228.5 580.6,229.5 577.4,232.5 576.7,237.5 578.0,243.3 579.0,243.9 579.4,242.5 582.0,239.5 587.0,230.1 587.5,228.5 587.3,226.5 588.0,225.5 590.0,225.0 594.0,227.0 601.0,233.8 606.0,236.1 611.1,237.5 616.0,242.0 621.0,243.2 628.0,246.4 635.0,244.2 640.0,244.2 644.0,241.0 649.0,240.7 651.0,240.1 653.2,237.5 668.0,240.4 672.0,238.9 677.0,235.3 683.0,235.6 687.0,234.2 689.0,234.2 692.6,236.5 688.7,240.5 689.9,244.5 689.7,246.5 689.4,248.5 688.0,250.8 686.0,252.8 684.0,253.9 680.8,252.5 679.5,248.5 678.0,247.4 676.0,247.5 674.6,249.5 675.1,251.5 678.0,253.7 679.3,256.5 679.5,261.5 678.3,263.5 679.0,265.4 680.0,265.6 680.8,264.5 681.0,261.5 683.0,261.1 684.0,261.5 684.6,263.5 688.0,266.7 689.9,269.5 689.7,271.5 687.9,273.5 683.9,275.5 683.4,278.5 681.6,281.5 682.0,284.5 681.0,286.8 678.0,288.8 675.0,289.2 672.0,290.3 668.6,293.5 667.3,297.5 667.4,301.5 666.7,306.5 666.0,307.8 662.0,312.2 660.0,313.3 657.0,313.9 653.6,316.5 646.7,328.5 645.6,331.5 645.2,334.5 647.0,344.5 650.0,347.8 650.3,350.5 649.8,352.5 647.0,353.9 645.9,355.5 649.2,365.5 645.4,370.5 644.9,374.5 645.6,381.5 647.0,384.5 648.0,385.3 654.0,387.4 655.0,386.5 656.1,383.5 656.1,375.5 656.8,371.5 656.8,366.5 658.0,361.8 665.4,352.5 664.6,348.5 665.0,346.2 667.3,342.5 669.0,337.1 672.2,331.5 674.0,325.3 676.6,321.5 678.0,317.5 682.3,310.5 684.7,304.5 688.0,301.3 691.0,296.3 692.3,292.5 692.6,287.5 694.6,278.5 697.0,275.5 706.0,271.0 709.2,267.5 713.0,265.0 721.0,262.6 734.0,260.8 740.0,259.2 743.5,256.5 750.0,255.4 752.0,252.4 753.0,252.0 756.0,252.3 760.0,253.6 764.0,252.1 765.0,253.0 768.9,271.5 768.1,282.5 769.0,299.1 770.0,301.5 772.0,303.9M772.0,310.7 771.0,311.8 770.6,318.5 771.0,321.3 772.0,322.0M202.0,254.2 198.0,257.9 194.0,258.6 193.0,259.6 192.8,261.5 194.0,262.2 196.0,261.9 199.0,259.0 202.0,258.0 203.0,257.1 203.7,254.5 203.0,254.0 202.0,254.2"/>
<path d="M100.6,90.5 109.7,107.5 112.0,110.4 118.0,120.3 121.5,127.5 129.0,138.5 144.0,175.5 147.6,186.5 151.4,194.5 160.0,209.8 162.7,216.5 167.0,225.0 168.0,228.5 167.0,230.5 155.0,239.2 143.0,247.7 123.4,260.5 117.8,266.5 117.8,267.5 119.0,268.2 121.0,268.7 127.0,268.7 133.0,266.9 141.0,266.4 146.0,268.7 150.0,265.6 158.0,264.9 170.0,266.4 176.0,265.7 181.0,263.4 182.1,263.5 183.1,265.5 193.2,272.5 196.0,272.7 198.0,271.7 202.8,267.5 205.6,257.5 207.0,255.5 211.4,251.5 228.0,242.0 251.0,226.7 255.0,227.3 256.7,228.5 256.9,229.5 255.2,232.5 255.0,234.5 258.0,240.5 259.0,240.7 261.0,239.0 262.0,239.0 268.0,240.7 274.0,244.5 279.0,250.1 281.0,251.1 285.0,251.7 288.0,253.5 289.4,252.5 290.6,249.5 293.0,248.4 296.6,248.5 298.8,251.5 301.0,252.1 311.0,249.3 316.6,249.5 320.0,248.4 324.0,249.0 327.0,246.8 335.0,238.6 342.0,237.8 348.0,236.0 353.0,236.8 357.0,236.7 366.0,240.8 369.6,243.5 370.5,244.5 371.5,247.5 373.0,248.4 380.0,248.1 386.0,245.1 394.0,245.3 396.0,245.9 399.5,248.5 409.0,252.8 411.5,254.5 414.0,255.0 419.0,253.9 422.6,249.5 422.9,248.5 422.2,247.5 420.0,246.6 417.0,246.5 415.7,245.5 415.5,244.5 417.8,240.5 423.0,236.2 425.0,236.4 430.0,238.8 434.0,240.1 435.4,241.5 436.3,244.5 438.0,247.2 440.0,248.8 441.0,248.7 443.0,246.9 445.0,246.1 450.0,246.9 452.0,246.7 462.0,242.1 473.0,241.2 475.0,241.6 481.0,244.7 490.0,250.5 492.0,250.8 495.0,250.0 498.0,247.4 504.0,245.3 506.0,245.3 512.0,247.7 516.0,248.0 520.0,246.7 523.0,243.4 529.0,242.8 531.6,244.5 534.0,248.3 535.5,254.5 539.0,256.2 543.0,260.5 546.0,261.6 551.0,262.3 556.0,264.3 561.0,264.9 567.0,264.2 569.0,264.5 580.0,273.9 584.0,274.6 588.0,272.9 591.0,272.9 598.5,265.5 601.0,264.8 602.2,265.5 603.5,268.5 606.0,271.3 610.2,274.5 612.0,279.2 613.0,280.1 614.0,279.9 616.0,277.5 620.0,277.5 629.0,276.1 630.7,276.5 633.0,279.4 636.0,280.7 637.0,280.4 638.7,277.5 642.0,276.3 644.9,278.5 650.0,281.0 653.0,283.6 654.3,288.5 657.0,292.7 657.7,295.5 656.6,299.5 653.5,303.5 652.0,307.9 651.0,308.6 650.0,308.4 648.6,305.5 646.2,302.5 645.9,300.5 648.1,297.5 648.3,296.5 646.1,292.5 645.0,292.0 643.0,292.1 642.0,292.6 640.7,294.5 640.6,296.5 642.8,302.5 645.5,305.5 646.0,309.5 648.1,312.5 645.0,322.1 640.0,327.5 635.8,334.5 635.4,344.5 636.7,349.5 636.8,352.5 635.4,359.5 635.8,363.5 635.4,367.5 632.2,377.5 635.7,381.5 637.4,384.5 642.0,386.8 642.5,388.5 642.6,393.5 645.2,397.5 647.0,398.7 651.0,399.6 655.1,406.5 657.5,408.5 660.0,409.4 662.0,409.2 666.0,407.6 667.0,405.5 662.1,381.5 662.0,376.4 663.0,375.2 673.0,373.8 675.9,372.5 681.0,363.9 689.5,354.5 690.1,351.5 690.0,344.5 692.7,341.5 695.7,336.5 697.3,332.5 700.5,328.5 702.0,323.5 703.5,320.5 705.1,312.5 706.6,309.5 709.0,306.7 713.0,306.0 716.0,303.0 719.0,301.6 727.0,302.0 728.9,300.5 731.0,297.2 736.0,297.2 742.0,295.4 748.0,292.4 753.0,292.0 756.0,290.4 759.0,285.5 763.0,283.5 765.0,286.2 766.2,289.5 766.8,296.5 768.3,304.5 767.9,314.5 768.7,332.5 769.8,336.5 769.7,341.5 770.2,342.5 772.0,342.8M212.0,535.7 210.8,539.5 211.4,545.5 216.9,545.5 217.5,544.5 214.0,537.1 213.0,535.7 212.0,535.7"/>
<path d="M99.1,90.5 100.6,95.5 100.0,98.6 98.0,99.5 95.0,98.2 93.0,98.0 89.0,100.7 87.9,100.5 87.0,99.5 84.5,91.5 81.2,90.5M68.0,108.7 70.0,108.1 72.2,105.5 74.0,104.4 81.0,103.2 83.0,103.5 84.0,105.5 83.2,110.5 84.2,116.5 85.0,117.3 88.0,118.2 91.0,119.9 96.0,121.0 99.0,123.3 101.0,122.1 104.2,117.5 108.7,113.5 111.0,112.9 113.0,115.0 114.1,118.5 112.6,121.5 112.0,124.5 108.8,127.5 107.7,129.5 107.7,130.5 114.0,133.8 118.0,132.9 121.0,134.3 124.0,134.8 126.2,137.5 127.4,144.5 127.0,145.0 121.3,144.5 120.3,145.5 119.0,148.8 118.0,149.3 115.0,148.7 112.0,150.5 109.0,150.8 101.0,153.2 96.9,157.5 96.6,159.5 96.0,159.8 94.0,159.2 87.0,159.0 86.0,158.4 85.2,156.5 84.9,146.5 85.2,145.5 87.3,143.5 88.0,141.5 84.0,139.6 83.5,136.5 80.9,133.5 77.0,130.5 73.0,129.1 72.5,128.5 72.5,124.5 71.0,122.0 70.0,121.5 68.0,122.6M68.0,163.3 70.0,162.5 73.0,160.3 75.0,161.3 76.1,163.5 75.9,164.5 75.0,165.5 70.0,167.9 68.0,168.2M68.0,170.6 70.0,171.8 71.0,173.2 73.0,178.0 73.4,180.5 73.1,182.5 72.0,183.7 70.0,184.0 68.0,183.6M68.0,194.3 73.0,195.5 74.1,196.5 75.5,199.5 74.4,202.5 74.5,203.5 76.0,204.8 77.0,204.7 78.0,203.7 78.8,200.5 79.6,199.5 83.0,197.1 85.0,197.8 85.8,199.5 85.0,201.5 82.6,203.5 81.3,206.5 78.8,208.5 78.9,209.5 81.0,212.2 81.2,213.5 80.0,215.5 78.0,216.9 77.0,217.1 74.0,215.8 71.8,213.5 69.7,206.5 71.8,203.5 72.0,202.5 71.0,202.0 68.0,203.0M68.0,266.4 74.0,267.0 78.3,266.5 79.5,265.5 79.2,261.5 80.0,260.6 85.0,261.4 91.0,258.9 91.6,257.5 89.9,254.5 90.2,251.5 89.8,250.5 87.1,247.5 83.7,242.5 83.9,241.5 85.0,240.8 86.0,241.0 88.0,242.7 92.0,240.6 93.0,240.8 96.0,243.9 100.0,243.8 104.0,245.0 105.2,246.5 106.2,250.5 103.8,253.5 102.6,263.5 101.2,265.5 103.0,267.0 103.9,269.5 103.5,271.5 102.0,273.1 100.0,274.3 98.0,274.7 96.9,274.5 95.4,272.5 95.5,270.5 96.4,268.5 98.0,266.5 99.9,265.5 99.4,264.5 96.0,263.0 89.0,264.5 90.0,269.5 87.8,274.5 87.5,277.5 88.4,280.5 90.0,282.1 97.0,281.6 106.0,278.7 113.0,279.2 117.0,277.9 121.0,278.8 126.0,278.7 135.0,281.7 138.0,282.2 143.0,284.7 145.0,284.9 151.0,279.6 153.0,275.6 156.5,274.5 160.0,272.5 163.0,271.9 167.0,272.5 171.0,274.3 177.0,279.2 181.0,279.8 183.7,279.5 185.4,278.5 186.0,277.2 187.0,276.9 190.0,280.3 191.0,280.3 199.0,275.1 204.6,270.5 205.5,268.5 207.3,258.5 208.7,256.5 213.0,252.6 228.0,244.0 238.4,236.5 249.0,230.1 249.9,230.5 248.1,233.5 250.7,237.5 250.0,239.5 248.0,239.9 243.0,239.3 241.0,240.0 227.8,254.5 227.0,256.5 228.0,260.5 232.0,263.9 239.0,267.6 241.0,268.2 244.0,265.6 247.0,266.1 253.0,263.5 254.5,263.5 254.5,264.5 252.5,266.5 253.3,268.5 255.0,269.1 263.0,269.8 265.3,270.5 266.5,271.5 269.0,276.0 276.0,281.5 283.0,280.1 292.0,281.3 296.0,280.2 301.0,277.3 310.0,277.9 312.0,278.8 314.3,284.5 316.0,286.1 324.0,285.3 328.0,286.6 330.0,286.7 335.1,282.5 335.5,280.5 334.8,278.5 335.0,277.4 339.0,279.5 343.0,278.0 347.0,278.2 352.9,274.5 356.0,270.3 360.0,269.6 365.0,269.7 369.0,267.7 372.0,268.9 373.0,268.8 377.0,267.0 380.0,267.6 384.1,270.5 390.0,272.9 394.0,275.8 396.0,276.5 401.0,276.1 405.0,274.1 409.0,274.1 413.7,270.5 415.3,268.5 418.0,267.8 422.0,268.0 427.0,270.8 429.0,271.3 436.0,270.2 440.0,271.0 445.0,270.5 451.0,273.4 456.0,273.9 460.0,276.4 465.0,277.4 467.5,276.5 468.4,275.5 468.4,274.5 466.0,272.7 459.7,271.5 462.0,268.5 464.0,267.4 467.0,267.5 471.0,266.6 473.0,267.0 475.0,268.5 479.0,267.4 486.0,270.8 486.8,271.5 487.0,272.8 485.0,274.1 482.0,273.4 477.0,274.3 472.3,277.5 472.1,279.5 472.7,280.5 474.5,281.5 479.0,282.3 484.0,280.9 487.0,279.1 490.0,278.2 494.0,280.7 497.0,283.5 498.0,283.7 499.5,283.5 501.0,282.5 502.6,279.5 502.5,278.5 499.7,276.5 499.3,275.5 500.6,274.5 503.0,274.3 506.0,275.6 508.0,275.1 510.0,275.3 512.0,277.4 513.0,277.5 516.0,275.9 518.0,275.9 521.0,278.3 525.0,280.3 527.4,282.5 529.5,287.5 529.1,290.5 529.7,291.5 533.0,293.5 536.7,299.5 540.6,302.5 542.3,305.5 545.0,308.3 552.0,309.6 555.6,309.5 557.0,308.5 559.4,303.5 561.0,302.9 563.8,304.5 564.7,308.5 566.0,310.3 568.0,310.7 571.0,308.9 576.4,313.5 576.9,314.5 575.1,317.5 575.0,318.5 579.0,323.5 587.0,324.4 592.0,323.5 596.0,325.5 598.0,325.8 600.0,325.3 601.1,322.5 603.0,321.6 605.3,322.5 610.0,327.4 615.0,327.1 615.6,327.5 613.3,331.5 613.3,335.5 614.4,339.5 614.0,343.1 613.0,344.1 610.0,343.8 609.3,345.5 609.6,349.5 609.1,351.5 607.0,354.9 604.0,357.5 604.4,362.5 605.2,364.5 605.0,366.1 604.0,366.5 603.4,362.5 602.0,361.8 601.0,362.2 600.1,364.5 601.0,366.4 602.9,368.5 601.9,371.5 602.2,374.5 607.0,385.5 608.0,386.6 613.0,388.9 615.9,393.5 617.1,394.5 629.0,398.1 640.0,398.8 648.6,406.5 657.0,410.9 661.0,411.9 666.0,411.6 669.4,409.5 669.6,407.5 668.4,397.5 669.0,395.2 675.0,392.6 678.0,390.3 681.0,388.9 689.0,389.8 694.8,388.5 696.0,382.3 700.0,380.0 701.4,377.5 704.8,373.5 705.2,371.5 704.9,363.5 705.6,362.5 709.0,361.0 711.0,359.5 711.7,357.5 711.8,353.5 714.9,350.5 715.4,346.5 717.7,342.5 718.1,339.5 720.0,336.5 728.0,336.3 737.0,337.3 741.0,336.7 744.0,332.5 751.3,328.5 755.0,324.1 757.7,322.5 759.4,318.5 761.0,317.5 761.6,318.5 761.3,321.5 764.3,324.5 766.0,328.6 768.1,336.5 768.1,342.5 769.0,343.5 772.0,343.6M130.0,148.8 133.0,153.5 132.0,154.2 129.8,150.5 129.5,149.5 130.0,148.8M104.0,160.3 105.0,159.8 106.3,160.5 106.6,161.5 105.7,164.5 107.0,167.2 112.0,169.9 114.0,169.6 118.9,165.5 120.0,165.2 122.0,165.5 125.4,169.5 127.0,170.6 128.0,170.4 131.0,167.3 133.0,167.3 134.6,168.5 135.8,172.5 135.8,174.5 134.0,176.1 126.0,179.6 124.9,181.5 124.3,187.5 122.0,189.3 119.0,189.5 111.0,186.7 108.7,184.5 106.3,179.5 106.1,177.5 107.2,174.5 107.0,173.3 106.0,172.8 103.0,173.3 101.0,172.9 97.7,170.5 96.8,168.5 98.0,162.4 102.0,161.6 104.0,160.3M128.0,207.3 133.0,208.5 141.0,207.4 143.0,209.5 143.0,213.5 142.0,214.4 137.0,215.8 133.0,218.3 131.0,221.0 123.0,225.0 121.3,224.5 119.0,221.3 118.0,220.8 117.0,221.2 114.8,223.5 113.7,228.5 113.7,231.5 112.0,234.5 109.0,237.8 102.0,240.2 100.0,241.9 99.0,241.2 98.4,239.5 99.0,236.5 98.6,234.5 96.0,232.1 95.0,229.1 94.0,227.9 93.0,227.6 90.0,229.6 86.0,227.9 81.0,228.8 79.5,227.5 80.1,222.5 82.0,220.7 90.0,219.6 94.0,222.3 96.0,222.1 98.0,220.5 101.0,216.6 107.0,212.8 113.0,211.9 117.0,213.7 119.7,212.5 122.2,209.5 128.0,207.3M143.0,223.4 147.0,222.7 149.0,224.0 151.0,226.8 151.3,230.5 154.1,236.5 152.1,238.5 147.1,241.5 143.0,241.6 140.0,243.0 139.0,242.8 137.3,240.5 135.0,239.4 131.5,235.5 130.5,233.5 130.3,230.5 131.0,228.8 132.0,228.0 135.0,227.3 140.0,224.1 143.0,223.4M73.0,252.9 75.0,252.6 77.0,254.1 77.9,257.5 77.7,259.5 75.0,259.7 73.0,258.5 71.3,256.5 71.4,254.5 73.0,252.9M605.0,332.5 600.0,333.9 596.7,339.5 596.9,343.5 598.9,348.5 597.8,354.5 598.0,356.5 599.0,357.8 601.0,357.6 601.9,356.5 600.2,350.5 603.0,347.3 604.0,343.3 605.0,341.6 607.4,340.5 608.0,339.5 608.2,336.5 607.0,332.5 605.0,332.5M210.0,521.0 206.2,525.5 203.8,530.5 203.6,536.5 204.1,540.5 202.3,546.5 203.0,547.5 208.0,548.4 220.0,548.7 223.8,547.5 224.6,546.5 224.4,545.5 219.5,538.5 218.4,535.5 217.7,530.5 215.0,526.5 213.0,521.7 211.0,520.6 210.0,521.0"/>
<path d="M68.0,300.9 72.0,302.0 74.6,303.5 75.9,305.5 77.0,305.5 80.0,302.0 85.0,301.5 87.5,297.5 87.7,294.5 86.0,292.6 82.0,295.6 77.0,298.3 76.0,297.9 75.0,294.5 75.7,289.5 74.0,286.9 73.0,286.5 75.0,286.0 80.0,287.0 89.0,287.6 101.0,286.3 103.0,287.1 106.0,289.7 108.0,290.3 110.0,290.6 116.0,289.7 125.0,291.3 126.9,292.5 129.0,296.1 130.0,296.6 137.0,292.8 144.0,293.3 150.2,290.5 155.0,290.1 156.9,288.5 160.0,284.3 167.0,280.6 169.0,281.1 175.0,285.0 179.0,289.9 183.0,293.2 185.0,298.0 188.0,300.5 191.0,301.7 199.0,301.6 202.0,300.3 203.6,295.5 209.6,288.5 210.4,281.5 210.2,274.5 209.5,271.5 210.3,270.5 212.0,270.1 213.0,270.5 219.1,276.5 221.2,279.5 223.0,280.8 233.0,283.7 236.0,283.6 239.8,286.5 245.0,289.2 251.0,288.5 256.0,293.7 260.0,295.0 264.0,297.5 266.0,297.6 268.0,297.0 268.6,297.5 270.0,303.5 272.5,305.5 284.0,308.1 286.0,307.9 288.0,306.9 291.0,300.6 298.0,297.1 314.0,297.4 325.0,296.7 327.0,297.6 332.0,301.7 334.0,302.5 336.0,302.6 344.0,297.6 346.0,297.2 349.0,297.8 355.0,293.5 364.0,291.9 368.0,289.0 371.0,288.6 375.0,289.8 377.0,289.8 383.0,288.1 392.0,284.1 396.0,283.9 397.5,284.5 398.3,285.5 398.6,288.5 398.0,290.6 394.0,294.8 393.0,295.4 388.0,293.9 385.0,294.3 380.4,296.5 381.0,298.8 388.0,301.6 390.0,301.8 392.0,301.5 395.0,297.6 396.0,297.2 406.0,297.2 410.0,298.0 412.0,296.8 413.0,293.5 421.0,290.3 422.8,290.5 426.0,291.9 433.0,293.0 437.0,292.6 439.0,293.5 442.3,297.5 446.4,298.5 446.3,300.5 443.5,305.5 444.0,307.7 446.0,308.5 451.0,309.1 456.0,311.0 462.0,307.9 463.7,309.5 466.8,316.5 468.0,318.1 471.0,319.6 478.0,320.5 479.0,321.1 481.0,324.5 481.1,328.5 484.2,331.5 486.0,336.5 486.9,340.5 486.6,344.5 489.0,346.9 489.8,348.5 490.1,350.5 489.4,356.5 492.1,362.5 490.9,366.5 491.0,367.5 492.0,368.5 497.0,370.6 499.0,370.8 502.0,368.0 508.0,367.9 513.0,368.6 523.0,367.3 527.1,360.5 529.0,359.1 532.0,358.7 535.0,360.3 538.0,364.0 543.0,365.5 547.0,365.5 549.0,366.3 552.0,370.8 555.2,372.5 558.9,375.5 559.5,377.5 559.3,385.5 560.2,386.5 567.0,386.0 568.0,385.5 568.5,384.5 568.1,381.5 569.0,380.3 574.0,380.3 575.8,381.5 580.0,390.7 581.0,391.7 584.0,392.3 585.0,393.5 585.1,396.5 584.5,400.5 585.0,401.7 586.0,402.1 591.0,402.3 594.0,404.4 598.0,403.7 602.0,403.8 611.0,406.7 615.0,407.2 618.0,409.1 622.0,409.2 626.0,408.3 628.0,408.4 642.0,413.1 652.0,412.5 657.0,415.9 662.0,415.6 664.0,416.6 667.3,413.5 672.0,410.9 677.0,412.0 682.0,408.7 686.0,407.4 692.0,408.0 696.0,409.8 700.0,410.1 706.0,409.8 711.0,408.9 715.0,410.1 718.4,409.5 719.4,408.5 719.5,404.5 721.2,402.5 722.0,398.5 723.5,396.5 722.6,391.5 723.0,389.5 726.3,387.5 730.0,383.3 732.3,377.5 733.0,373.1 736.0,370.2 737.1,366.5 739.0,363.8 743.0,361.7 745.0,361.4 753.0,364.1 762.2,365.5 764.0,366.5 766.0,370.7 767.0,371.6 768.0,365.9 768.7,346.5 770.0,344.5 772.0,344.2M227.9,549.5 229.0,547.5 228.8,545.5 225.4,540.5 224.7,538.5 225.8,537.5 229.0,537.4 229.7,536.5 229.1,534.5 227.0,531.2 221.2,526.5 214.0,513.3 210.0,509.3 209.0,509.2 207.8,511.5 207.3,515.5 206.4,517.5 201.2,522.5 198.5,526.5 197.7,529.5 196.5,547.5 198.0,548.4 203.1,549.5M217.0,253.2 219.0,253.1 219.8,254.5 218.5,258.5 215.0,261.7 211.0,263.0 210.0,262.7 209.5,260.5 210.2,258.5 214.6,254.5 217.0,253.2M546.0,375.2 542.0,377.1 536.0,378.3 529.0,378.2 527.0,379.6 525.0,382.4 524.9,385.5 529.0,386.7 532.2,391.5 534.0,392.6 541.0,393.7 542.0,393.0 543.1,389.5 545.0,388.6 546.4,389.5 547.0,393.5 552.0,391.6 555.5,387.5 555.7,379.5 555.0,378.4 554.0,378.1 551.0,378.5 550.0,378.1 548.0,375.3 546.0,375.2"/>
<path d="M68.0,320.2 70.0,319.7 72.7,316.5 72.4,312.5 73.3,311.5 83.0,310.3 84.1,314.5 84.1,318.5 85.0,321.5 86.0,322.8 88.0,323.8 95.0,323.2 97.0,322.6 101.0,320.2 107.0,319.5 115.0,321.0 121.0,320.5 124.0,322.4 128.0,327.1 134.5,328.5 139.0,329.0 143.0,327.1 148.0,328.0 153.2,326.5 155.0,325.0 155.8,322.5 154.4,316.5 150.5,309.5 150.0,306.3 152.0,303.4 153.3,299.5 155.2,296.5 163.9,287.5 167.0,285.4 169.0,286.2 170.2,287.5 173.1,292.5 176.0,300.5 178.0,303.0 181.0,305.2 185.0,306.5 191.0,310.0 198.0,311.6 201.0,312.0 208.0,310.8 215.0,311.7 219.6,315.5 221.8,319.5 223.7,321.5 231.0,324.4 245.0,321.9 252.0,319.5 256.0,319.7 261.0,317.1 268.0,316.6 273.5,317.5 276.4,321.5 283.0,327.5 286.0,328.2 288.2,327.5 292.0,323.2 297.0,322.3 301.0,319.0 303.0,318.1 305.0,318.1 308.0,320.5 310.0,320.7 314.4,317.5 323.0,316.3 325.0,316.5 329.0,318.7 337.0,324.5 341.0,325.8 350.0,331.8 354.0,331.6 360.0,333.6 364.0,332.8 367.0,331.2 369.0,331.1 372.0,332.1 376.1,334.5 382.0,334.3 384.0,334.9 386.0,336.3 390.0,335.3 393.0,336.5 396.0,339.7 398.0,340.5 400.0,342.3 401.3,344.5 401.8,346.5 401.0,347.5 400.0,347.4 396.0,346.1 393.1,347.5 392.8,349.5 394.0,351.9 396.0,352.7 398.3,352.5 399.5,351.5 402.0,347.6 405.0,347.8 406.2,348.5 408.0,353.7 413.0,355.3 416.0,357.1 420.0,361.4 424.6,362.5 424.8,363.5 424.1,366.5 425.6,372.5 425.0,373.8 421.4,376.5 421.3,377.5 425.0,382.5 428.0,384.9 431.0,388.3 431.7,387.5 431.8,385.5 433.0,384.7 435.0,385.3 436.0,386.3 436.0,387.5 434.4,390.5 433.9,394.5 434.2,398.5 435.0,399.8 440.0,402.1 444.3,402.5 445.9,400.5 446.2,396.5 447.0,393.9 448.0,392.8 450.0,392.7 454.0,395.4 458.7,397.5 463.0,402.1 465.0,405.5 468.0,408.7 470.0,408.8 474.0,407.9 477.3,408.5 479.2,414.5 482.1,420.5 486.9,425.5 488.6,426.5 491.0,427.0 499.0,425.3 502.0,423.3 505.0,422.7 510.0,420.6 514.0,420.3 518.0,419.1 522.0,417.0 529.0,417.9 538.0,416.3 543.0,419.2 547.0,422.9 549.5,423.5 551.0,422.5 551.5,420.5 554.2,415.5 558.0,413.7 560.0,413.5 563.0,413.9 572.0,418.3 576.0,418.1 578.0,419.7 580.0,423.5 582.0,424.4 590.0,425.6 594.0,428.2 598.0,427.3 600.0,427.8 602.0,427.6 603.5,425.5 605.0,425.2 614.0,426.4 618.0,424.6 625.0,422.8 630.0,423.8 634.0,422.8 638.0,424.1 642.0,424.4 646.0,425.8 651.0,424.4 653.0,426.6 656.0,427.1 661.0,425.9 665.0,423.6 671.0,418.6 674.0,417.8 680.0,420.3 687.0,422.3 698.0,424.1 701.0,427.4 706.0,427.3 709.0,429.5 714.0,428.7 718.0,426.7 724.0,425.8 730.0,426.4 734.7,423.5 736.0,421.5 738.0,415.6 743.5,411.5 743.8,410.5 743.3,407.5 744.8,405.5 746.0,405.0 752.0,404.6 758.0,401.7 760.0,399.3 761.0,398.8 762.0,399.4 764.0,403.3 768.0,414.3 769.0,412.6 769.9,401.5 768.9,397.5 769.8,347.5 770.3,345.5 772.0,344.9M68.0,339.2 72.0,340.0 76.0,341.6 78.5,341.5 81.1,334.5 82.2,327.5 82.0,325.3 81.0,323.6 77.0,322.5 75.0,322.8 74.0,325.6 73.0,326.6 68.0,325.1M233.1,549.5 233.5,545.5 237.6,542.5 237.8,541.5 233.1,528.5 226.6,522.5 224.3,517.5 221.0,514.5 216.3,505.5 214.0,502.3 211.0,499.1 207.0,496.5 204.8,498.5 201.6,504.5 201.0,504.7 197.0,501.6 193.0,500.9 192.0,501.5 191.9,502.5 192.8,505.5 191.1,507.5 189.0,507.3 186.7,504.5 185.0,504.1 181.9,505.5 177.5,509.5 177.3,510.5 179.4,519.5 186.1,530.5 187.5,535.5 188.7,542.5 187.5,546.5 185.8,549.5M211.0,298.5 212.0,298.2 213.1,299.5 214.9,306.5 214.0,308.0 213.0,307.6 210.0,303.6 208.0,303.1 207.5,302.5 208.0,301.2 211.0,298.5M164.0,317.3 163.0,318.7 163.4,319.5 165.0,319.9 166.2,319.5 167.8,317.5 167.0,316.6 164.0,317.3"/>
<path d="M68.0,342.2 78.8,345.5 79.2,347.5 78.9,351.5 80.0,355.3 89.2,360.5 95.0,365.4 97.0,366.1 104.0,365.9 109.0,366.6 112.3,364.5 116.0,360.7 120.0,359.1 122.0,359.0 130.0,360.1 144.0,357.0 148.0,355.5 151.0,355.5 157.0,354.4 167.0,354.7 172.0,352.6 178.0,349.2 184.0,347.9 194.0,347.9 201.0,349.7 208.0,348.3 213.0,345.7 217.0,345.4 218.1,345.5 218.2,346.5 214.0,349.2 213.2,350.5 214.5,358.5 217.0,363.1 223.0,371.1 226.0,373.0 229.0,373.4 233.0,371.5 236.0,371.0 238.0,368.0 240.1,362.5 240.3,358.5 237.9,354.5 235.2,351.5 234.4,349.5 234.0,346.3 234.4,345.5 236.0,345.1 239.0,346.1 243.0,345.5 255.0,353.4 257.9,356.5 259.0,360.8 263.3,366.5 264.3,370.5 265.0,371.7 266.0,372.3 273.0,373.1 274.0,372.7 275.0,371.2 276.1,366.5 277.0,365.9 281.0,365.4 288.0,361.6 293.0,363.0 296.0,362.9 297.6,363.5 298.4,364.5 299.5,368.5 301.0,369.7 308.0,371.6 311.0,369.9 314.0,370.7 315.1,371.5 313.2,375.5 313.0,378.5 312.0,379.7 306.0,383.4 298.0,384.5 293.0,383.9 288.0,384.2 282.0,387.4 279.0,386.9 275.0,384.6 273.0,384.2 267.0,387.7 264.0,388.8 261.0,391.5 259.4,398.5 255.1,405.5 252.9,410.5 251.0,411.6 247.0,411.8 244.9,412.5 239.9,418.5 238.6,423.5 237.5,424.5 235.0,425.1 232.0,423.4 228.0,423.5 226.0,424.7 224.0,428.5 224.2,429.5 225.0,429.8 228.0,429.8 231.0,431.7 233.0,431.8 234.5,432.5 235.2,435.5 234.4,438.5 234.2,443.5 237.0,446.4 239.0,444.5 239.6,441.5 243.7,433.5 248.4,430.5 249.0,429.5 247.5,426.5 248.0,424.9 249.0,424.3 253.0,424.4 255.0,423.3 256.3,421.5 257.0,418.3 258.0,417.1 264.0,418.5 271.0,415.7 273.0,415.4 278.0,417.0 281.3,420.5 281.9,424.5 281.7,429.5 285.9,438.5 286.2,440.5 285.8,443.5 287.0,447.5 290.5,451.5 293.6,453.5 295.3,457.5 301.0,463.7 303.0,465.1 306.0,465.9 307.7,467.5 307.5,476.5 308.0,481.1 309.0,483.0 310.0,482.8 312.0,479.5 316.2,475.5 316.6,473.5 315.4,471.5 316.0,470.4 318.7,470.5 319.8,471.5 319.9,472.5 321.0,472.6 326.0,471.7 332.0,468.2 339.0,467.0 340.1,467.5 344.0,472.5 345.2,477.5 346.0,478.5 348.0,479.0 349.4,477.5 349.3,475.5 348.2,472.5 349.0,471.5 354.0,472.1 355.0,471.3 357.0,467.2 358.0,466.4 361.0,466.7 362.2,467.5 360.6,473.5 357.5,476.5 356.7,480.5 355.5,482.5 355.4,483.5 357.0,484.3 363.0,482.4 366.0,480.5 366.6,478.5 364.3,475.5 364.6,474.5 372.0,473.5 376.0,469.5 378.0,468.5 381.0,468.3 384.0,470.1 388.0,470.5 395.0,474.0 397.0,474.1 404.0,471.2 407.9,467.5 410.9,462.5 413.0,461.7 415.0,462.0 420.0,464.8 425.0,465.3 428.0,463.9 430.0,463.7 435.0,465.8 442.0,462.8 446.0,462.3 454.0,464.8 458.0,465.3 460.3,469.5 462.2,470.5 476.0,474.1 481.0,473.0 489.0,474.6 496.0,471.2 502.0,473.1 514.0,472.4 524.0,468.7 534.0,466.8 540.0,463.1 542.0,463.2 544.0,464.9 546.0,464.9 550.0,463.3 553.8,460.5 559.0,459.1 563.0,455.3 566.0,453.4 568.1,447.5 571.0,443.6 578.0,444.7 581.0,444.6 589.0,449.0 593.0,446.9 605.0,443.1 613.0,445.0 616.0,444.7 629.0,438.8 629.8,443.5 631.0,445.6 638.0,445.7 644.0,448.4 647.3,445.5 649.5,442.5 652.0,441.3 656.7,440.5 658.5,439.5 660.4,437.5 661.9,433.5 663.0,432.3 674.0,426.1 678.0,424.9 681.0,425.5 689.0,429.7 693.0,432.7 698.0,433.9 701.0,436.0 705.0,437.4 709.0,440.1 721.0,439.9 730.0,441.4 734.0,443.0 739.0,443.8 741.0,443.7 746.0,440.7 751.6,439.5 752.5,438.5 753.0,435.5 755.0,432.9 757.0,431.6 760.0,431.3 763.0,434.1 764.9,437.5 766.1,442.5 766.4,449.5 769.0,456.8 770.0,451.9 770.0,443.5 770.7,437.5 770.9,426.5 771.7,420.5 772.0,411.0M772.0,399.7 771.0,396.5 770.8,380.5 771.9,373.5 771.2,368.5 771.7,362.5 770.9,354.5 772.0,346.4M772.0,538.6 769.0,540.2 768.0,539.9 765.0,536.7 759.0,533.3 757.0,532.9 752.0,534.2 750.0,534.2 740.0,528.3 735.0,527.5 731.0,526.0 726.0,526.0 723.4,524.5 718.0,523.1 712.0,524.1 708.0,523.6 707.0,522.9 706.4,521.5 706.0,515.5 706.4,512.5 705.0,510.6 704.0,510.2 703.2,510.5 702.1,512.5 701.0,513.1 699.0,513.0 697.0,511.4 696.0,511.3 693.0,513.2 692.0,512.5 691.7,511.5 693.4,507.5 693.0,506.5 688.5,503.5 686.0,503.3 684.0,504.1 683.2,505.5 683.3,511.5 686.0,516.5 685.9,517.5 685.0,518.2 681.9,518.5 679.0,521.3 672.0,524.8 665.0,530.1 662.3,531.5 662.0,536.2 666.2,538.5 665.5,547.5 666.1,548.5 668.0,549.5M246.7,549.5 248.2,548.5 248.3,546.5 245.2,542.5 239.7,531.5 239.0,529.5 238.8,524.5 238.1,522.5 235.2,517.5 232.1,513.5 232.0,508.7 233.7,504.5 233.0,501.5 230.0,496.8 227.0,494.2 224.0,493.4 220.0,494.8 214.0,493.5 212.0,491.9 209.9,488.5 208.5,484.5 208.8,481.5 210.0,479.7 214.5,476.5 214.9,474.5 214.2,472.5 212.0,470.2 208.6,470.5 207.0,471.3 205.0,470.8 203.0,471.5 201.4,476.5 198.0,479.5 195.0,486.7 193.0,487.4 187.0,486.5 176.0,487.1 174.0,488.1 172.2,490.5 169.4,492.5 167.4,495.5 166.6,498.5 167.1,503.5 165.8,510.5 167.9,519.5 168.0,523.5 168.6,524.5 172.0,526.2 175.0,529.8 177.1,535.5 176.3,537.5 171.0,540.9 170.0,541.0 165.0,538.9 163.8,537.5 165.0,534.5 168.8,532.5 169.4,531.5 169.0,530.5 167.0,529.1 164.7,530.5 162.0,534.2 160.5,537.5 157.7,540.5 156.0,540.6 148.0,538.3 142.7,539.5 135.0,535.0 129.0,534.3 126.0,532.6 125.3,530.5 127.9,527.5 128.0,526.5 127.0,524.5 124.3,521.5 124.2,517.5 122.0,515.9 120.0,515.4 119.0,515.7 117.8,516.5 116.0,519.7 114.0,518.4 111.0,514.5 109.0,514.1 104.0,515.3 102.0,514.8 94.0,511.6 90.0,508.7 81.9,506.5 78.0,503.8 74.0,505.9 72.0,506.0 71.1,504.5 71.1,502.5 70.5,501.5 68.0,500.9M158.0,384.1 153.7,386.5 150.8,390.5 149.7,395.5 148.0,397.2 143.0,399.7 140.9,403.5 141.1,405.5 143.4,408.5 145.0,413.9 151.3,417.5 156.0,417.9 160.5,415.5 161.4,413.5 161.7,410.5 163.3,406.5 166.5,403.5 165.0,402.5 162.0,402.8 161.0,402.3 157.9,398.5 157.5,395.5 160.6,390.5 161.6,385.5 161.0,384.0 160.0,383.6 158.0,384.1M208.0,428.4 202.1,434.5 201.0,439.5 199.2,443.5 201.1,448.5 200.4,452.5 202.3,455.5 202.6,458.5 203.9,461.5 203.4,466.5 204.0,467.6 206.0,468.6 206.7,466.5 205.4,462.5 205.5,460.5 210.5,453.5 211.6,452.5 217.0,450.1 223.8,448.5 225.4,446.5 225.8,444.5 222.0,437.8 220.7,433.5 219.1,431.5 216.0,429.0 214.0,428.3 210.0,427.8 208.0,428.4M220.0,457.2 217.0,458.2 213.0,458.4 211.5,460.5 211.2,462.5 212.2,464.5 214.0,465.7 220.0,465.8 221.7,466.5 222.6,468.5 223.0,472.5 224.0,472.6 227.0,466.8 228.0,465.9 231.0,466.1 232.0,465.5 233.0,463.5 233.0,462.5 231.5,460.5 227.0,458.0 220.0,457.2M366.0,460.5 368.0,459.9 370.0,460.4 371.6,461.5 372.9,463.5 372.8,465.5 370.0,468.5 369.0,468.6 366.0,467.0 363.0,466.2 363.0,463.5 366.0,460.5M652.0,482.4 648.8,485.5 648.3,487.5 653.9,496.5 657.0,498.5 662.0,499.8 667.0,499.2 669.0,500.5 671.0,501.0 672.6,499.5 675.0,494.7 676.0,494.0 687.0,493.5 688.0,493.1 688.2,492.5 687.3,490.5 682.0,486.6 679.0,486.4 674.0,484.5 668.0,483.3 657.0,481.6 654.0,481.6 652.0,482.4M710.0,528.3 712.0,527.9 717.0,529.6 717.9,530.5 717.7,532.5 716.4,533.5 715.0,533.8 711.0,533.9 709.3,533.5 707.4,530.5 708.0,529.5 710.0,528.3"/>
</g>
<g id="dlines" fill="none" stroke="#222" stroke-width="0.55" stroke-opacity="0.8" stroke-dasharray="2.5 3">
<path d="M100.1,90.5 107.0,104.5 107.1,107.5 110.2,109.5 112.1,111.5 118.0,121.5 120.7,127.5 128.0,137.7 130.4,144.5 134.2,152.5 140.6,170.5 143.2,175.5 144.8,181.5 144.7,182.5 143.3,184.5 144.6,188.5 148.0,191.6 153.5,201.5 158.0,207.6 160.1,211.5 162.2,219.5 165.0,223.2 167.0,228.5 165.6,230.5 152.0,240.5 128.0,256.5 122.6,259.5 120.8,261.5 108.8,271.5 108.0,272.5 108.2,273.5 110.0,274.4 111.0,274.5 116.0,272.6 123.0,272.6 129.0,273.3 135.0,271.7 137.0,271.7 140.1,272.5 141.3,273.5 141.8,274.5 140.8,277.5 141.2,278.5 143.0,279.2 145.0,278.1 148.6,273.5 151.0,271.3 158.0,269.2 164.0,268.8 171.0,269.7 180.0,275.0 183.0,273.3 186.0,272.8 188.3,273.5 192.0,276.1 194.0,275.9 199.0,273.1 204.0,268.5 206.3,258.5 208.0,255.9 211.6,252.5 228.6,242.5 251.0,227.5 253.7,228.5 253.7,229.5 251.3,232.5 251.1,233.5 253.6,237.5 253.7,240.5 253.3,241.5 252.0,242.3 247.8,242.5 245.7,243.5 245.6,244.5 247.5,247.5 248.4,251.5 251.0,253.7 256.0,254.0 261.0,256.7 269.0,266.5 272.3,272.5 274.0,273.5 276.0,273.5 280.0,272.0 284.0,272.8 286.0,272.4 290.1,267.5 291.2,264.5 294.0,263.1 299.0,263.7 304.0,263.0 310.0,264.0 314.0,266.1 319.0,267.0 323.0,269.2 326.0,269.1 330.6,265.5 335.0,260.5 343.0,255.9 345.0,255.3 349.0,255.3 352.0,253.3 353.0,253.7 358.0,259.7 360.0,259.9 364.0,258.6 379.0,256.8 382.1,257.5 385.0,259.0 388.3,262.5 391.0,262.8 395.2,262.5 398.0,261.0 402.1,262.5 408.0,260.1 413.0,261.2 417.0,260.6 422.0,260.6 427.0,262.2 432.0,260.8 435.0,261.5 440.0,261.6 445.0,262.7 453.0,259.3 459.0,260.1 462.0,258.2 468.4,256.5 476.0,252.2 478.0,252.7 490.3,261.5 497.0,262.9 499.0,263.0 505.0,261.8 510.0,262.2 523.1,260.5 527.0,261.9 531.3,264.5 532.7,266.5 534.0,269.9 538.0,270.4 543.0,272.0 545.2,274.5 548.0,275.6 548.8,276.5 549.3,279.5 550.0,280.1 555.0,281.2 558.0,284.6 560.0,284.8 565.0,284.1 566.3,284.5 572.0,289.1 578.0,291.8 586.0,293.9 590.0,295.9 596.0,293.3 613.0,296.6 616.1,299.5 623.0,301.2 627.0,304.5 628.3,306.5 629.7,313.5 629.4,317.5 630.6,321.5 629.0,326.7 630.7,330.5 630.1,334.5 631.0,339.5 630.5,341.5 628.0,344.7 627.0,346.8 626.3,350.5 627.0,352.7 629.2,355.5 629.4,356.5 628.0,358.8 623.0,361.8 619.0,365.8 618.1,368.5 619.0,370.2 621.0,371.6 621.4,372.5 621.2,377.5 622.0,379.5 625.1,382.5 630.0,383.6 630.9,384.5 631.1,387.5 634.0,392.2 639.0,393.8 645.0,399.7 648.1,401.5 652.4,406.5 656.5,409.5 661.0,410.8 666.0,410.1 668.2,408.5 667.5,400.5 665.0,387.5 665.0,381.4 667.0,380.5 673.0,379.8 675.3,381.5 677.0,381.8 685.0,380.7 686.5,379.5 687.1,373.5 691.0,367.8 694.3,364.5 696.0,361.3 696.5,359.5 696.2,356.5 697.0,354.2 699.7,350.5 703.8,346.5 705.8,338.5 709.3,332.5 710.2,329.5 712.2,322.5 711.7,319.5 712.1,318.5 716.0,318.1 723.0,315.5 727.0,314.8 733.0,315.8 735.0,315.7 743.0,312.1 744.3,307.5 747.4,304.5 750.0,303.9 756.5,300.5 761.0,300.8 764.0,299.3 766.0,301.5 766.9,304.5 766.2,314.5 767.8,331.5 769.0,336.6 769.0,341.6 769.2,342.5 770.0,343.0 772.0,343.2M210.0,527.5 208.5,528.5 207.3,530.5 207.3,541.5 205.5,546.5 207.0,547.3 211.0,547.6 219.0,547.2 221.1,546.5 221.3,545.5 217.2,538.5 215.0,532.1 212.0,527.9 210.0,527.5"/>
<path d="M68.0,282.6 71.0,282.7 80.0,284.8 88.0,285.6 106.0,281.8 109.5,282.5 115.0,285.4 123.0,283.6 129.0,285.1 133.0,285.1 141.0,288.3 145.0,288.4 154.0,286.4 160.0,278.4 161.9,277.5 167.0,276.7 169.4,277.5 174.0,281.0 183.0,285.0 185.9,288.5 189.0,291.1 195.0,294.1 198.0,291.6 203.0,291.4 206.0,288.7 206.6,287.5 203.6,282.5 203.1,275.5 206.6,270.5 207.8,260.5 209.0,257.8 214.9,252.5 225.0,246.7 229.0,245.0 234.6,240.5 240.0,237.3 240.3,237.5 239.7,238.5 237.4,241.5 224.0,254.5 223.1,259.5 221.0,263.5 221.3,266.5 222.0,268.5 224.0,270.2 233.0,274.6 237.0,274.9 241.0,276.0 246.0,276.3 253.0,278.5 256.0,280.5 259.0,281.0 261.7,282.5 266.0,283.6 282.0,291.2 284.0,291.0 288.0,289.4 291.0,289.2 295.0,287.1 301.0,286.5 305.0,287.1 309.1,290.5 311.0,291.4 322.0,291.0 334.0,292.9 336.5,290.5 338.0,289.9 343.0,290.5 349.0,289.7 354.4,286.5 356.0,282.6 358.0,281.1 363.0,280.6 367.0,279.0 371.0,275.6 375.0,274.5 378.0,275.1 381.2,278.5 385.0,280.2 393.0,280.5 402.0,279.5 406.0,280.7 410.0,280.4 415.0,280.9 416.7,280.5 419.0,278.6 421.0,277.9 427.0,278.9 431.0,280.9 439.0,280.7 442.8,282.5 447.0,286.5 451.6,289.5 455.0,292.6 457.5,297.5 459.0,298.7 462.0,298.9 467.0,297.0 473.0,296.1 475.0,297.0 477.1,299.5 480.0,301.8 484.0,302.2 487.0,303.6 494.0,301.2 496.0,301.8 500.0,304.4 511.0,304.8 513.1,306.5 515.4,310.5 522.1,317.5 526.7,324.5 529.3,326.5 533.0,331.2 534.7,334.5 538.0,335.0 546.0,332.4 547.5,332.5 548.7,333.5 549.5,336.5 552.0,337.7 555.0,340.0 558.0,344.5 560.0,344.7 564.0,343.9 566.0,345.3 569.3,349.5 572.9,356.5 574.0,360.6 579.0,364.0 582.0,368.0 589.0,370.5 594.0,374.5 598.6,382.5 599.9,387.5 602.4,390.5 602.8,394.5 603.8,395.5 608.7,396.5 612.0,399.5 618.0,399.7 626.0,403.2 634.3,402.5 643.0,407.2 651.4,409.5 659.0,412.8 663.0,413.4 666.0,412.8 670.0,410.5 671.0,408.5 671.0,405.1 672.0,404.1 675.8,403.5 679.0,400.9 683.4,399.5 685.1,397.5 687.0,397.4 691.0,399.1 700.0,398.1 704.0,398.7 707.0,400.4 708.0,400.3 710.0,398.0 713.0,397.6 714.0,396.7 713.7,391.5 714.6,387.5 714.5,386.5 712.4,383.5 712.3,380.5 714.0,378.1 719.9,374.5 722.0,369.5 722.7,365.5 724.9,363.5 724.9,361.5 722.2,358.5 721.9,356.5 725.0,347.9 726.0,346.7 728.0,346.0 735.0,348.8 738.0,348.6 751.0,341.7 757.0,336.9 761.0,336.1 763.0,335.0 764.0,335.4 764.9,337.5 764.5,340.5 767.0,347.7 768.7,344.5 772.0,343.9M223.9,549.5 226.0,548.4 227.0,546.5 226.2,544.5 223.0,540.5 221.6,537.5 221.9,535.5 224.0,533.5 223.7,532.5 219.0,528.3 214.4,519.5 211.0,516.8 210.0,516.9 207.2,520.5 204.0,523.5 201.0,528.7 199.8,532.5 199.7,543.5 198.9,546.5 199.5,547.5 202.7,548.5 211.7,549.5"/>
<path d="M68.0,309.9 71.0,309.8 74.0,308.8 80.0,308.6 85.0,307.3 87.0,305.5 88.0,305.6 91.0,308.0 92.0,307.8 101.0,303.5 104.0,302.8 107.0,301.4 112.0,300.5 121.0,304.7 125.0,307.8 129.0,308.0 133.0,309.2 135.0,309.0 137.0,308.1 138.3,306.5 138.4,301.5 140.1,299.5 142.4,298.5 148.0,297.4 152.0,293.8 157.0,291.4 162.0,285.5 167.0,283.2 169.0,283.6 173.0,286.9 175.1,289.5 182.4,301.5 194.3,306.5 196.0,306.3 203.0,302.4 204.8,299.5 206.1,295.5 211.3,289.5 213.1,285.5 215.0,284.4 216.0,284.6 218.1,286.5 217.3,290.5 217.7,291.5 221.0,292.9 224.0,295.9 228.0,296.0 232.3,298.5 234.3,301.5 234.7,304.5 237.0,306.6 241.0,307.1 244.0,309.6 246.0,310.0 254.0,307.2 257.4,305.5 261.0,304.9 262.0,305.2 265.0,309.6 267.0,310.9 269.0,311.3 273.0,310.9 276.0,311.5 279.0,312.6 283.0,315.7 287.0,317.1 289.0,316.4 298.6,307.5 300.7,306.5 304.0,306.2 310.0,308.0 315.0,306.2 320.0,305.3 322.0,305.7 329.0,309.6 336.4,312.5 346.0,314.0 348.0,313.5 350.0,310.7 353.0,308.2 356.0,308.1 360.3,309.5 362.0,313.7 364.2,315.5 366.0,315.9 371.0,314.9 372.0,315.2 376.0,318.7 381.0,320.1 388.0,318.5 395.0,319.9 398.1,318.5 401.0,315.5 404.0,315.9 415.0,315.3 417.2,316.5 419.1,323.5 422.0,328.5 424.0,330.6 431.0,334.6 441.2,338.5 449.0,342.8 450.4,344.5 452.5,348.5 458.1,352.5 459.1,354.5 459.6,359.5 464.7,368.5 467.0,375.7 469.1,377.5 469.1,380.5 470.0,382.8 475.0,387.3 478.0,387.1 482.1,388.5 483.0,393.6 485.1,396.5 488.0,398.5 492.0,399.4 501.0,399.6 506.0,402.8 508.0,403.3 514.0,400.5 517.2,397.5 521.0,397.3 524.0,398.5 528.6,404.5 531.0,405.9 538.0,405.4 543.0,406.3 550.0,405.2 553.0,404.3 557.0,401.2 559.0,400.9 564.0,402.2 571.0,406.0 575.0,407.2 578.0,409.9 582.0,411.1 593.0,417.2 595.0,416.0 599.0,411.0 601.2,410.5 603.2,411.5 609.0,416.0 611.0,416.6 622.0,416.4 627.0,416.8 631.0,416.0 639.0,419.8 641.0,420.0 647.0,418.6 651.0,418.8 659.0,421.9 662.0,420.5 665.0,420.2 669.0,415.2 672.0,413.8 682.0,418.2 688.0,418.8 693.0,417.2 695.0,417.1 706.0,419.1 710.0,420.9 717.0,421.8 719.0,421.5 723.0,417.8 726.0,417.1 727.0,416.3 728.4,413.5 729.1,409.5 731.4,405.5 734.1,398.5 734.9,394.5 739.0,387.4 747.0,384.9 751.0,381.3 758.0,379.2 762.0,379.1 765.1,381.5 765.6,383.5 765.4,388.5 766.2,393.5 767.0,395.2 767.6,393.5 768.1,384.5 769.3,346.5 770.0,345.1 772.0,344.5M230.6,549.5 231.0,542.5 233.9,540.5 233.9,538.5 233.0,536.2 230.0,530.9 225.5,526.5 223.0,522.0 218.4,516.5 212.0,504.4 210.0,502.0 208.0,500.7 207.0,501.2 206.4,502.5 205.3,509.5 204.0,513.2 203.0,513.7 200.0,513.1 198.0,513.6 195.4,515.5 193.0,518.3 187.9,520.5 187.3,521.5 188.0,525.5 192.7,535.5 194.2,543.5 193.7,547.5 194.2,549.5"/>
<path d="M68.0,340.5 76.0,343.0 80.0,343.6 86.0,339.5 87.5,339.5 90.0,340.4 94.0,339.2 95.0,339.5 95.6,340.5 96.4,343.5 99.4,346.5 106.0,349.0 110.0,352.6 113.0,351.4 117.0,352.3 119.0,351.9 122.0,350.3 127.0,346.2 130.0,344.7 135.0,344.7 141.0,343.2 145.0,344.0 157.0,339.1 161.0,339.1 164.0,338.3 167.0,339.3 171.0,338.6 177.0,339.0 180.0,336.6 182.3,331.5 184.0,329.9 190.0,328.4 195.0,328.6 200.0,327.4 205.0,328.6 211.0,327.7 216.0,328.3 220.7,330.5 226.0,331.3 232.0,333.7 236.0,333.5 243.0,335.0 246.0,332.8 251.0,332.8 254.0,331.5 256.0,331.4 264.0,334.5 272.0,339.1 276.0,339.3 280.0,340.7 287.0,340.2 293.0,342.4 296.0,342.0 299.0,340.1 301.0,339.5 305.0,340.7 309.0,343.0 311.0,342.9 313.0,341.9 315.9,337.5 318.5,335.5 321.0,334.6 323.0,334.8 325.0,335.5 326.3,339.5 328.4,342.5 327.6,347.5 328.2,354.5 331.0,359.3 334.0,361.5 338.0,361.6 339.0,362.2 342.0,366.4 343.0,366.5 346.0,364.4 348.0,363.8 352.3,367.5 362.0,369.8 363.0,370.5 373.6,383.5 377.0,386.9 379.4,392.5 379.6,398.5 382.9,402.5 386.0,403.5 389.0,402.4 390.0,402.7 393.1,405.5 394.3,407.5 394.7,409.5 395.9,410.5 403.0,413.1 406.0,416.3 414.0,420.2 424.0,419.0 425.7,414.5 433.0,409.6 440.0,411.5 444.0,415.0 447.0,416.7 448.6,416.5 449.7,414.5 451.3,413.5 457.7,413.5 459.0,414.5 459.5,417.5 461.0,420.3 465.5,423.5 464.5,427.5 467.2,430.5 467.6,432.5 465.7,437.5 465.4,440.5 467.0,441.7 473.0,442.6 476.0,442.4 479.0,443.9 481.0,444.3 485.0,441.3 497.0,437.0 501.0,437.0 513.0,441.5 515.0,441.8 519.0,440.5 520.4,438.5 521.2,435.5 523.0,434.2 533.0,435.6 539.0,435.0 543.0,433.1 548.0,433.9 553.0,433.2 561.0,433.9 575.0,432.6 584.0,435.4 589.0,435.4 598.0,437.9 600.0,437.5 603.0,435.3 605.0,434.9 607.0,435.5 610.0,438.9 615.0,439.9 618.8,438.5 619.8,437.5 621.1,434.5 628.0,433.2 632.0,431.1 641.0,430.5 650.0,431.0 657.0,429.8 661.0,430.7 662.0,430.4 667.7,426.5 671.0,423.3 673.0,422.1 675.0,421.7 682.0,423.3 690.0,426.4 695.0,430.1 710.0,435.9 721.0,433.9 726.0,434.7 729.0,433.7 739.0,434.1 744.0,433.0 750.0,425.2 752.0,420.0 756.0,417.8 761.0,417.7 765.5,423.5 768.0,427.9 769.0,427.0 770.0,422.4 770.8,408.5 770.8,400.5 769.8,396.5 770.1,354.5 770.6,346.5 771.0,345.6 772.0,345.4M235.1,549.5 235.1,547.5 236.0,546.3 241.0,545.1 242.0,544.5 242.1,543.5 239.3,535.5 237.0,531.5 235.0,526.5 228.6,519.5 227.0,515.0 222.0,507.0 206.0,489.7 202.0,492.5 199.0,492.4 192.0,494.0 187.0,493.7 182.8,496.5 179.0,500.0 178.0,500.6 176.0,500.6 174.0,502.4 171.9,509.5 172.4,517.5 173.7,520.5 179.6,528.5 180.7,537.5 179.4,540.5 175.0,543.7 172.2,546.5 171.8,547.5 172.0,549.5M752.6,549.5 752.0,547.7 749.0,546.7 747.0,544.5 744.0,543.8 741.9,544.5 739.1,549.5M453.0,417.4 451.5,418.5 452.0,420.5 453.0,421.6 455.0,421.9 456.6,420.5 457.1,418.5 456.0,417.4 453.0,417.4"/>
<path d="M68.0,370.0 73.1,371.5 74.5,372.5 76.0,375.0 82.0,374.3 84.0,374.9 87.0,378.0 95.0,382.5 98.0,384.9 99.9,387.5 101.4,391.5 101.3,392.5 98.6,396.5 94.0,400.1 92.0,399.8 88.0,396.6 84.0,395.3 78.0,396.5 77.3,397.5 76.0,408.9 75.0,407.7 75.2,404.5 74.0,401.5 72.0,401.5 68.0,404.0M114.0,372.4 123.0,371.7 125.0,372.2 129.0,375.5 132.5,382.5 136.0,385.6 137.1,387.5 136.9,390.5 133.0,394.1 131.0,396.9 128.0,397.4 122.0,394.8 121.0,395.1 119.0,397.2 117.0,397.7 110.0,395.3 106.0,394.6 104.8,393.5 104.8,392.5 106.0,391.5 110.0,390.7 110.9,389.5 111.8,382.5 110.0,375.5 111.5,373.5 114.0,372.4M200.0,416.1 201.1,416.5 200.4,419.5 200.7,422.5 198.3,425.5 197.0,429.2 194.0,430.0 190.0,429.7 184.0,426.9 181.0,424.5 174.0,426.4 173.4,427.5 173.8,430.5 175.0,432.8 178.0,434.8 178.5,436.5 178.1,437.5 174.0,439.6 173.0,439.3 171.0,436.7 170.0,436.6 166.1,439.5 164.0,443.0 161.0,444.1 159.0,444.2 154.0,442.5 153.1,441.5 152.0,437.9 149.6,435.5 145.7,429.5 147.6,426.5 150.0,424.9 158.0,424.2 162.0,424.8 165.0,422.9 170.0,421.7 174.0,420.1 179.0,419.5 182.0,419.6 188.0,421.8 192.0,419.7 198.0,419.6 200.0,416.1M672.0,432.2 674.0,432.5 675.1,435.5 679.0,437.9 681.0,438.0 686.0,436.3 687.0,436.6 693.0,443.1 696.0,443.9 699.0,446.0 702.0,446.4 705.0,449.8 709.0,449.2 711.8,450.5 712.6,451.5 711.3,452.5 710.0,452.7 708.0,452.5 705.0,450.7 704.0,451.1 701.8,452.5 700.2,455.5 700.2,457.5 701.3,458.5 703.0,458.7 706.0,457.8 707.0,458.0 708.5,459.5 708.8,461.5 707.4,465.5 706.0,466.8 704.0,467.4 701.0,466.6 696.0,467.2 694.4,466.5 693.6,462.5 693.0,461.6 692.0,461.6 691.0,462.5 689.7,466.5 686.0,468.2 682.0,470.9 679.0,471.9 674.0,470.6 668.0,467.5 665.0,467.5 660.0,469.3 658.7,468.5 656.0,465.0 649.0,459.9 643.0,459.9 639.0,462.0 635.0,462.6 633.0,463.5 632.1,465.5 633.0,472.5 632.0,474.1 631.0,474.7 629.5,474.5 624.0,470.7 622.0,470.9 621.0,471.5 620.5,472.5 621.5,477.5 621.0,479.6 617.0,484.0 616.0,484.1 614.0,482.5 611.0,483.9 609.0,484.1 608.3,485.5 608.6,488.5 605.6,491.5 607.4,496.5 612.7,503.5 614.1,507.5 612.1,515.5 612.5,517.5 614.0,518.8 616.0,518.7 617.1,519.5 616.9,520.5 614.0,522.4 612.0,524.5 610.0,525.2 606.0,525.3 603.0,524.1 598.7,525.5 596.1,527.5 592.0,527.9 590.0,526.3 586.0,525.0 582.0,522.5 579.0,521.4 576.0,521.2 572.0,518.0 567.0,515.5 565.0,515.5 563.0,518.1 561.0,517.8 559.9,516.5 560.7,512.5 560.3,511.5 559.0,510.5 557.0,511.1 555.0,513.0 554.1,518.5 553.0,520.2 544.0,522.9 540.0,523.0 538.0,522.5 533.0,518.9 531.0,516.7 528.0,516.3 526.1,514.5 525.4,511.5 526.0,509.7 529.2,508.5 533.8,499.5 535.0,498.6 541.0,498.8 543.0,499.3 550.9,505.5 553.0,505.9 553.8,504.5 553.2,502.5 553.5,501.5 556.0,498.2 565.0,495.4 570.0,495.1 571.3,494.5 574.2,489.5 573.9,485.5 575.0,483.3 581.0,479.5 587.0,478.7 590.0,479.2 593.0,476.8 593.6,473.5 596.1,470.5 599.2,462.5 600.6,457.5 602.0,456.1 604.0,455.6 607.0,456.3 615.0,453.1 621.0,452.3 623.2,453.5 628.0,458.4 630.0,459.2 638.0,457.6 643.0,458.2 648.0,457.1 652.6,452.5 655.5,447.5 659.0,444.8 661.0,444.4 663.0,445.0 664.3,447.5 666.0,448.8 671.0,447.8 672.9,446.5 673.6,444.5 673.5,441.5 671.3,437.5 670.6,434.5 671.0,432.8 672.0,432.2M753.0,481.4 756.0,482.3 759.0,485.3 762.0,487.2 765.8,493.5 766.2,495.5 763.8,498.5 764.7,502.5 764.0,503.3 761.0,501.2 758.0,500.9 752.5,504.5 747.0,506.4 742.0,507.0 741.1,505.5 741.7,502.5 740.9,499.5 741.8,495.5 741.7,494.5 740.0,492.4 741.0,491.3 747.0,488.7 750.0,484.1 753.0,481.4M586.0,490.4 583.7,492.5 583.5,493.5 587.0,496.6 589.5,502.5 591.0,508.7 592.0,509.2 592.9,506.5 592.3,497.5 590.5,494.5 589.4,490.5 588.0,489.7 586.0,490.4"/>
</g>
<g id="clabels" font-size="18" fill="#111" text-anchor="middle">
<text transform="translate(613 130.5) rotate(0)" y="6.4">12</text>
<text transform="translate(557.5 137) rotate(88)" y="6.4">12</text>
<text transform="translate(520.5 141) rotate(94)" y="6.4">12</text>
<text transform="translate(481.5 147) rotate(-88)" y="6.4">10</text>
<text transform="translate(444 170) rotate(65)" y="6.4">8</text>
<text transform="translate(408.5 183.5) rotate(8)" y="6.4">6</text>
<text transform="translate(334.5 186) rotate(0)" y="6.4">10</text>
<text transform="translate(292.5 200.5) rotate(-75)" y="6.4">8</text>
<text transform="translate(522.5 180) rotate(5)" y="6.4">16</text>
<text transform="translate(449.5 219.5) rotate(18)" y="6.4">18</text>
<text transform="translate(497.5 231) rotate(4)" y="6.4">18</text>
<text transform="translate(263.5 240.5) rotate(0)" y="6.4">20</text>
<text transform="translate(387 249.5) rotate(-55)" y="6.4">20</text>
<text transform="translate(244 281) rotate(90)" y="6.4">22</text>
<text transform="translate(432.5 267) rotate(-88)" y="6.4">22</text>
<text transform="translate(288.5 298.5) rotate(-14)" y="6.4">24</text>
<text transform="translate(446 305.5) rotate(0)" y="6.4">24</text>
<text transform="translate(574 311.5) rotate(55)" y="6.4">22</text>
<text transform="translate(189.5 307.5) rotate(0)" y="6.4">26</text>
<text transform="translate(365 332.5) rotate(-35)" y="6.4">26</text>
<text transform="translate(633 355) rotate(-60)" y="6.4">20</text>
<text transform="translate(271.5 383.5) rotate(0)" y="6.4">28</text>
<text transform="translate(235.5 336) rotate(0)" y="6.4">28</text>
<text transform="translate(511.5 471) rotate(14)" y="6.4">28</text>
<text transform="translate(681.3 422.8) rotate(-45)" y="6.4">28</text>
<text transform="translate(107.5 522) rotate(10)" y="6.4">28</text>
<text transform="translate(191.5 518.5) rotate(55)" y="6.4">26</text>
<text transform="translate(143 270.5) rotate(-62)" y="6.4">24</text>
</g>
<g id="land" fill="#d3d3d3" stroke="#1c2626" stroke-width="0.75" stroke-linejoin="round">
<path d="M70.0,92.5 367.5,91.2 370.5,96.5 369.0,101.0 375.0,102.5 379.5,107.0 381.0,111.5 378.0,114.5 373.5,116.8 367.5,118.2 361.5,119.8 355.5,122.0 349.5,124.2 342.0,125.3 330.0,125.8 315.0,125.9 307.6,126.2 300.8,129.2 294.1,133.7 288.4,138.2 281.7,142.7 276.1,146.1 272.7,148.3 273.8,149.2 279.4,146.7 285.1,143.4 291.8,140.0 298.6,136.6 305.3,134.3 312.1,133.2 317.7,134.1 320.4,137.1 317.1,140.4 313.7,142.7 314.3,147.2 317.7,151.7 319.3,155.5 324.5,156.7 332.4,155.8 339.1,155.1 342.5,152.8 345.9,149.4 348.6,151.2 349.9,155.1 345.9,157.8 339.1,159.6 332.4,161.8 325.6,164.5 318.9,167.5 313.2,170.8 309.4,169.9 307.6,166.8 309.8,164.1 314.3,161.8 320.0,159.1 316.6,160.0 309.8,161.2 303.1,163.2 296.3,165.4 290.7,168.6 285.1,172.0 281.7,176.5 278.3,181.0 274.9,184.4 271.5,186.6 273.8,188.9 276.1,187.7 277.2,190.0 273.8,191.6 269.3,190.7 262.5,190.2 255.8,191.3 250.1,194.5 247.2,199.7 244.5,204.6 246.2,203.8 242.5,215.0 239.7,226.2 235.0,233.8 225.6,237.5 216.2,243.1 208.8,248.8 203.1,254.4 200.3,261.9 199.8,259.5 200.9,267.1 202.6,272.6 204.7,278.0 207.4,283.4 209.1,287.8 208.9,293.2 207.4,298.6 204.9,302.1 202.6,303.0 199.3,298.6 197.1,294.3 195.5,289.9 193.3,285.6 191.2,281.2 190.6,275.8 188.4,271.5 184.1,268.2 180.3,266.6 175.4,268.8 172.2,268.0 172.5,268.2 166.9,265.9 161.2,263.6 155.6,263.6 148.8,264.8 144.3,265.9 146.6,269.3 143.2,273.8 139.8,277.2 138.7,272.7 137.6,268.2 133.1,268.2 126.3,267.5 119.6,268.2 112.8,268.2 106.0,270.4 99.3,273.8 93.7,278.3 89.2,283.9 88.0,290.7 88.5,297.4 86.9,305.3 86.2,314.3 88.0,323.4 91.4,330.1 94.8,336.9 98.2,342.5 103.8,347.0 110.5,349.3 118.4,347.7 126.3,345.9 131.9,342.5 135.3,336.9 137.6,330.1 142.1,326.7 148.8,325.6 155.6,324.5 160.1,323.8 162.4,326.7 161.2,332.4 159.0,339.1 156.7,345.9 154.5,352.6 152.2,357.1 148.8,362.8 153.3,365.0 160.1,366.2 166.9,363.9 173.6,363.4 180.4,364.4 186.0,367.3 187.6,372.5 186.7,379.7 186.0,388.7 185.3,397.7 186.0,406.0 185.6,404.0 190.5,410.3 195.9,414.6 202.9,415.9 210.1,413.0 217.1,410.9 224.1,413.2 227.5,417.3 232.4,421.5 235.6,415.9 238.1,410.9 241.4,404.0 246.4,400.4 250.6,398.3 255.8,395.6 262.5,394.5 267.0,391.1 270.4,393.4 273.8,397.9 277.2,395.6 280.6,392.7 283.9,395.6 287.3,397.9 294.1,402.4 303.1,403.5 312.1,404.6 321.1,403.5 330.1,404.6 339.1,406.2 341.4,412.5 345.9,418.2 351.5,422.7 357.1,427.2 362.8,431.7 370.7,436.2 379.7,437.3 388.7,437.3 397.7,440.7 406.7,447.4 413.5,456.5 418.0,464.3 420.0,467.7 420.1,467.7 417.9,473.4 414.5,477.4 419.0,479.4 425.8,477.4 430.3,480.1 432.5,482.4 443.8,481.2 455.1,486.9 459.6,494.8 468.6,494.8 479.8,497.0 491.1,498.1 500.1,502.6 509.1,508.3 518.1,513.9 523.8,520.7 526.0,529.7 524.9,538.7 520.4,545.4 518.6,547.5 518.5,548.5 222.1,548.8 222.1,547.5 218.7,538.7 211.9,527.4 205.2,516.2 199.5,507.1 205.2,500.4 209.7,493.6 202.9,486.9 205.2,480.1 210.8,476.7 216.4,468.9 223.2,459.8 229.9,448.6 228.8,435.1 227.7,423.8 225.4,421.5 220.9,415.9 214.2,417.0 210.8,421.5 208.6,426.1 202.9,423.8 193.9,419.3 184.9,414.8 178.1,410.3 173.6,403.5 169.1,394.5 170.2,397.7 164.6,390.9 155.6,386.4 142.1,381.9 130.8,377.4 124.1,372.9 110.5,366.2 97.0,365.0 83.5,362.8 70.0,360.5Z"/>
<path d="M381.0,116.0 378.8,119.8 375.8,124.2 373.5,126.8 375.0,128.0 378.0,127.2 381.8,129.5 384.8,131.8 390.0,131.3 394.5,132.5 392.2,134.8 393.8,137.8 396.0,137.0 397.5,140.0 400.5,143.0 401.2,146.8 398.2,150.2 393.8,149.8 392.2,146.8 390.0,143.8 385.5,145.2 381.0,148.7 376.5,148.2 378.0,146.0 375.0,144.5 367.5,144.2 360.0,143.8 354.8,143.0 357.8,138.5 363.0,134.0 367.5,129.5 370.5,124.2 374.2,119.8 378.3,116.0Z"/>
<path d="M321.0,128.8 328.5,129.5 335.2,132.2 330.0,132.8 324.0,131.0Z"/>
<path d="M175.9,323.8 180.4,319.3 187.2,317.1 196.2,315.9 201.8,317.1 200.0,315.9 208.1,316.7 216.2,319.9 224.4,324.0 232.5,328.1 240.6,332.1 247.1,334.6 250.7,336.7 247.1,338.0 240.6,336.8 234.1,334.7 229.2,333.1 224.4,330.0 217.9,325.9 211.4,323.5 204.9,322.5 200.0,322.7 198.4,321.6 191.7,322.0 184.9,324.3 178.1,325.6Z"/>
<path d="M249.6,341.1 255.2,339.4 261.8,338.6 268.2,338.6 276.4,339.4 281.2,341.1 284.5,343.5 288.6,345.4 290.4,347.6 286.9,348.5 281.2,347.7 276.4,349.2 271.5,350.8 269.9,352.6 266.6,350.2 261.8,349.4 255.2,349.8 250.4,349.4 249.6,348.1 255.2,347.6 260.9,346.8 258.5,345.1 253.6,343.8Z"/>
<path d="M299.4,348.1 304.0,347.4 309.7,348.1 310.2,350.3 304.8,351.3 299.9,350.6Z"/>
<path d="M222.8,349.2 226.8,348.1 232.5,348.7 234.9,350.3 231.7,351.9 226.0,351.6Z"/>
<path d="M254.4,328.9 256.4,328.2 258.2,329.2 256.4,330.3Z"/>
<path d="M338.2,403.1 342.5,402.6 342.5,407.1 338.7,407.1Z"/>
<path d="M187.2,325.2 189.8,324.7 190.8,327.0 188.1,327.9Z"/>
<path d="M222.4,302.1 224.4,301.2 226.0,306.1 225.7,310.7 224.1,309.4 222.8,305.3Z"/>
<path d="M771.6,226.5 761.5,229.6 751.3,230.6 741.1,230.6 733.0,227.5 728.9,230.6 725.8,234.6 723.8,238.1 703.8,255.8 702.2,267.0 695.9,273.8 684.6,280.6 675.6,288.4 668.9,296.3 662.1,307.6 656.5,318.9 653.1,327.9 655.3,336.9 657.6,348.1 655.3,361.6 650.8,372.9 652.0,384.2 654.2,390.9 655.3,390.0 662.1,396.8 668.9,405.8 675.6,414.8 682.4,423.8 689.1,429.4 695.9,435.1 702.6,440.7 711.6,445.2 718.4,446.3 727.4,444.1 736.4,441.8 745.4,440.7 756.7,442.9 763.5,440.7 771.4,438.4 772.0,438.0Z"/>
<path d="M771.6,207.1 770.0,208.2 763.5,214.3 757.4,218.3 749.2,220.4 741.1,221.4 735.0,224.1 731.9,226.5 729.9,224.1 725.8,220.4 720.7,217.3 714.6,216.7 708.5,217.3 707.5,214.3 706.1,210.2 707.5,204.1 709.5,198.0 710.5,189.8 710.1,181.7 708.5,176.6 710.5,173.5 716.7,171.9 724.8,172.5 735.0,173.1 747.2,173.5 758.4,173.5 761.5,171.5 763.5,165.4 764.5,159.3 761.5,153.2 758.4,148.1 753.3,147.1 747.2,145.0 739.1,142.0 737.6,139.9 737.6,137.9 745.2,136.5 753.3,135.9 757.4,135.9 758.4,129.8 761.5,128.7 762.5,133.2 771.6,131.8Z"/>
<path d="M750.3,91.0 748.2,97.2 747.2,102.3 741.1,107.3 736.0,112.4 739.1,116.5 747.2,117.5 752.3,115.5 747.2,120.6 739.1,123.6 733.4,126.5 741.1,125.9 751.3,124.7 761.5,123.4 771.6,121.8 771.6,91.0Z"/>
<path d="M700.4,100.2 702.4,96.2 707.5,93.7 713.6,92.1 720.7,92.1 725.8,94.1 727.9,99.2 726.8,106.3 723.8,111.4 716.7,113.5 708.5,115.5 702.4,116.5 699.4,113.5 702.4,109.4 698.3,107.3 700.4,103.3Z"/>
</g>
<g id="lakes" fill="#08ccfc" stroke="#0a1a24" stroke-width="0.8" stroke-linejoin="round">
<path d="M75.6,101.0 80.1,97.0 85.8,98.3 89.2,105.5 92.5,112.3 96.6,116.8 95.9,122.4 92.5,123.5 90.7,117.9 86.9,114.5 82.4,111.2 77.9,107.8 75.6,104.4Z"/>
<path d="M70.0,107.3 71.8,107.8 73.4,114.5 79.0,119.0 82.4,125.8 79.0,126.2 75.6,120.2 72.2,115.7 70.0,114.5Z"/>
<path d="M192.8,92.0 219.8,92.0 218.7,98.8 223.2,110.0 218.7,116.8 211.9,119.0 205.2,117.9 199.5,112.3 195.0,105.5 193.4,98.8Z"/>
<path d="M125.2,149.4 135.3,144.3 144.3,139.3 154.5,134.8 162.4,135.9 169.1,140.4 175.9,142.7 179.3,148.3 178.1,152.4 171.4,151.0 164.6,151.7 157.9,148.3 148.8,147.2 142.1,149.4 135.3,151.7 129.0,150.6Z"/>
<path d="M154.5,164.1 160.1,158.5 169.1,155.5 175.9,156.2 173.6,159.6 169.1,164.1 166.9,170.8 168.0,178.7 164.6,184.4 159.0,185.5 155.6,181.0 155.2,172.0 156.7,166.3Z"/>
<path d="M175.9,156.2 182.6,153.9 191.7,155.1 199.5,156.2 205.2,158.5 210.8,164.1 208.6,165.9 202.9,163.0 199.5,164.1 200.7,169.7 197.3,175.3 192.8,175.8 191.7,170.8 187.2,168.6 184.9,172.0 182.2,170.8 183.8,165.2 181.5,159.6Z"/>
<path d="M186.0,184.4 191.7,181.0 200.7,178.7 210.8,177.2 217.6,177.2 214.2,180.3 205.2,183.2 196.2,186.2 189.4,187.1Z"/>
<path d="M211.9,173.1 218.7,170.4 227.7,169.1 236.7,166.3 239.4,165.9 236.7,170.8 231.1,173.6 223.2,174.2 216.4,174.9Z"/>
</g>
<g fill="#0a6a80" stroke="#111" stroke-width="0.5">
<path d="M103.8,130.3 110.5,129.2 111.7,133.7 106.0,135.2 103.3,133.7Z"/>
<path d="M116.2,135.2 122.9,137.5 121.8,138.9 116.9,137.1Z"/>
</g>
<g fill="#ffe808" stroke="#222" stroke-width="0.6"><path d="M266.6,397.2 268.8,396.3 271.1,399.0 270.6,403.5 272.2,408.0 272.0,412.1 269.7,413.9 267.5,412.1 267.0,407.6 268.4,403.1 267.0,399.9Z"/></g>
<g fill="#68ffff" stroke="#123" stroke-width="0.5"><path d="M239.1,228.1 236.9,222.5 235.4,215.0 235.0,207.5 237.2,205.2 238.4,211.2 239.1,218.8 241.0,224.8Z"/><path d="M244.4,209.8 242.1,205.6 240.6,201.9 242.9,202.2 245.1,206.8Z"/></g>
<g fill="none" stroke="#222" stroke-width="0.55">
<path d="M230.6,292.7 230.0,292.6 228.9,291.9 228.0,291.0 227.9,290.3 228.5,290.4 229.6,291.1 230.5,292.0Z"/>
<path d="M234.3,300.5 233.7,300.4 232.9,299.7 232.3,298.7 232.3,298.1 232.9,298.2 233.8,298.9 234.3,299.9Z"/>
<path d="M241.9,307.1 241.2,307.0 240.2,306.2 239.4,305.2 239.3,304.5 240.0,304.6 241.0,305.4 241.8,306.4Z"/>
<path d="M246.0,315.9 245.4,315.7 244.7,314.9 244.3,313.8 244.4,313.2 245.0,313.4 245.7,314.3 246.1,315.3Z"/>
<path d="M251.7,320.2 251.1,320.4 250.0,320.1 249.2,319.3 249.0,318.7 249.7,318.5 250.7,318.8 251.6,319.6Z"/>
<path d="M217.2,293.9 217.2,294.5 216.6,295.2 215.8,295.7 215.3,295.6 215.3,295.0 215.9,294.3 216.7,293.8Z"/>
<path d="M227.5,288.8 226.9,289.0 225.8,288.8 224.8,288.3 224.5,287.7 225.1,287.5 226.2,287.7 227.2,288.2Z"/>
<path d="M330.3,350.3 329.7,351.4 328.7,351.7 327.9,351.1 327.7,349.9 328.3,348.8 329.3,348.5 330.1,349.1Z"/>
<path d="M332.4,356.6 331.8,357.7 330.8,358.0 330.0,357.4 329.8,356.2 330.4,355.1 331.4,354.8 332.2,355.4Z"/>
<path d="M340.8,364.0 340.2,365.0 339.2,365.3 338.4,364.7 338.2,363.5 338.8,362.5 339.8,362.2 340.6,362.8Z"/>
<path d="M341.8,369.9 341.3,371.0 340.3,371.3 339.4,370.7 339.3,369.5 339.8,368.4 340.8,368.1 341.7,368.7Z"/>
<path d="M344.3,375.2 343.7,376.2 342.7,376.5 341.9,375.9 341.7,374.7 342.3,373.7 343.3,373.4 344.1,374.0Z"/>
<path d="M344.5,380.4 343.9,381.5 342.9,381.8 342.1,381.2 341.9,380.0 342.5,378.9 343.5,378.6 344.3,379.2Z"/>
<path d="M342.9,385.3 342.3,386.4 341.3,386.7 340.5,386.1 340.3,384.9 340.9,383.8 341.9,383.5 342.7,384.1Z"/>
<path d="M339.4,393.0 338.8,394.1 337.8,394.4 337.0,393.8 336.8,392.6 337.4,391.5 338.4,391.2 339.2,391.8Z"/>
<path d="M354.4,385.7 353.9,386.7 352.9,387.0 352.0,386.4 351.9,385.2 352.4,384.2 353.4,383.9 354.3,384.5Z"/>
<path d="M656.8,279.4 656.1,280.3 654.5,280.6 652.9,280.3 652.2,279.4 652.9,278.5 654.5,278.1 656.1,278.5Z"/>
<path d="M662.1,281.5 661.7,282.4 660.8,282.8 659.9,282.4 659.5,281.5 659.9,280.6 660.8,280.2 661.7,280.6Z"/>
<path d="M673.1,278.7 672.8,280.3 672.0,281.0 671.2,280.3 670.9,278.7 671.2,277.1 672.0,276.5 672.8,277.1Z"/>
<path d="M676.1,274.5 675.7,275.4 674.8,275.8 673.9,275.4 673.6,274.5 673.9,273.6 674.8,273.2 675.7,273.6Z"/>
<path d="M646.2,276.6 645.8,277.7 645.1,278.1 644.3,277.7 644.0,276.6 644.3,275.5 645.1,275.1 645.8,275.5Z"/>
<path d="M652.5,248.2 652.1,248.9 651.0,249.2 649.9,248.9 649.5,248.2 649.9,247.6 651.0,247.3 652.1,247.6Z"/>
<path d="M606.1,371.8 605.7,372.9 604.8,373.4 603.9,372.9 603.5,371.8 603.9,370.7 604.8,370.2 605.7,370.7Z"/>
<path d="M611.4,364.8 611.1,365.6 610.4,366.0 609.7,365.6 609.4,364.8 609.7,364.0 610.4,363.6 611.1,364.0Z"/>
<path d="M597.2,359.9 596.8,360.6 595.7,360.9 594.6,360.6 594.2,359.9 594.6,359.2 595.7,358.9 596.8,359.2Z"/>
<path d="M595.5,358.5 595.1,359.1 594.3,359.3 593.5,359.1 593.1,358.5 593.5,357.9 594.3,357.7 595.1,357.9Z"/>
<path d="M593.6,212.9 593.0,213.5 591.5,213.8 590.0,213.5 589.4,212.9 590.0,212.3 591.5,212.0 593.0,212.3Z"/>
<path d="M573.6,208.0 573.1,208.6 571.9,208.9 570.7,208.6 570.2,208.0 570.7,207.4 571.9,207.1 573.1,207.4Z"/>
<path d="M580.7,206.6 580.4,207.2 579.6,207.4 578.8,207.2 578.5,206.6 578.8,206.0 579.6,205.8 580.4,206.0Z"/>
<path d="M552.5,201.3 552.2,202.1 551.6,202.4 551.0,202.1 550.7,201.3 551.0,200.6 551.6,200.2 552.2,200.6Z"/>
<path d="M133.9,481.7 133.4,483.6 132.3,484.4 131.2,483.6 130.7,481.7 131.2,479.8 132.3,478.9 133.4,479.8Z"/>
<path d="M139.0,481.7 138.5,482.7 137.6,483.1 136.6,482.7 136.2,481.7 136.6,480.7 137.6,480.3 138.5,480.7Z"/>
<path d="M130.6,479.9 130.3,480.9 129.5,481.2 128.7,480.9 128.4,479.9 128.7,479.0 129.5,478.6 130.3,479.0Z"/>
<path d="M145.1,483.4 144.8,484.1 143.8,484.3 142.9,484.1 142.5,483.4 142.9,482.8 143.8,482.6 144.8,482.8Z"/>
<path d="M317.8,251.4 317.5,252.0 316.8,252.2 316.0,252.0 315.8,251.4 316.0,250.8 316.8,250.6 317.5,250.8Z"/>
</g>
<path d="M761.2,413.4 763.9,415.2 765.7,414.3 767.1,417.5 770.0,418.4 768.4,421.1 770.2,423.8 768.0,426.1 769.3,429.6" fill="none" stroke="#222" stroke-width="1.3" stroke-linejoin="round"/>
</g>
<!-- GRID -->
<g id="grid" stroke="#000" stroke-opacity="0.33" stroke-width="1" fill="none">
<path d="M140 92.5V547.5M210 92.5V547.5M280 92.5V547.5M350 92.5V547.5M420 92.5V547.5M490 92.5V547.5M560 92.5V547.5M630 92.5V547.5M700 92.5V547.5"/>
<path d="M70 127.5H770M70 197.5H770M70 267.5H770M70 337.5H770M70 407.5H770M70 477.5H770"/>
</g>
<!-- FRAME + TICKS -->
<g id="frame" stroke="#000" stroke-width="1" fill="none">
<path d="M70 92.5H770M70 547.5H770"/>
<path d="M70 77V562.5M770 77V562.5" />
<path d="M140 77V92.5M210 77V92.5M280 77V92.5M350 77V92.5M420 77V92.5M490 77V92.5M560 77V92.5M630 77V92.5M700 77V92.5"/>
<path d="M140 547.5V562.5M210 547.5V562.5M280 547.5V562.5M350 547.5V562.5M420 547.5V562.5M490 547.5V562.5M560 547.5V562.5M630 547.5V562.5M700 547.5V562.5"/>
<path d="M54.5 127.5H70M54.5 197.5H70M54.5 267.5H70M54.5 337.5H70M54.5 407.5H70M54.5 477.5H70M54.5 547.5H70"/>
<path d="M770 127.5H785.5M770 197.5H785.5M770 267.5H785.5M770 337.5H785.5M770 407.5H785.5M770 477.5H785.5M770 547.5H785.5"/>
</g>
<!-- AXIS LABELS -->
<g font-size="16.5" fill="#000" text-anchor="end">
<text x="44.4" y="133.4">50N</text><text x="44.4" y="203.4">40N</text><text x="44.4" y="273.4">30N</text><text x="44.4" y="343.4">20N</text><text x="44.4" y="413.4">10N</text><text x="44.4" y="483.4">0</text><text x="44.4" y="553.4">10S</text>
</g>
<g font-size="16.5" fill="#000" text-anchor="middle">
<text x="70" y="586.6">100W</text><text x="140" y="586.6">90W</text><text x="210" y="586.6">80W</text><text x="280" y="586.6">70W</text><text x="350" y="586.6">60W</text><text x="420" y="586.6">50W</text><text x="490" y="586.6">40W</text><text x="560" y="586.6">30W</text><text x="630" y="586.6">20W</text><text x="700" y="586.6">10W</text><text x="770" y="586.6">0</text>
</g>
<!-- TITLES -->
<text x="419.8" y="75" font-size="20.65" font-weight="bold" text-anchor="middle">NWS National Hurricane Center (NCEP/NOAA)</text>
<text x="420.7" y="609.4" font-size="16.47" font-weight="bold" text-anchor="middle">Ocean Analysis - Reynolds Daily Sea Surface Temperature (C) - valid: 2025 - 04 - 01</text>
<text x="774.8" y="724.1" font-size="13.72" text-anchor="end">Data Source: National Climatic Data Center (NCDC/NOAA)</text>
<g id="cbar" stroke="#000" stroke-width="1">
<rect x="111.40" y="627.5" width="19.27" height="40" fill="#08ccfc" stroke="none"/>
<rect x="130.68" y="627.5" width="19.27" height="40" fill="#00f4ff" stroke="none"/>
<rect x="149.95" y="627.5" width="19.27" height="40" fill="#28ffff" stroke="none"/>
<rect x="169.22" y="627.5" width="19.27" height="40" fill="#48fcff" stroke="none"/>
<rect x="188.50" y="627.5" width="19.27" height="40" fill="#68ffff" stroke="none"/>
<rect x="207.78" y="627.5" width="19.27" height="40" fill="#90ffff" stroke="none"/>
<rect x="227.05" y="627.5" width="19.27" height="40" fill="#80ffd0" stroke="none"/>
<rect x="246.32" y="627.5" width="19.27" height="40" fill="#70f8a0" stroke="none"/>
<rect x="265.60" y="627.5" width="19.27" height="40" fill="#50ff60" stroke="none"/>
<rect x="284.88" y="627.5" width="19.27" height="40" fill="#20f840" stroke="none"/>
<rect x="304.15" y="627.5" width="19.27" height="40" fill="#10f010" stroke="none"/>
<rect x="323.42" y="627.5" width="19.27" height="40" fill="#30f810" stroke="none"/>
<rect x="342.70" y="627.5" width="19.27" height="40" fill="#58ff10" stroke="none"/>
<rect x="361.98" y="627.5" width="19.27" height="40" fill="#80ff10" stroke="none"/>
<rect x="381.25" y="627.5" width="19.27" height="40" fill="#b0ff10" stroke="none"/>
<rect x="400.52" y="627.5" width="19.27" height="40" fill="#d0ff10" stroke="none"/>
<rect x="419.80" y="627.5" width="19.27" height="40" fill="#d8ff10" stroke="none"/>
<rect x="439.07" y="627.5" width="19.27" height="40" fill="#e0ff10" stroke="none"/>
<rect x="458.35" y="627.5" width="19.27" height="40" fill="#e8ff10" stroke="none"/>
<rect x="477.62" y="627.5" width="19.27" height="40" fill="#f4ff10" stroke="none"/>
<rect x="496.90" y="627.5" width="19.27" height="40" fill="#ffff10" stroke="none"/>
<rect x="516.17" y="627.5" width="19.27" height="40" fill="#ffe808" stroke="none"/>
<rect x="535.45" y="627.5" width="19.27" height="40" fill="#ffd400" stroke="none"/>
<rect x="554.73" y="627.5" width="19.27" height="40" fill="#ffc000" stroke="none"/>
<rect x="574.00" y="627.5" width="19.27" height="40" fill="#ffa800" stroke="none"/>
<rect x="593.27" y="627.5" width="19.27" height="40" fill="#ff9800" stroke="none"/>
<rect x="612.55" y="627.5" width="19.27" height="40" fill="#ff8400" stroke="none"/>
<rect x="631.82" y="627.5" width="19.27" height="40" fill="#ff6c00" stroke="none"/>
<rect x="651.10" y="627.5" width="19.27" height="40" fill="#ff5c00" stroke="none"/>
<rect x="670.37" y="627.5" width="19.27" height="40" fill="#ff4800" stroke="none"/>
<rect x="689.65" y="627.5" width="19.27" height="40" fill="#ff3408" stroke="none"/>
<rect x="708.92" y="627.5" width="19.27" height="40" fill="#ff1c08" stroke="none"/>
<path d="M111.40 627.5V667.5" stroke-opacity="0.8"/>
<path d="M130.68 627.5V667.5" stroke-opacity="0.8"/>
<path d="M149.95 627.5V667.5" stroke-opacity="0.8"/>
<path d="M169.22 627.5V667.5" stroke-opacity="0.8"/>
<path d="M188.50 627.5V667.5" stroke-opacity="0.8"/>
<path d="M207.78 627.5V667.5" stroke-opacity="0.8"/>
<path d="M227.05 627.5V667.5" stroke-opacity="0.8"/>
<path d="M246.32 627.5V667.5" stroke-opacity="0.8"/>
<path d="M265.60 627.5V667.5" stroke-opacity="0.8"/>
<path d="M284.88 627.5V667.5" stroke-opacity="0.8"/>
<path d="M304.15 627.5V667.5" stroke-opacity="0.8"/>
<path d="M323.42 627.5V667.5" stroke-opacity="0.8"/>
<path d="M342.70 627.5V667.5" stroke-opacity="0.8"/>
<path d="M361.98 627.5V667.5" stroke-opacity="0.8"/>
<path d="M381.25 627.5V667.5" stroke-opacity="0.8"/>
<path d="M400.52 627.5V667.5" stroke-opacity="0.8"/>
<path d="M419.80 627.5V667.5" stroke-opacity="0.8"/>
<path d="M439.07 627.5V667.5" stroke-opacity="0.8"/>
<path d="M458.35 627.5V667.5" stroke-opacity="0.8"/>
<path d="M477.62 627.5V667.5" stroke-opacity="0.8"/>
<path d="M496.90 627.5V667.5" stroke-opacity="0.8"/>
<path d="M516.17 627.5V667.5" stroke-opacity="0.8"/>
<path d="M535.45 627.5V667.5" stroke-opacity="0.8"/>
<path d="M554.73 627.5V667.5" stroke-opacity="0.8"/>
<path d="M574.00 627.5V667.5" stroke-opacity="0.8"/>
<path d="M593.27 627.5V667.5" stroke-opacity="0.8"/>
<path d="M612.55 627.5V667.5" stroke-opacity="0.8"/>
<path d="M631.82 627.5V667.5" stroke-opacity="0.8"/>
<path d="M651.10 627.5V667.5" stroke-opacity="0.8"/>
<path d="M670.37 627.5V667.5" stroke-opacity="0.8"/>
<path d="M689.65 627.5V667.5" stroke-opacity="0.8"/>
<path d="M708.92 627.5V667.5" stroke-opacity="0.8"/>
<path d="M728.20 627.5V667.5" stroke-opacity="0.8"/>
<path d="M111.4 627.5H728.20M111.4 667.5H728.20" stroke-opacity="0.8"/>
</g>
<g font-size="20.5" text-anchor="middle" fill="#000">
<text x="130.7" y="695">5</text>
<text x="227.1" y="695">10</text>
<text x="323.4" y="695">15</text>
<text x="419.8" y="695">20</text>
<text x="516.2" y="695">25</text>
<text x="612.5" y="695">30</text>
<text x="708.9" y="695">35</text>
</g>
<g id="noaa">
<clipPath id="noaaclip"><circle cx="39.6" cy="39.9" r="23.9"/></clipPath>
<circle cx="39.6" cy="39.9" r="23.9" fill="#1c9cf2"/>
<g clip-path="url(#noaaclip)">
<path d="M10 10 H70 V26 C62 29 56 36 51 41.5 C47.5 45 43 46.5 39.5 42.5 C34 36 27 29.5 16 30.5 L10 31 Z" fill="#15157c"/>
<path d="M14.5 31 C24 28 31 32.5 36 38.5 C39.5 42.5 43.5 44.5 47.5 41 C52.5 36 57 29.5 66 25.5 L66 29 C59 33 55.5 39 51 44 C49 46.2 47 47.2 45 47.6 C48 47.4 50.5 46.4 52 46 C50 48.5 45 50.2 40 50.6 C37 50.8 34.5 50 33 49.2 C36 49.2 38.5 48.6 40.5 47.4 C37.5 46.6 35.2 44.4 33 42 C28 36.5 23 33.5 14.8 35.2 Z" fill="#fff"/>
</g>
<text x="39.6" y="30.8" font-size="7.6" font-weight="bold" fill="#fff" text-anchor="middle" textLength="20.5" lengthAdjust="spacingAndGlyphs" style="letter-spacing:0.2px">NOAA</text>
<path id="noaatop" d="M15.12 49.79 A26.4 26.4 0 1 1 64.08 49.79" fill="none"/>
<text font-size="3.5" font-weight="bold" fill="#2c2c88" stroke="#2c2c88" stroke-width="0.12" textLength="103.2" lengthAdjust="spacing"><textPath href="#noaatop" startOffset="0">NATIONAL OCEANIC AND ATMOSPHERIC ADMINISTRATION</textPath></text>
<path id="noaabot" d="M14.61 56.13 A29.8 29.8 0 0 0 64.59 56.13" fill="none"/>
<text font-size="3.5" font-weight="bold" fill="#2c2c88" stroke="#2c2c88" stroke-width="0.12" textLength="59.3" lengthAdjust="spacing"><textPath href="#noaabot" startOffset="0">U.S. DEPARTMENT OF COMMERCE</textPath></text>
<circle cx="62.6" cy="15.6" r="1.3" fill="none" stroke="#5a8a6a" stroke-width="0.6"/>
</g>
<g id="nws">
<clipPath id="nwsclip"><circle cx="760.2" cy="39.9" r="18.6"/></clipPath>
<circle cx="760.2" cy="39.9" r="18.6" fill="#3ea6e0"/>
<g clip-path="url(#nwsclip)">
<circle cx="760.2" cy="40.9" r="13.5" fill="#8cd0f0"/>
<path d="M740 47 C745 50 750 52 755 51 C760 50 764 52.5 768 52 C773 51.5 777 49 781 46 L781 50.5 C777 53.5 772 55.5 768 55.5 C764 55.5 760 53.5 756 54.5 C751 55.8 745 54 740 51 Z" fill="#fff"/>
</g>
<path d="M741.5 33.5 C743 31 746.5 30.5 748.5 31.5 C750 28 755.5 27 758.5 29 C761 26.5 766.5 26.5 768.5 29.5 C772 28.5 775.5 30.5 775.8 33.5 C779.5 33.8 781.2 37 779.8 39.8 C781 42.5 778.5 45.5 775.2 45 C774 48 770 49 767.5 47.5 C765.5 50.5 760 51 757.5 48.5 C755 50.5 750 50 748.5 47.5 C745 48 742 46 742.5 43 C739.5 41.5 739.2 36 741.5 33.5 Z" fill="#1010a4"/>
<path d="M745.8 23.6 L752.4 24.6 L760.6 33.6 L758 34.6 L764.2 40.6 L761.8 41.6 L774.6 55.2 L762.8 46.4 L765 45.4 L757.4 39.6 L759.8 38.6 L751 31 Z" fill="#fff" stroke="#fff" stroke-width="0.9" stroke-linejoin="round"/>
<path id="nwsring" d="M748.01 59.41 A23.0 23.0 0 1 1 772.39 59.41" fill="none"/>
<text font-size="7.9" font-weight="bold" fill="#ea1c2c" stroke="#ea1c2c" stroke-width="0.35" textLength="118.8" lengthAdjust="spacing"><textPath href="#nwsring" startOffset="0">NATIONAL WEATHER SERVICE</textPath></text>
<circle cx="752.6" cy="65" r="0.9" fill="#3050c0"/><circle cx="767.4" cy="65" r="0.9" fill="#3050c0"/>
<path d="M760.1 63.3 l0.6 1.5 1.6 0.1 -1.25 1 0.45 1.6 -1.4 -0.9 -1.4 0.9 0.45 -1.6 -1.25 -1 1.6 -0.1 z" fill="#ea1c2c"/>
</g>
</svg>
</body></html>
